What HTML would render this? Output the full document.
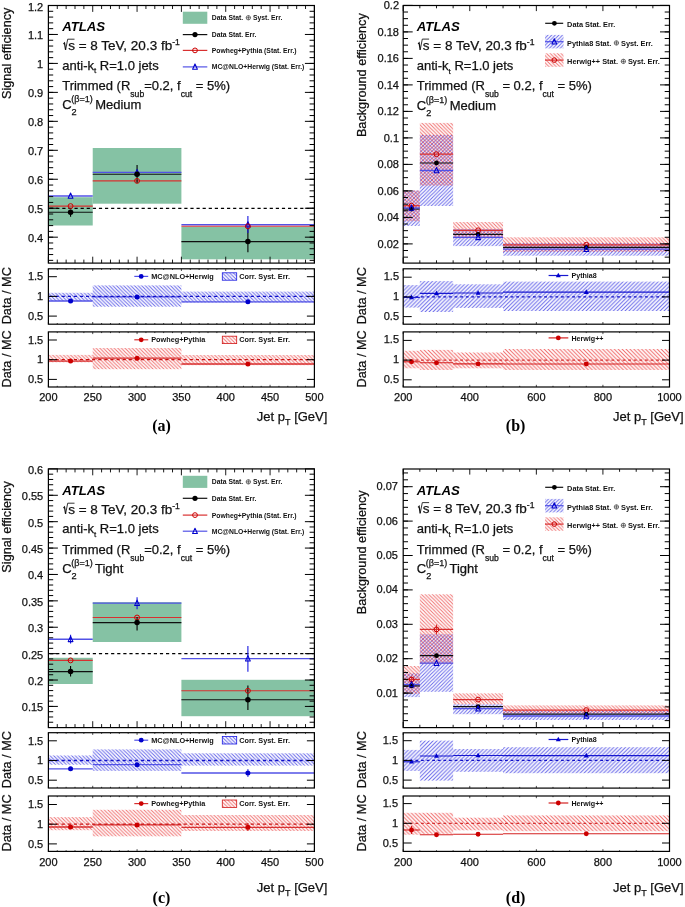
<!DOCTYPE html>
<html><head><meta charset="utf-8"><style>
html,body{margin:0;padding:0;background:#fff;}
svg{display:block;filter:blur(0.3px);}
</style></head><body>
<svg width="685" height="907" viewBox="0 0 685 907">
<rect width="685" height="907" fill="#fff"/>
<defs><pattern id="hrB" patternUnits="userSpaceOnUse" width="3.6" height="3.6"><path d="M-1,-1 L4.6,4.6 M-1,2.6 L1,4.6 M2.6,-1 L4.6,1" stroke="#2424e0" stroke-width="0.95" stroke-opacity="0.7"/></pattern><pattern id="hlB" patternUnits="userSpaceOnUse" width="3.6" height="3.6"><path d="M-1,4.6 L4.6,-1 M-1,1 L1,-1 M2.6,4.6 L4.6,2.6" stroke="#2424e0" stroke-width="0.95" stroke-opacity="0.7"/></pattern><pattern id="hrR" patternUnits="userSpaceOnUse" width="3.6" height="3.6"><path d="M-1,-1 L4.6,4.6 M-1,2.6 L1,4.6 M2.6,-1 L4.6,1" stroke="#e82424" stroke-width="0.95" stroke-opacity="0.65"/></pattern><pattern id="hlB4" patternUnits="userSpaceOnUse" width="3.9" height="3.9"><path d="M-1,4.9 L4.9,-1 M-1,1 L1,-1 M2.9,4.9 L4.9,2.9" stroke="#2424e0" stroke-width="1.0" stroke-opacity="0.7"/></pattern><pattern id="hrR4" patternUnits="userSpaceOnUse" width="3.9" height="3.9"><path d="M-1,-1 L4.9,4.9 M-1,2.9 L1,4.9 M2.9,-1 L4.9,1" stroke="#e82424" stroke-width="1.0" stroke-opacity="0.68"/></pattern></defs>
<rect x="48.4" y="197.2" width="44.33" height="28.3" fill="#85c2a4" stroke="none" stroke-width="1" />
<rect x="92.73" y="148" width="88.67" height="55.7" fill="#85c2a4" stroke="none" stroke-width="1" />
<rect x="181.4" y="226.9" width="133" height="32.4" fill="#85c2a4" stroke="none" stroke-width="1" />
<line x1="50.1" y1="208.4" x2="313.4" y2="208.4" stroke="#000" stroke-width="1.1" stroke-dasharray="3.2,2.9" stroke-linecap="butt"/>
<line x1="48.4" y1="196" x2="92.73" y2="196" stroke="#5252e6" stroke-width="1.4" stroke-linecap="butt"/>
<line x1="92.73" y1="172.4" x2="181.4" y2="172.4" stroke="#5252e6" stroke-width="1.4" stroke-linecap="butt"/>
<line x1="181.4" y1="224.7" x2="314.4" y2="224.7" stroke="#5252e6" stroke-width="1.4" stroke-linecap="butt"/>
<line x1="48.4" y1="206.1" x2="92.73" y2="206.1" stroke="#d83030" stroke-width="1.1" stroke-linecap="butt"/>
<line x1="92.73" y1="180.9" x2="181.4" y2="180.9" stroke="#d83030" stroke-width="1.1" stroke-linecap="butt"/>
<line x1="181.4" y1="226.3" x2="314.4" y2="226.3" stroke="#d83030" stroke-width="1.1" stroke-linecap="butt"/>
<line x1="48.4" y1="212.2" x2="92.73" y2="212.2" stroke="#101010" stroke-width="1.1" stroke-linecap="butt"/>
<line x1="92.73" y1="174.2" x2="181.4" y2="174.2" stroke="#101010" stroke-width="1.1" stroke-linecap="butt"/>
<line x1="181.4" y1="241.6" x2="314.4" y2="241.6" stroke="#101010" stroke-width="1.1" stroke-linecap="butt"/>
<line x1="70.57" y1="209.8" x2="70.57" y2="216.8" stroke="#000" stroke-width="1.1" stroke-linecap="butt"/>
<line x1="137.07" y1="165" x2="137.07" y2="183" stroke="#000" stroke-width="1.1" stroke-linecap="butt"/>
<line x1="247.9" y1="228.4" x2="247.9" y2="252.3" stroke="#000" stroke-width="1.1" stroke-linecap="butt"/>
<line x1="247.9" y1="216" x2="247.9" y2="233" stroke="#1818e0" stroke-width="1.1" stroke-linecap="butt"/>
<path d="M70.57,193 L72.97,198.3 L68.17,198.3 Z" fill="none" stroke="#0000cc" stroke-width="1.05" stroke-linejoin="round"/>
<path d="M137.07,169.4 L139.47,174.7 L134.67,174.7 Z" fill="none" stroke="#0000cc" stroke-width="1.05" stroke-linejoin="round"/>
<path d="M247.9,221.7 L250.3,227 L245.5,227 Z" fill="none" stroke="#0000cc" stroke-width="1.05" stroke-linejoin="round"/>
<circle cx="70.57" cy="206.1" r="2.45" fill="none" stroke="#cc0000" stroke-width="1"/>
<circle cx="137.07" cy="180.9" r="2.45" fill="none" stroke="#cc0000" stroke-width="1"/>
<circle cx="247.9" cy="226.3" r="2.45" fill="none" stroke="#cc0000" stroke-width="1"/>
<circle cx="70.57" cy="212.2" r="2.75" fill="#000"/>
<circle cx="137.07" cy="174.2" r="2.75" fill="#000"/>
<circle cx="247.9" cy="241.6" r="2.75" fill="#000"/>
<rect x="48.4" y="5.5" width="266" height="257.6" fill="none" stroke="#000" stroke-width="1.2" />
<line x1="48.4" y1="263.1" x2="48.4" y2="256.7" stroke="#000" stroke-width="0.9" stroke-linecap="butt"/>
<line x1="48.4" y1="5.5" x2="48.4" y2="11.9" stroke="#000" stroke-width="0.9" stroke-linecap="butt"/>
<line x1="57.27" y1="263.1" x2="57.27" y2="259.6" stroke="#000" stroke-width="0.9" stroke-linecap="butt"/>
<line x1="57.27" y1="5.5" x2="57.27" y2="9" stroke="#000" stroke-width="0.9" stroke-linecap="butt"/>
<line x1="66.13" y1="263.1" x2="66.13" y2="259.6" stroke="#000" stroke-width="0.9" stroke-linecap="butt"/>
<line x1="66.13" y1="5.5" x2="66.13" y2="9" stroke="#000" stroke-width="0.9" stroke-linecap="butt"/>
<line x1="75" y1="263.1" x2="75" y2="259.6" stroke="#000" stroke-width="0.9" stroke-linecap="butt"/>
<line x1="75" y1="5.5" x2="75" y2="9" stroke="#000" stroke-width="0.9" stroke-linecap="butt"/>
<line x1="83.87" y1="263.1" x2="83.87" y2="259.6" stroke="#000" stroke-width="0.9" stroke-linecap="butt"/>
<line x1="83.87" y1="5.5" x2="83.87" y2="9" stroke="#000" stroke-width="0.9" stroke-linecap="butt"/>
<line x1="92.73" y1="263.1" x2="92.73" y2="256.7" stroke="#000" stroke-width="0.9" stroke-linecap="butt"/>
<line x1="92.73" y1="5.5" x2="92.73" y2="11.9" stroke="#000" stroke-width="0.9" stroke-linecap="butt"/>
<line x1="101.6" y1="263.1" x2="101.6" y2="259.6" stroke="#000" stroke-width="0.9" stroke-linecap="butt"/>
<line x1="101.6" y1="5.5" x2="101.6" y2="9" stroke="#000" stroke-width="0.9" stroke-linecap="butt"/>
<line x1="110.47" y1="263.1" x2="110.47" y2="259.6" stroke="#000" stroke-width="0.9" stroke-linecap="butt"/>
<line x1="110.47" y1="5.5" x2="110.47" y2="9" stroke="#000" stroke-width="0.9" stroke-linecap="butt"/>
<line x1="119.33" y1="263.1" x2="119.33" y2="259.6" stroke="#000" stroke-width="0.9" stroke-linecap="butt"/>
<line x1="119.33" y1="5.5" x2="119.33" y2="9" stroke="#000" stroke-width="0.9" stroke-linecap="butt"/>
<line x1="128.2" y1="263.1" x2="128.2" y2="259.6" stroke="#000" stroke-width="0.9" stroke-linecap="butt"/>
<line x1="128.2" y1="5.5" x2="128.2" y2="9" stroke="#000" stroke-width="0.9" stroke-linecap="butt"/>
<line x1="137.07" y1="263.1" x2="137.07" y2="256.7" stroke="#000" stroke-width="0.9" stroke-linecap="butt"/>
<line x1="137.07" y1="5.5" x2="137.07" y2="11.9" stroke="#000" stroke-width="0.9" stroke-linecap="butt"/>
<line x1="145.93" y1="263.1" x2="145.93" y2="259.6" stroke="#000" stroke-width="0.9" stroke-linecap="butt"/>
<line x1="145.93" y1="5.5" x2="145.93" y2="9" stroke="#000" stroke-width="0.9" stroke-linecap="butt"/>
<line x1="154.8" y1="263.1" x2="154.8" y2="259.6" stroke="#000" stroke-width="0.9" stroke-linecap="butt"/>
<line x1="154.8" y1="5.5" x2="154.8" y2="9" stroke="#000" stroke-width="0.9" stroke-linecap="butt"/>
<line x1="163.67" y1="263.1" x2="163.67" y2="259.6" stroke="#000" stroke-width="0.9" stroke-linecap="butt"/>
<line x1="163.67" y1="5.5" x2="163.67" y2="9" stroke="#000" stroke-width="0.9" stroke-linecap="butt"/>
<line x1="172.53" y1="263.1" x2="172.53" y2="259.6" stroke="#000" stroke-width="0.9" stroke-linecap="butt"/>
<line x1="172.53" y1="5.5" x2="172.53" y2="9" stroke="#000" stroke-width="0.9" stroke-linecap="butt"/>
<line x1="181.4" y1="263.1" x2="181.4" y2="256.7" stroke="#000" stroke-width="0.9" stroke-linecap="butt"/>
<line x1="181.4" y1="5.5" x2="181.4" y2="11.9" stroke="#000" stroke-width="0.9" stroke-linecap="butt"/>
<line x1="190.27" y1="263.1" x2="190.27" y2="259.6" stroke="#000" stroke-width="0.9" stroke-linecap="butt"/>
<line x1="190.27" y1="5.5" x2="190.27" y2="9" stroke="#000" stroke-width="0.9" stroke-linecap="butt"/>
<line x1="199.13" y1="263.1" x2="199.13" y2="259.6" stroke="#000" stroke-width="0.9" stroke-linecap="butt"/>
<line x1="199.13" y1="5.5" x2="199.13" y2="9" stroke="#000" stroke-width="0.9" stroke-linecap="butt"/>
<line x1="208" y1="263.1" x2="208" y2="259.6" stroke="#000" stroke-width="0.9" stroke-linecap="butt"/>
<line x1="208" y1="5.5" x2="208" y2="9" stroke="#000" stroke-width="0.9" stroke-linecap="butt"/>
<line x1="216.87" y1="263.1" x2="216.87" y2="259.6" stroke="#000" stroke-width="0.9" stroke-linecap="butt"/>
<line x1="216.87" y1="5.5" x2="216.87" y2="9" stroke="#000" stroke-width="0.9" stroke-linecap="butt"/>
<line x1="225.73" y1="263.1" x2="225.73" y2="256.7" stroke="#000" stroke-width="0.9" stroke-linecap="butt"/>
<line x1="225.73" y1="5.5" x2="225.73" y2="11.9" stroke="#000" stroke-width="0.9" stroke-linecap="butt"/>
<line x1="234.6" y1="263.1" x2="234.6" y2="259.6" stroke="#000" stroke-width="0.9" stroke-linecap="butt"/>
<line x1="234.6" y1="5.5" x2="234.6" y2="9" stroke="#000" stroke-width="0.9" stroke-linecap="butt"/>
<line x1="243.47" y1="263.1" x2="243.47" y2="259.6" stroke="#000" stroke-width="0.9" stroke-linecap="butt"/>
<line x1="243.47" y1="5.5" x2="243.47" y2="9" stroke="#000" stroke-width="0.9" stroke-linecap="butt"/>
<line x1="252.33" y1="263.1" x2="252.33" y2="259.6" stroke="#000" stroke-width="0.9" stroke-linecap="butt"/>
<line x1="252.33" y1="5.5" x2="252.33" y2="9" stroke="#000" stroke-width="0.9" stroke-linecap="butt"/>
<line x1="261.2" y1="263.1" x2="261.2" y2="259.6" stroke="#000" stroke-width="0.9" stroke-linecap="butt"/>
<line x1="261.2" y1="5.5" x2="261.2" y2="9" stroke="#000" stroke-width="0.9" stroke-linecap="butt"/>
<line x1="270.07" y1="263.1" x2="270.07" y2="256.7" stroke="#000" stroke-width="0.9" stroke-linecap="butt"/>
<line x1="270.07" y1="5.5" x2="270.07" y2="11.9" stroke="#000" stroke-width="0.9" stroke-linecap="butt"/>
<line x1="278.93" y1="263.1" x2="278.93" y2="259.6" stroke="#000" stroke-width="0.9" stroke-linecap="butt"/>
<line x1="278.93" y1="5.5" x2="278.93" y2="9" stroke="#000" stroke-width="0.9" stroke-linecap="butt"/>
<line x1="287.8" y1="263.1" x2="287.8" y2="259.6" stroke="#000" stroke-width="0.9" stroke-linecap="butt"/>
<line x1="287.8" y1="5.5" x2="287.8" y2="9" stroke="#000" stroke-width="0.9" stroke-linecap="butt"/>
<line x1="296.67" y1="263.1" x2="296.67" y2="259.6" stroke="#000" stroke-width="0.9" stroke-linecap="butt"/>
<line x1="296.67" y1="5.5" x2="296.67" y2="9" stroke="#000" stroke-width="0.9" stroke-linecap="butt"/>
<line x1="305.53" y1="263.1" x2="305.53" y2="259.6" stroke="#000" stroke-width="0.9" stroke-linecap="butt"/>
<line x1="305.53" y1="5.5" x2="305.53" y2="9" stroke="#000" stroke-width="0.9" stroke-linecap="butt"/>
<line x1="314.4" y1="263.1" x2="314.4" y2="256.7" stroke="#000" stroke-width="0.9" stroke-linecap="butt"/>
<line x1="314.4" y1="5.5" x2="314.4" y2="11.9" stroke="#000" stroke-width="0.9" stroke-linecap="butt"/>
<line x1="48.4" y1="237.18" x2="57.9" y2="237.18" stroke="#000" stroke-width="1" stroke-linecap="butt"/>
<line x1="314.4" y1="237.18" x2="304.9" y2="237.18" stroke="#000" stroke-width="1" stroke-linecap="butt"/>
<line x1="48.4" y1="208.22" x2="57.9" y2="208.22" stroke="#000" stroke-width="1" stroke-linecap="butt"/>
<line x1="314.4" y1="208.22" x2="304.9" y2="208.22" stroke="#000" stroke-width="1" stroke-linecap="butt"/>
<line x1="48.4" y1="179.26" x2="57.9" y2="179.26" stroke="#000" stroke-width="1" stroke-linecap="butt"/>
<line x1="314.4" y1="179.26" x2="304.9" y2="179.26" stroke="#000" stroke-width="1" stroke-linecap="butt"/>
<line x1="48.4" y1="150.3" x2="57.9" y2="150.3" stroke="#000" stroke-width="1" stroke-linecap="butt"/>
<line x1="314.4" y1="150.3" x2="304.9" y2="150.3" stroke="#000" stroke-width="1" stroke-linecap="butt"/>
<line x1="48.4" y1="121.34" x2="57.9" y2="121.34" stroke="#000" stroke-width="1" stroke-linecap="butt"/>
<line x1="314.4" y1="121.34" x2="304.9" y2="121.34" stroke="#000" stroke-width="1" stroke-linecap="butt"/>
<line x1="48.4" y1="92.38" x2="57.9" y2="92.38" stroke="#000" stroke-width="1" stroke-linecap="butt"/>
<line x1="314.4" y1="92.38" x2="304.9" y2="92.38" stroke="#000" stroke-width="1" stroke-linecap="butt"/>
<line x1="48.4" y1="63.42" x2="57.9" y2="63.42" stroke="#000" stroke-width="1" stroke-linecap="butt"/>
<line x1="314.4" y1="63.42" x2="304.9" y2="63.42" stroke="#000" stroke-width="1" stroke-linecap="butt"/>
<line x1="48.4" y1="34.46" x2="57.9" y2="34.46" stroke="#000" stroke-width="1" stroke-linecap="butt"/>
<line x1="314.4" y1="34.46" x2="304.9" y2="34.46" stroke="#000" stroke-width="1" stroke-linecap="butt"/>
<line x1="48.4" y1="5.5" x2="57.9" y2="5.5" stroke="#000" stroke-width="1" stroke-linecap="butt"/>
<line x1="314.4" y1="5.5" x2="304.9" y2="5.5" stroke="#000" stroke-width="1" stroke-linecap="butt"/>
<line x1="48.4" y1="260.35" x2="53.2" y2="260.35" stroke="#000" stroke-width="1" stroke-linecap="butt"/>
<line x1="314.4" y1="260.35" x2="309.6" y2="260.35" stroke="#000" stroke-width="1" stroke-linecap="butt"/>
<line x1="48.4" y1="254.56" x2="53.2" y2="254.56" stroke="#000" stroke-width="1" stroke-linecap="butt"/>
<line x1="314.4" y1="254.56" x2="309.6" y2="254.56" stroke="#000" stroke-width="1" stroke-linecap="butt"/>
<line x1="48.4" y1="248.76" x2="53.2" y2="248.76" stroke="#000" stroke-width="1" stroke-linecap="butt"/>
<line x1="314.4" y1="248.76" x2="309.6" y2="248.76" stroke="#000" stroke-width="1" stroke-linecap="butt"/>
<line x1="48.4" y1="242.97" x2="53.2" y2="242.97" stroke="#000" stroke-width="1" stroke-linecap="butt"/>
<line x1="314.4" y1="242.97" x2="309.6" y2="242.97" stroke="#000" stroke-width="1" stroke-linecap="butt"/>
<line x1="48.4" y1="237.18" x2="53.2" y2="237.18" stroke="#000" stroke-width="1" stroke-linecap="butt"/>
<line x1="314.4" y1="237.18" x2="309.6" y2="237.18" stroke="#000" stroke-width="1" stroke-linecap="butt"/>
<line x1="48.4" y1="231.39" x2="53.2" y2="231.39" stroke="#000" stroke-width="1" stroke-linecap="butt"/>
<line x1="314.4" y1="231.39" x2="309.6" y2="231.39" stroke="#000" stroke-width="1" stroke-linecap="butt"/>
<line x1="48.4" y1="225.6" x2="53.2" y2="225.6" stroke="#000" stroke-width="1" stroke-linecap="butt"/>
<line x1="314.4" y1="225.6" x2="309.6" y2="225.6" stroke="#000" stroke-width="1" stroke-linecap="butt"/>
<line x1="48.4" y1="219.8" x2="53.2" y2="219.8" stroke="#000" stroke-width="1" stroke-linecap="butt"/>
<line x1="314.4" y1="219.8" x2="309.6" y2="219.8" stroke="#000" stroke-width="1" stroke-linecap="butt"/>
<line x1="48.4" y1="214.01" x2="53.2" y2="214.01" stroke="#000" stroke-width="1" stroke-linecap="butt"/>
<line x1="314.4" y1="214.01" x2="309.6" y2="214.01" stroke="#000" stroke-width="1" stroke-linecap="butt"/>
<line x1="48.4" y1="208.22" x2="53.2" y2="208.22" stroke="#000" stroke-width="1" stroke-linecap="butt"/>
<line x1="314.4" y1="208.22" x2="309.6" y2="208.22" stroke="#000" stroke-width="1" stroke-linecap="butt"/>
<line x1="48.4" y1="202.43" x2="53.2" y2="202.43" stroke="#000" stroke-width="1" stroke-linecap="butt"/>
<line x1="314.4" y1="202.43" x2="309.6" y2="202.43" stroke="#000" stroke-width="1" stroke-linecap="butt"/>
<line x1="48.4" y1="196.64" x2="53.2" y2="196.64" stroke="#000" stroke-width="1" stroke-linecap="butt"/>
<line x1="314.4" y1="196.64" x2="309.6" y2="196.64" stroke="#000" stroke-width="1" stroke-linecap="butt"/>
<line x1="48.4" y1="190.84" x2="53.2" y2="190.84" stroke="#000" stroke-width="1" stroke-linecap="butt"/>
<line x1="314.4" y1="190.84" x2="309.6" y2="190.84" stroke="#000" stroke-width="1" stroke-linecap="butt"/>
<line x1="48.4" y1="185.05" x2="53.2" y2="185.05" stroke="#000" stroke-width="1" stroke-linecap="butt"/>
<line x1="314.4" y1="185.05" x2="309.6" y2="185.05" stroke="#000" stroke-width="1" stroke-linecap="butt"/>
<line x1="48.4" y1="179.26" x2="53.2" y2="179.26" stroke="#000" stroke-width="1" stroke-linecap="butt"/>
<line x1="314.4" y1="179.26" x2="309.6" y2="179.26" stroke="#000" stroke-width="1" stroke-linecap="butt"/>
<line x1="48.4" y1="173.47" x2="53.2" y2="173.47" stroke="#000" stroke-width="1" stroke-linecap="butt"/>
<line x1="314.4" y1="173.47" x2="309.6" y2="173.47" stroke="#000" stroke-width="1" stroke-linecap="butt"/>
<line x1="48.4" y1="167.68" x2="53.2" y2="167.68" stroke="#000" stroke-width="1" stroke-linecap="butt"/>
<line x1="314.4" y1="167.68" x2="309.6" y2="167.68" stroke="#000" stroke-width="1" stroke-linecap="butt"/>
<line x1="48.4" y1="161.88" x2="53.2" y2="161.88" stroke="#000" stroke-width="1" stroke-linecap="butt"/>
<line x1="314.4" y1="161.88" x2="309.6" y2="161.88" stroke="#000" stroke-width="1" stroke-linecap="butt"/>
<line x1="48.4" y1="156.09" x2="53.2" y2="156.09" stroke="#000" stroke-width="1" stroke-linecap="butt"/>
<line x1="314.4" y1="156.09" x2="309.6" y2="156.09" stroke="#000" stroke-width="1" stroke-linecap="butt"/>
<line x1="48.4" y1="150.3" x2="53.2" y2="150.3" stroke="#000" stroke-width="1" stroke-linecap="butt"/>
<line x1="314.4" y1="150.3" x2="309.6" y2="150.3" stroke="#000" stroke-width="1" stroke-linecap="butt"/>
<line x1="48.4" y1="144.51" x2="53.2" y2="144.51" stroke="#000" stroke-width="1" stroke-linecap="butt"/>
<line x1="314.4" y1="144.51" x2="309.6" y2="144.51" stroke="#000" stroke-width="1" stroke-linecap="butt"/>
<line x1="48.4" y1="138.72" x2="53.2" y2="138.72" stroke="#000" stroke-width="1" stroke-linecap="butt"/>
<line x1="314.4" y1="138.72" x2="309.6" y2="138.72" stroke="#000" stroke-width="1" stroke-linecap="butt"/>
<line x1="48.4" y1="132.92" x2="53.2" y2="132.92" stroke="#000" stroke-width="1" stroke-linecap="butt"/>
<line x1="314.4" y1="132.92" x2="309.6" y2="132.92" stroke="#000" stroke-width="1" stroke-linecap="butt"/>
<line x1="48.4" y1="127.13" x2="53.2" y2="127.13" stroke="#000" stroke-width="1" stroke-linecap="butt"/>
<line x1="314.4" y1="127.13" x2="309.6" y2="127.13" stroke="#000" stroke-width="1" stroke-linecap="butt"/>
<line x1="48.4" y1="121.34" x2="53.2" y2="121.34" stroke="#000" stroke-width="1" stroke-linecap="butt"/>
<line x1="314.4" y1="121.34" x2="309.6" y2="121.34" stroke="#000" stroke-width="1" stroke-linecap="butt"/>
<line x1="48.4" y1="115.55" x2="53.2" y2="115.55" stroke="#000" stroke-width="1" stroke-linecap="butt"/>
<line x1="314.4" y1="115.55" x2="309.6" y2="115.55" stroke="#000" stroke-width="1" stroke-linecap="butt"/>
<line x1="48.4" y1="109.76" x2="53.2" y2="109.76" stroke="#000" stroke-width="1" stroke-linecap="butt"/>
<line x1="314.4" y1="109.76" x2="309.6" y2="109.76" stroke="#000" stroke-width="1" stroke-linecap="butt"/>
<line x1="48.4" y1="103.96" x2="53.2" y2="103.96" stroke="#000" stroke-width="1" stroke-linecap="butt"/>
<line x1="314.4" y1="103.96" x2="309.6" y2="103.96" stroke="#000" stroke-width="1" stroke-linecap="butt"/>
<line x1="48.4" y1="98.17" x2="53.2" y2="98.17" stroke="#000" stroke-width="1" stroke-linecap="butt"/>
<line x1="314.4" y1="98.17" x2="309.6" y2="98.17" stroke="#000" stroke-width="1" stroke-linecap="butt"/>
<line x1="48.4" y1="92.38" x2="53.2" y2="92.38" stroke="#000" stroke-width="1" stroke-linecap="butt"/>
<line x1="314.4" y1="92.38" x2="309.6" y2="92.38" stroke="#000" stroke-width="1" stroke-linecap="butt"/>
<line x1="48.4" y1="86.59" x2="53.2" y2="86.59" stroke="#000" stroke-width="1" stroke-linecap="butt"/>
<line x1="314.4" y1="86.59" x2="309.6" y2="86.59" stroke="#000" stroke-width="1" stroke-linecap="butt"/>
<line x1="48.4" y1="80.8" x2="53.2" y2="80.8" stroke="#000" stroke-width="1" stroke-linecap="butt"/>
<line x1="314.4" y1="80.8" x2="309.6" y2="80.8" stroke="#000" stroke-width="1" stroke-linecap="butt"/>
<line x1="48.4" y1="75" x2="53.2" y2="75" stroke="#000" stroke-width="1" stroke-linecap="butt"/>
<line x1="314.4" y1="75" x2="309.6" y2="75" stroke="#000" stroke-width="1" stroke-linecap="butt"/>
<line x1="48.4" y1="69.21" x2="53.2" y2="69.21" stroke="#000" stroke-width="1" stroke-linecap="butt"/>
<line x1="314.4" y1="69.21" x2="309.6" y2="69.21" stroke="#000" stroke-width="1" stroke-linecap="butt"/>
<line x1="48.4" y1="63.42" x2="53.2" y2="63.42" stroke="#000" stroke-width="1" stroke-linecap="butt"/>
<line x1="314.4" y1="63.42" x2="309.6" y2="63.42" stroke="#000" stroke-width="1" stroke-linecap="butt"/>
<line x1="48.4" y1="57.63" x2="53.2" y2="57.63" stroke="#000" stroke-width="1" stroke-linecap="butt"/>
<line x1="314.4" y1="57.63" x2="309.6" y2="57.63" stroke="#000" stroke-width="1" stroke-linecap="butt"/>
<line x1="48.4" y1="51.84" x2="53.2" y2="51.84" stroke="#000" stroke-width="1" stroke-linecap="butt"/>
<line x1="314.4" y1="51.84" x2="309.6" y2="51.84" stroke="#000" stroke-width="1" stroke-linecap="butt"/>
<line x1="48.4" y1="46.04" x2="53.2" y2="46.04" stroke="#000" stroke-width="1" stroke-linecap="butt"/>
<line x1="314.4" y1="46.04" x2="309.6" y2="46.04" stroke="#000" stroke-width="1" stroke-linecap="butt"/>
<line x1="48.4" y1="40.25" x2="53.2" y2="40.25" stroke="#000" stroke-width="1" stroke-linecap="butt"/>
<line x1="314.4" y1="40.25" x2="309.6" y2="40.25" stroke="#000" stroke-width="1" stroke-linecap="butt"/>
<line x1="48.4" y1="34.46" x2="53.2" y2="34.46" stroke="#000" stroke-width="1" stroke-linecap="butt"/>
<line x1="314.4" y1="34.46" x2="309.6" y2="34.46" stroke="#000" stroke-width="1" stroke-linecap="butt"/>
<line x1="48.4" y1="28.67" x2="53.2" y2="28.67" stroke="#000" stroke-width="1" stroke-linecap="butt"/>
<line x1="314.4" y1="28.67" x2="309.6" y2="28.67" stroke="#000" stroke-width="1" stroke-linecap="butt"/>
<line x1="48.4" y1="22.88" x2="53.2" y2="22.88" stroke="#000" stroke-width="1" stroke-linecap="butt"/>
<line x1="314.4" y1="22.88" x2="309.6" y2="22.88" stroke="#000" stroke-width="1" stroke-linecap="butt"/>
<line x1="48.4" y1="17.08" x2="53.2" y2="17.08" stroke="#000" stroke-width="1" stroke-linecap="butt"/>
<line x1="314.4" y1="17.08" x2="309.6" y2="17.08" stroke="#000" stroke-width="1" stroke-linecap="butt"/>
<line x1="48.4" y1="11.29" x2="53.2" y2="11.29" stroke="#000" stroke-width="1" stroke-linecap="butt"/>
<line x1="314.4" y1="11.29" x2="309.6" y2="11.29" stroke="#000" stroke-width="1" stroke-linecap="butt"/>
<text x="43.2" y="242.18" font-family="Liberation Sans" font-size="11" font-weight="normal" font-style="normal" text-anchor="end" fill="#111" stroke="#111" stroke-width="0.25" >0.4</text>
<text x="43.2" y="213.22" font-family="Liberation Sans" font-size="11" font-weight="normal" font-style="normal" text-anchor="end" fill="#111" stroke="#111" stroke-width="0.25" >0.5</text>
<text x="43.2" y="184.26" font-family="Liberation Sans" font-size="11" font-weight="normal" font-style="normal" text-anchor="end" fill="#111" stroke="#111" stroke-width="0.25" >0.6</text>
<text x="43.2" y="155.3" font-family="Liberation Sans" font-size="11" font-weight="normal" font-style="normal" text-anchor="end" fill="#111" stroke="#111" stroke-width="0.25" >0.7</text>
<text x="43.2" y="126.34" font-family="Liberation Sans" font-size="11" font-weight="normal" font-style="normal" text-anchor="end" fill="#111" stroke="#111" stroke-width="0.25" >0.8</text>
<text x="43.2" y="97.38" font-family="Liberation Sans" font-size="11" font-weight="normal" font-style="normal" text-anchor="end" fill="#111" stroke="#111" stroke-width="0.25" >0.9</text>
<text x="43.2" y="68.42" font-family="Liberation Sans" font-size="11" font-weight="normal" font-style="normal" text-anchor="end" fill="#111" stroke="#111" stroke-width="0.25" >1</text>
<text x="43.2" y="39.46" font-family="Liberation Sans" font-size="11" font-weight="normal" font-style="normal" text-anchor="end" fill="#111" stroke="#111" stroke-width="0.25" >1.1</text>
<text x="43.2" y="10.5" font-family="Liberation Sans" font-size="11" font-weight="normal" font-style="normal" text-anchor="end" fill="#111" stroke="#111" stroke-width="0.25" >1.2</text>
<text x="0" y="0" font-family="Liberation Sans" font-size="12.7" font-weight="normal" font-style="normal" text-anchor="end" fill="#111" stroke="#111" stroke-width="0.25" transform="translate(11.4,7.6) rotate(-90)">Signal efficiency</text>
<text x="62.2" y="30.6" font-family="Liberation Sans" font-size="13.2" font-weight="bold" font-style="italic" text-anchor="start" fill="#000" >ATLAS</text>
<path d="M63.5,44 L64.5,43 L65.6,49.9" fill="none" stroke="#111" stroke-width="1.25" stroke-linejoin="miter"/>
<path d="M65.6,49.9 L67.7,39.2 L74.5,39.2" fill="none" stroke="#111" stroke-width="0.85"/>
<text x="68.2" y="49.6" font-family="Liberation Sans" font-size="13.5" font-weight="normal" font-style="normal" text-anchor="start" fill="#111" stroke="#111" stroke-width="0.25" >s = 8 TeV, 20.3 fb<tspan font-size="8.6" dy="-5.0">-1</tspan></text>
<text x="62.2" y="69.6" font-family="Liberation Sans" font-size="13" font-weight="normal" font-style="normal" text-anchor="start" fill="#111" stroke="#111" stroke-width="0.25" >anti-k<tspan font-size="8" dy="3.6">t</tspan><tspan dy="-3.6"> R=1.0 jets</tspan></text>
<text x="62.2" y="89.9" font-family="Liberation Sans" font-size="13" font-weight="normal" font-style="normal" text-anchor="start" fill="#111" stroke="#111" stroke-width="0.25" >Trimmed (R<tspan font-size="8.6" dy="6.8">sub</tspan><tspan dy="-6.8">=0.2, f</tspan><tspan font-size="8.6" dy="6.8">cut</tspan><tspan dy="-6.8"> = 5%)</tspan></text>
<text x="62.2" y="108.9" font-family="Liberation Sans" font-size="13" font-weight="normal" font-style="normal" text-anchor="start" fill="#111" stroke="#111" stroke-width="0.25" >C<tspan font-size="9.2" dy="6">2</tspan><tspan font-size="9" dx="-5.5" dy="-13">(&#946;=1)</tspan><tspan dy="7" dx="-1.1"> Medium</tspan></text>
<rect x="182.8" y="11.7" width="24.5" height="12.1" fill="#85c2a4" stroke="none" stroke-width="1" />
<text x="211.8" y="20.2" font-family="Liberation Sans" font-size="6.8" font-weight="bold" font-style="normal" text-anchor="start" fill="#111" >Data Stat.</text>
<circle cx="248.36" cy="17.75" r="2.2" fill="none" stroke="#222" stroke-width="0.6"/>
<line x1="246.16" y1="17.75" x2="250.56" y2="17.75" stroke="#222" stroke-width="0.6" stroke-linecap="butt"/>
<line x1="248.36" y1="15.55" x2="248.36" y2="19.95" stroke="#222" stroke-width="0.6" stroke-linecap="butt"/>
<text x="252.96" y="20.2" font-family="Liberation Sans" font-size="6.8" font-weight="bold" font-style="normal" text-anchor="start" fill="#111" >Syst. Err.</text>
<line x1="182.8" y1="34.6" x2="207.3" y2="34.6" stroke="#101010" stroke-width="1.2" stroke-linecap="butt"/>
<circle cx="195" cy="34.6" r="2.6" fill="#000"/>
<text x="211.8" y="37.1" font-family="Liberation Sans" font-size="6.8" font-weight="bold" font-style="normal" text-anchor="start" fill="#111" >Data Stat. Err.</text>
<line x1="182.8" y1="50.4" x2="207.3" y2="50.4" stroke="#d83030" stroke-width="1.2" stroke-linecap="butt"/>
<circle cx="195" cy="50.4" r="2.4" fill="none" stroke="#cc0000" stroke-width="1"/>
<text x="211.8" y="52.9" font-family="Liberation Sans" font-size="6.8" font-weight="bold" font-style="normal" text-anchor="start" fill="#111" >Powheg+Pythia (Stat. Err.)</text>
<line x1="182.8" y1="66.9" x2="207.3" y2="66.9" stroke="#5252e6" stroke-width="1.2" stroke-linecap="butt"/>
<path d="M195,63.9 L197.4,69.2 L192.6,69.2 Z" fill="none" stroke="#0000cc" stroke-width="1.05" stroke-linejoin="round"/>
<text x="211.8" y="69.4" font-family="Liberation Sans" font-size="6.8" font-weight="bold" font-style="normal" text-anchor="start" fill="#111" >MC@NLO+Herwig (Stat. Err.)</text>
<rect x="48.4" y="292.8" width="44.33" height="8.2" fill="url(#hrB)" stroke="none" stroke-width="1" />
<rect x="92.73" y="285.4" width="88.67" height="21.3" fill="url(#hrB)" stroke="none" stroke-width="1" />
<rect x="181.4" y="291.6" width="133" height="11" fill="url(#hrB)" stroke="none" stroke-width="1" />
<line x1="48.4" y1="301" x2="92.73" y2="301" stroke="#5252e6" stroke-width="1.3" stroke-linecap="butt"/>
<line x1="92.73" y1="296.9" x2="181.4" y2="296.9" stroke="#5252e6" stroke-width="1.3" stroke-linecap="butt"/>
<line x1="181.4" y1="301.8" x2="314.4" y2="301.8" stroke="#5252e6" stroke-width="1.3" stroke-linecap="butt"/>
<line x1="49.4" y1="296.4" x2="313.4" y2="296.4" stroke="#1010c8" stroke-width="1.3" stroke-dasharray="3.2,2.9" stroke-linecap="butt"/>
<circle cx="70.57" cy="301" r="2.5" fill="#0000cc"/>
<circle cx="137.07" cy="296.9" r="2.5" fill="#0000cc"/>
<circle cx="247.9" cy="301.8" r="2.5" fill="#0000cc"/>
<rect x="48.4" y="268.8" width="266" height="55.4" fill="none" stroke="#000" stroke-width="1.2" />
<line x1="48.4" y1="324.2" x2="48.4" y2="322" stroke="#000" stroke-width="0.7" stroke-linecap="butt"/>
<line x1="48.4" y1="268.8" x2="48.4" y2="271" stroke="#000" stroke-width="0.7" stroke-linecap="butt"/>
<line x1="57.27" y1="324.2" x2="57.27" y2="323" stroke="#000" stroke-width="0.7" stroke-linecap="butt"/>
<line x1="57.27" y1="268.8" x2="57.27" y2="270" stroke="#000" stroke-width="0.7" stroke-linecap="butt"/>
<line x1="66.13" y1="324.2" x2="66.13" y2="323" stroke="#000" stroke-width="0.7" stroke-linecap="butt"/>
<line x1="66.13" y1="268.8" x2="66.13" y2="270" stroke="#000" stroke-width="0.7" stroke-linecap="butt"/>
<line x1="75" y1="324.2" x2="75" y2="323" stroke="#000" stroke-width="0.7" stroke-linecap="butt"/>
<line x1="75" y1="268.8" x2="75" y2="270" stroke="#000" stroke-width="0.7" stroke-linecap="butt"/>
<line x1="83.87" y1="324.2" x2="83.87" y2="323" stroke="#000" stroke-width="0.7" stroke-linecap="butt"/>
<line x1="83.87" y1="268.8" x2="83.87" y2="270" stroke="#000" stroke-width="0.7" stroke-linecap="butt"/>
<line x1="92.73" y1="324.2" x2="92.73" y2="322" stroke="#000" stroke-width="0.7" stroke-linecap="butt"/>
<line x1="92.73" y1="268.8" x2="92.73" y2="271" stroke="#000" stroke-width="0.7" stroke-linecap="butt"/>
<line x1="101.6" y1="324.2" x2="101.6" y2="323" stroke="#000" stroke-width="0.7" stroke-linecap="butt"/>
<line x1="101.6" y1="268.8" x2="101.6" y2="270" stroke="#000" stroke-width="0.7" stroke-linecap="butt"/>
<line x1="110.47" y1="324.2" x2="110.47" y2="323" stroke="#000" stroke-width="0.7" stroke-linecap="butt"/>
<line x1="110.47" y1="268.8" x2="110.47" y2="270" stroke="#000" stroke-width="0.7" stroke-linecap="butt"/>
<line x1="119.33" y1="324.2" x2="119.33" y2="323" stroke="#000" stroke-width="0.7" stroke-linecap="butt"/>
<line x1="119.33" y1="268.8" x2="119.33" y2="270" stroke="#000" stroke-width="0.7" stroke-linecap="butt"/>
<line x1="128.2" y1="324.2" x2="128.2" y2="323" stroke="#000" stroke-width="0.7" stroke-linecap="butt"/>
<line x1="128.2" y1="268.8" x2="128.2" y2="270" stroke="#000" stroke-width="0.7" stroke-linecap="butt"/>
<line x1="137.07" y1="324.2" x2="137.07" y2="322" stroke="#000" stroke-width="0.7" stroke-linecap="butt"/>
<line x1="137.07" y1="268.8" x2="137.07" y2="271" stroke="#000" stroke-width="0.7" stroke-linecap="butt"/>
<line x1="145.93" y1="324.2" x2="145.93" y2="323" stroke="#000" stroke-width="0.7" stroke-linecap="butt"/>
<line x1="145.93" y1="268.8" x2="145.93" y2="270" stroke="#000" stroke-width="0.7" stroke-linecap="butt"/>
<line x1="154.8" y1="324.2" x2="154.8" y2="323" stroke="#000" stroke-width="0.7" stroke-linecap="butt"/>
<line x1="154.8" y1="268.8" x2="154.8" y2="270" stroke="#000" stroke-width="0.7" stroke-linecap="butt"/>
<line x1="163.67" y1="324.2" x2="163.67" y2="323" stroke="#000" stroke-width="0.7" stroke-linecap="butt"/>
<line x1="163.67" y1="268.8" x2="163.67" y2="270" stroke="#000" stroke-width="0.7" stroke-linecap="butt"/>
<line x1="172.53" y1="324.2" x2="172.53" y2="323" stroke="#000" stroke-width="0.7" stroke-linecap="butt"/>
<line x1="172.53" y1="268.8" x2="172.53" y2="270" stroke="#000" stroke-width="0.7" stroke-linecap="butt"/>
<line x1="181.4" y1="324.2" x2="181.4" y2="322" stroke="#000" stroke-width="0.7" stroke-linecap="butt"/>
<line x1="181.4" y1="268.8" x2="181.4" y2="271" stroke="#000" stroke-width="0.7" stroke-linecap="butt"/>
<line x1="190.27" y1="324.2" x2="190.27" y2="323" stroke="#000" stroke-width="0.7" stroke-linecap="butt"/>
<line x1="190.27" y1="268.8" x2="190.27" y2="270" stroke="#000" stroke-width="0.7" stroke-linecap="butt"/>
<line x1="199.13" y1="324.2" x2="199.13" y2="323" stroke="#000" stroke-width="0.7" stroke-linecap="butt"/>
<line x1="199.13" y1="268.8" x2="199.13" y2="270" stroke="#000" stroke-width="0.7" stroke-linecap="butt"/>
<line x1="208" y1="324.2" x2="208" y2="323" stroke="#000" stroke-width="0.7" stroke-linecap="butt"/>
<line x1="208" y1="268.8" x2="208" y2="270" stroke="#000" stroke-width="0.7" stroke-linecap="butt"/>
<line x1="216.87" y1="324.2" x2="216.87" y2="323" stroke="#000" stroke-width="0.7" stroke-linecap="butt"/>
<line x1="216.87" y1="268.8" x2="216.87" y2="270" stroke="#000" stroke-width="0.7" stroke-linecap="butt"/>
<line x1="225.73" y1="324.2" x2="225.73" y2="322" stroke="#000" stroke-width="0.7" stroke-linecap="butt"/>
<line x1="225.73" y1="268.8" x2="225.73" y2="271" stroke="#000" stroke-width="0.7" stroke-linecap="butt"/>
<line x1="234.6" y1="324.2" x2="234.6" y2="323" stroke="#000" stroke-width="0.7" stroke-linecap="butt"/>
<line x1="234.6" y1="268.8" x2="234.6" y2="270" stroke="#000" stroke-width="0.7" stroke-linecap="butt"/>
<line x1="243.47" y1="324.2" x2="243.47" y2="323" stroke="#000" stroke-width="0.7" stroke-linecap="butt"/>
<line x1="243.47" y1="268.8" x2="243.47" y2="270" stroke="#000" stroke-width="0.7" stroke-linecap="butt"/>
<line x1="252.33" y1="324.2" x2="252.33" y2="323" stroke="#000" stroke-width="0.7" stroke-linecap="butt"/>
<line x1="252.33" y1="268.8" x2="252.33" y2="270" stroke="#000" stroke-width="0.7" stroke-linecap="butt"/>
<line x1="261.2" y1="324.2" x2="261.2" y2="323" stroke="#000" stroke-width="0.7" stroke-linecap="butt"/>
<line x1="261.2" y1="268.8" x2="261.2" y2="270" stroke="#000" stroke-width="0.7" stroke-linecap="butt"/>
<line x1="270.07" y1="324.2" x2="270.07" y2="322" stroke="#000" stroke-width="0.7" stroke-linecap="butt"/>
<line x1="270.07" y1="268.8" x2="270.07" y2="271" stroke="#000" stroke-width="0.7" stroke-linecap="butt"/>
<line x1="278.93" y1="324.2" x2="278.93" y2="323" stroke="#000" stroke-width="0.7" stroke-linecap="butt"/>
<line x1="278.93" y1="268.8" x2="278.93" y2="270" stroke="#000" stroke-width="0.7" stroke-linecap="butt"/>
<line x1="287.8" y1="324.2" x2="287.8" y2="323" stroke="#000" stroke-width="0.7" stroke-linecap="butt"/>
<line x1="287.8" y1="268.8" x2="287.8" y2="270" stroke="#000" stroke-width="0.7" stroke-linecap="butt"/>
<line x1="296.67" y1="324.2" x2="296.67" y2="323" stroke="#000" stroke-width="0.7" stroke-linecap="butt"/>
<line x1="296.67" y1="268.8" x2="296.67" y2="270" stroke="#000" stroke-width="0.7" stroke-linecap="butt"/>
<line x1="305.53" y1="324.2" x2="305.53" y2="323" stroke="#000" stroke-width="0.7" stroke-linecap="butt"/>
<line x1="305.53" y1="268.8" x2="305.53" y2="270" stroke="#000" stroke-width="0.7" stroke-linecap="butt"/>
<line x1="314.4" y1="324.2" x2="314.4" y2="322" stroke="#000" stroke-width="0.7" stroke-linecap="butt"/>
<line x1="314.4" y1="268.8" x2="314.4" y2="271" stroke="#000" stroke-width="0.7" stroke-linecap="butt"/>
<line x1="48.4" y1="316.1" x2="56.9" y2="316.1" stroke="#000" stroke-width="1" stroke-linecap="butt"/>
<line x1="314.4" y1="316.1" x2="306.9" y2="316.1" stroke="#000" stroke-width="1" stroke-linecap="butt"/>
<line x1="48.4" y1="296.4" x2="56.9" y2="296.4" stroke="#000" stroke-width="1" stroke-linecap="butt"/>
<line x1="314.4" y1="296.4" x2="306.9" y2="296.4" stroke="#000" stroke-width="1" stroke-linecap="butt"/>
<line x1="48.4" y1="276.7" x2="56.9" y2="276.7" stroke="#000" stroke-width="1" stroke-linecap="butt"/>
<line x1="314.4" y1="276.7" x2="306.9" y2="276.7" stroke="#000" stroke-width="1" stroke-linecap="butt"/>
<text x="43.2" y="319.8" font-family="Liberation Sans" font-size="11" font-weight="normal" font-style="normal" text-anchor="end" fill="#111" stroke="#111" stroke-width="0.25" >0.5</text>
<text x="43.2" y="300.1" font-family="Liberation Sans" font-size="11" font-weight="normal" font-style="normal" text-anchor="end" fill="#111" stroke="#111" stroke-width="0.25" >1</text>
<text x="43.2" y="280.4" font-family="Liberation Sans" font-size="11" font-weight="normal" font-style="normal" text-anchor="end" fill="#111" stroke="#111" stroke-width="0.25" >1.5</text>
<line x1="134.3" y1="276.4" x2="148.2" y2="276.4" stroke="#5252e6" stroke-width="1.2" stroke-linecap="butt"/>
<circle cx="141.2" cy="276.4" r="2.4" fill="#0000cc"/>
<text x="151.2" y="279" font-family="Liberation Sans" font-size="7.3" font-weight="bold" font-style="normal" text-anchor="start" fill="#111" >MC@NLO+Herwig</text>
<rect x="222.3" y="272.8" width="14.4" height="7.4" fill="url(#hrB)" stroke="none" stroke-width="1" />
<rect x="222.3" y="272.8" width="14.4" height="7.4" fill="none" stroke="#1818e0" stroke-width="0.8" />
<text x="239.3" y="279" font-family="Liberation Sans" font-size="7.3" font-weight="bold" font-style="normal" text-anchor="start" fill="#111" >Corr. Syst. Err.</text>
<text x="0" y="0" font-family="Liberation Sans" font-size="12.7" font-weight="normal" font-style="normal" text-anchor="end" fill="#111" stroke="#111" stroke-width="0.25" transform="translate(11.4,267.2) rotate(-90)">Data / MC</text>
<rect x="48.4" y="354.9" width="44.33" height="7.4" fill="url(#hrR)" stroke="none" stroke-width="1" />
<rect x="92.73" y="348" width="88.67" height="21.2" fill="url(#hrR)" stroke="none" stroke-width="1" />
<rect x="181.4" y="355" width="133" height="10.2" fill="url(#hrR)" stroke="none" stroke-width="1" />
<line x1="48.4" y1="361.1" x2="92.73" y2="361.1" stroke="#d83030" stroke-width="1.3" stroke-linecap="butt"/>
<line x1="92.73" y1="358.2" x2="181.4" y2="358.2" stroke="#d83030" stroke-width="1.3" stroke-linecap="butt"/>
<line x1="181.4" y1="364" x2="314.4" y2="364" stroke="#d83030" stroke-width="1.3" stroke-linecap="butt"/>
<line x1="49.4" y1="359.7" x2="313.4" y2="359.7" stroke="#c81010" stroke-width="1.3" stroke-dasharray="3.2,2.9" stroke-linecap="butt"/>
<circle cx="70.57" cy="361.1" r="2.5" fill="#cc0000"/>
<circle cx="137.07" cy="358.2" r="2.5" fill="#cc0000"/>
<circle cx="247.9" cy="364" r="2.5" fill="#cc0000"/>
<rect x="48.4" y="331.9" width="266" height="55.1" fill="none" stroke="#000" stroke-width="1.2" />
<line x1="48.4" y1="387" x2="48.4" y2="384.8" stroke="#000" stroke-width="0.7" stroke-linecap="butt"/>
<line x1="48.4" y1="331.9" x2="48.4" y2="334.1" stroke="#000" stroke-width="0.7" stroke-linecap="butt"/>
<line x1="57.27" y1="387" x2="57.27" y2="385.8" stroke="#000" stroke-width="0.7" stroke-linecap="butt"/>
<line x1="57.27" y1="331.9" x2="57.27" y2="333.1" stroke="#000" stroke-width="0.7" stroke-linecap="butt"/>
<line x1="66.13" y1="387" x2="66.13" y2="385.8" stroke="#000" stroke-width="0.7" stroke-linecap="butt"/>
<line x1="66.13" y1="331.9" x2="66.13" y2="333.1" stroke="#000" stroke-width="0.7" stroke-linecap="butt"/>
<line x1="75" y1="387" x2="75" y2="385.8" stroke="#000" stroke-width="0.7" stroke-linecap="butt"/>
<line x1="75" y1="331.9" x2="75" y2="333.1" stroke="#000" stroke-width="0.7" stroke-linecap="butt"/>
<line x1="83.87" y1="387" x2="83.87" y2="385.8" stroke="#000" stroke-width="0.7" stroke-linecap="butt"/>
<line x1="83.87" y1="331.9" x2="83.87" y2="333.1" stroke="#000" stroke-width="0.7" stroke-linecap="butt"/>
<line x1="92.73" y1="387" x2="92.73" y2="384.8" stroke="#000" stroke-width="0.7" stroke-linecap="butt"/>
<line x1="92.73" y1="331.9" x2="92.73" y2="334.1" stroke="#000" stroke-width="0.7" stroke-linecap="butt"/>
<line x1="101.6" y1="387" x2="101.6" y2="385.8" stroke="#000" stroke-width="0.7" stroke-linecap="butt"/>
<line x1="101.6" y1="331.9" x2="101.6" y2="333.1" stroke="#000" stroke-width="0.7" stroke-linecap="butt"/>
<line x1="110.47" y1="387" x2="110.47" y2="385.8" stroke="#000" stroke-width="0.7" stroke-linecap="butt"/>
<line x1="110.47" y1="331.9" x2="110.47" y2="333.1" stroke="#000" stroke-width="0.7" stroke-linecap="butt"/>
<line x1="119.33" y1="387" x2="119.33" y2="385.8" stroke="#000" stroke-width="0.7" stroke-linecap="butt"/>
<line x1="119.33" y1="331.9" x2="119.33" y2="333.1" stroke="#000" stroke-width="0.7" stroke-linecap="butt"/>
<line x1="128.2" y1="387" x2="128.2" y2="385.8" stroke="#000" stroke-width="0.7" stroke-linecap="butt"/>
<line x1="128.2" y1="331.9" x2="128.2" y2="333.1" stroke="#000" stroke-width="0.7" stroke-linecap="butt"/>
<line x1="137.07" y1="387" x2="137.07" y2="384.8" stroke="#000" stroke-width="0.7" stroke-linecap="butt"/>
<line x1="137.07" y1="331.9" x2="137.07" y2="334.1" stroke="#000" stroke-width="0.7" stroke-linecap="butt"/>
<line x1="145.93" y1="387" x2="145.93" y2="385.8" stroke="#000" stroke-width="0.7" stroke-linecap="butt"/>
<line x1="145.93" y1="331.9" x2="145.93" y2="333.1" stroke="#000" stroke-width="0.7" stroke-linecap="butt"/>
<line x1="154.8" y1="387" x2="154.8" y2="385.8" stroke="#000" stroke-width="0.7" stroke-linecap="butt"/>
<line x1="154.8" y1="331.9" x2="154.8" y2="333.1" stroke="#000" stroke-width="0.7" stroke-linecap="butt"/>
<line x1="163.67" y1="387" x2="163.67" y2="385.8" stroke="#000" stroke-width="0.7" stroke-linecap="butt"/>
<line x1="163.67" y1="331.9" x2="163.67" y2="333.1" stroke="#000" stroke-width="0.7" stroke-linecap="butt"/>
<line x1="172.53" y1="387" x2="172.53" y2="385.8" stroke="#000" stroke-width="0.7" stroke-linecap="butt"/>
<line x1="172.53" y1="331.9" x2="172.53" y2="333.1" stroke="#000" stroke-width="0.7" stroke-linecap="butt"/>
<line x1="181.4" y1="387" x2="181.4" y2="384.8" stroke="#000" stroke-width="0.7" stroke-linecap="butt"/>
<line x1="181.4" y1="331.9" x2="181.4" y2="334.1" stroke="#000" stroke-width="0.7" stroke-linecap="butt"/>
<line x1="190.27" y1="387" x2="190.27" y2="385.8" stroke="#000" stroke-width="0.7" stroke-linecap="butt"/>
<line x1="190.27" y1="331.9" x2="190.27" y2="333.1" stroke="#000" stroke-width="0.7" stroke-linecap="butt"/>
<line x1="199.13" y1="387" x2="199.13" y2="385.8" stroke="#000" stroke-width="0.7" stroke-linecap="butt"/>
<line x1="199.13" y1="331.9" x2="199.13" y2="333.1" stroke="#000" stroke-width="0.7" stroke-linecap="butt"/>
<line x1="208" y1="387" x2="208" y2="385.8" stroke="#000" stroke-width="0.7" stroke-linecap="butt"/>
<line x1="208" y1="331.9" x2="208" y2="333.1" stroke="#000" stroke-width="0.7" stroke-linecap="butt"/>
<line x1="216.87" y1="387" x2="216.87" y2="385.8" stroke="#000" stroke-width="0.7" stroke-linecap="butt"/>
<line x1="216.87" y1="331.9" x2="216.87" y2="333.1" stroke="#000" stroke-width="0.7" stroke-linecap="butt"/>
<line x1="225.73" y1="387" x2="225.73" y2="384.8" stroke="#000" stroke-width="0.7" stroke-linecap="butt"/>
<line x1="225.73" y1="331.9" x2="225.73" y2="334.1" stroke="#000" stroke-width="0.7" stroke-linecap="butt"/>
<line x1="234.6" y1="387" x2="234.6" y2="385.8" stroke="#000" stroke-width="0.7" stroke-linecap="butt"/>
<line x1="234.6" y1="331.9" x2="234.6" y2="333.1" stroke="#000" stroke-width="0.7" stroke-linecap="butt"/>
<line x1="243.47" y1="387" x2="243.47" y2="385.8" stroke="#000" stroke-width="0.7" stroke-linecap="butt"/>
<line x1="243.47" y1="331.9" x2="243.47" y2="333.1" stroke="#000" stroke-width="0.7" stroke-linecap="butt"/>
<line x1="252.33" y1="387" x2="252.33" y2="385.8" stroke="#000" stroke-width="0.7" stroke-linecap="butt"/>
<line x1="252.33" y1="331.9" x2="252.33" y2="333.1" stroke="#000" stroke-width="0.7" stroke-linecap="butt"/>
<line x1="261.2" y1="387" x2="261.2" y2="385.8" stroke="#000" stroke-width="0.7" stroke-linecap="butt"/>
<line x1="261.2" y1="331.9" x2="261.2" y2="333.1" stroke="#000" stroke-width="0.7" stroke-linecap="butt"/>
<line x1="270.07" y1="387" x2="270.07" y2="384.8" stroke="#000" stroke-width="0.7" stroke-linecap="butt"/>
<line x1="270.07" y1="331.9" x2="270.07" y2="334.1" stroke="#000" stroke-width="0.7" stroke-linecap="butt"/>
<line x1="278.93" y1="387" x2="278.93" y2="385.8" stroke="#000" stroke-width="0.7" stroke-linecap="butt"/>
<line x1="278.93" y1="331.9" x2="278.93" y2="333.1" stroke="#000" stroke-width="0.7" stroke-linecap="butt"/>
<line x1="287.8" y1="387" x2="287.8" y2="385.8" stroke="#000" stroke-width="0.7" stroke-linecap="butt"/>
<line x1="287.8" y1="331.9" x2="287.8" y2="333.1" stroke="#000" stroke-width="0.7" stroke-linecap="butt"/>
<line x1="296.67" y1="387" x2="296.67" y2="385.8" stroke="#000" stroke-width="0.7" stroke-linecap="butt"/>
<line x1="296.67" y1="331.9" x2="296.67" y2="333.1" stroke="#000" stroke-width="0.7" stroke-linecap="butt"/>
<line x1="305.53" y1="387" x2="305.53" y2="385.8" stroke="#000" stroke-width="0.7" stroke-linecap="butt"/>
<line x1="305.53" y1="331.9" x2="305.53" y2="333.1" stroke="#000" stroke-width="0.7" stroke-linecap="butt"/>
<line x1="314.4" y1="387" x2="314.4" y2="384.8" stroke="#000" stroke-width="0.7" stroke-linecap="butt"/>
<line x1="314.4" y1="331.9" x2="314.4" y2="334.1" stroke="#000" stroke-width="0.7" stroke-linecap="butt"/>
<line x1="48.4" y1="379.4" x2="56.9" y2="379.4" stroke="#000" stroke-width="1" stroke-linecap="butt"/>
<line x1="314.4" y1="379.4" x2="306.9" y2="379.4" stroke="#000" stroke-width="1" stroke-linecap="butt"/>
<line x1="48.4" y1="359.7" x2="56.9" y2="359.7" stroke="#000" stroke-width="1" stroke-linecap="butt"/>
<line x1="314.4" y1="359.7" x2="306.9" y2="359.7" stroke="#000" stroke-width="1" stroke-linecap="butt"/>
<line x1="48.4" y1="340" x2="56.9" y2="340" stroke="#000" stroke-width="1" stroke-linecap="butt"/>
<line x1="314.4" y1="340" x2="306.9" y2="340" stroke="#000" stroke-width="1" stroke-linecap="butt"/>
<text x="43.2" y="383.1" font-family="Liberation Sans" font-size="11" font-weight="normal" font-style="normal" text-anchor="end" fill="#111" stroke="#111" stroke-width="0.25" >0.5</text>
<text x="43.2" y="363.4" font-family="Liberation Sans" font-size="11" font-weight="normal" font-style="normal" text-anchor="end" fill="#111" stroke="#111" stroke-width="0.25" >1</text>
<text x="43.2" y="343.7" font-family="Liberation Sans" font-size="11" font-weight="normal" font-style="normal" text-anchor="end" fill="#111" stroke="#111" stroke-width="0.25" >1.5</text>
<line x1="134.3" y1="339.8" x2="148.2" y2="339.8" stroke="#d83030" stroke-width="1.2" stroke-linecap="butt"/>
<circle cx="141.2" cy="339.8" r="2.4" fill="#cc0000"/>
<text x="151.2" y="342.4" font-family="Liberation Sans" font-size="7.3" font-weight="bold" font-style="normal" text-anchor="start" fill="#111" >Powheg+Pythia</text>
<rect x="222.3" y="336.2" width="14.4" height="7.4" fill="url(#hrR)" stroke="none" stroke-width="1" />
<rect x="222.3" y="336.2" width="14.4" height="7.4" fill="none" stroke="#d01818" stroke-width="0.8" />
<text x="239.3" y="342.4" font-family="Liberation Sans" font-size="7.3" font-weight="bold" font-style="normal" text-anchor="start" fill="#111" >Corr. Syst. Err.</text>
<text x="0" y="0" font-family="Liberation Sans" font-size="12.7" font-weight="normal" font-style="normal" text-anchor="end" fill="#111" stroke="#111" stroke-width="0.25" transform="translate(11.4,330.29999999999995) rotate(-90)">Data / MC</text>
<text x="48.4" y="400.9" font-family="Liberation Sans" font-size="11" font-weight="normal" font-style="normal" text-anchor="middle" fill="#111" stroke="#111" stroke-width="0.25" >200</text>
<text x="92.73" y="400.9" font-family="Liberation Sans" font-size="11" font-weight="normal" font-style="normal" text-anchor="middle" fill="#111" stroke="#111" stroke-width="0.25" >250</text>
<text x="137.07" y="400.9" font-family="Liberation Sans" font-size="11" font-weight="normal" font-style="normal" text-anchor="middle" fill="#111" stroke="#111" stroke-width="0.25" >300</text>
<text x="181.4" y="400.9" font-family="Liberation Sans" font-size="11" font-weight="normal" font-style="normal" text-anchor="middle" fill="#111" stroke="#111" stroke-width="0.25" >350</text>
<text x="225.73" y="400.9" font-family="Liberation Sans" font-size="11" font-weight="normal" font-style="normal" text-anchor="middle" fill="#111" stroke="#111" stroke-width="0.25" >400</text>
<text x="270.07" y="400.9" font-family="Liberation Sans" font-size="11" font-weight="normal" font-style="normal" text-anchor="middle" fill="#111" stroke="#111" stroke-width="0.25" >450</text>
<text x="314.4" y="400.9" font-family="Liberation Sans" font-size="11" font-weight="normal" font-style="normal" text-anchor="middle" fill="#111" stroke="#111" stroke-width="0.25" >500</text>
<text x="327.4" y="420.7" font-family="Liberation Sans" font-size="13" font-weight="normal" font-style="normal" text-anchor="end" fill="#111" stroke="#111" stroke-width="0.25" >Jet p<tspan font-size="9" dy="4">T</tspan><tspan dy="-4"> [GeV]</tspan></text>
<text x="161.5" y="430.8" font-family="Liberation Serif" font-size="16" font-weight="bold" font-style="normal" text-anchor="middle" fill="#000" >(a)</text>
<rect x="403.2" y="190.5" width="16.64" height="35.4" fill="url(#hlB)" stroke="none" stroke-width="1" />
<rect x="419.84" y="134.9" width="33.29" height="71.1" fill="url(#hlB)" stroke="none" stroke-width="1" />
<rect x="453.13" y="229" width="49.93" height="17.1" fill="url(#hlB)" stroke="none" stroke-width="1" />
<rect x="503.06" y="243" width="166.44" height="12.7" fill="url(#hlB)" stroke="none" stroke-width="1" />
<rect x="403.2" y="190.5" width="16.64" height="30.7" fill="url(#hrR)" stroke="none" stroke-width="1" />
<rect x="419.84" y="122.9" width="33.29" height="62.7" fill="url(#hrR)" stroke="none" stroke-width="1" />
<rect x="453.13" y="222" width="49.93" height="16.2" fill="url(#hrR)" stroke="none" stroke-width="1" />
<rect x="503.06" y="237.3" width="166.44" height="14.5" fill="url(#hrR)" stroke="none" stroke-width="1" />
<line x1="403.2" y1="205.7" x2="419.84" y2="205.7" stroke="#d83030" stroke-width="1.2" stroke-linecap="butt"/>
<line x1="419.84" y1="154.2" x2="453.13" y2="154.2" stroke="#d83030" stroke-width="1.2" stroke-linecap="butt"/>
<line x1="453.13" y1="230.3" x2="503.06" y2="230.3" stroke="#d83030" stroke-width="1.2" stroke-linecap="butt"/>
<line x1="503.06" y1="244.8" x2="669.5" y2="244.8" stroke="#d83030" stroke-width="1.2" stroke-linecap="butt"/>
<line x1="403.2" y1="209" x2="419.84" y2="209" stroke="#101010" stroke-width="1.2" stroke-linecap="butt"/>
<line x1="419.84" y1="163" x2="453.13" y2="163" stroke="#101010" stroke-width="1.2" stroke-linecap="butt"/>
<line x1="453.13" y1="234.3" x2="503.06" y2="234.3" stroke="#101010" stroke-width="1.2" stroke-linecap="butt"/>
<line x1="503.06" y1="247.4" x2="669.5" y2="247.4" stroke="#101010" stroke-width="1.2" stroke-linecap="butt"/>
<line x1="403.2" y1="208" x2="419.84" y2="208" stroke="#5252e6" stroke-width="1.3" stroke-linecap="butt"/>
<line x1="419.84" y1="170.5" x2="453.13" y2="170.5" stroke="#5252e6" stroke-width="1.3" stroke-linecap="butt"/>
<line x1="453.13" y1="237.3" x2="503.06" y2="237.3" stroke="#5252e6" stroke-width="1.3" stroke-linecap="butt"/>
<line x1="503.06" y1="249.2" x2="669.5" y2="249.2" stroke="#5252e6" stroke-width="1.3" stroke-linecap="butt"/>
<circle cx="411.52" cy="205.7" r="2.45" fill="none" stroke="#cc0000" stroke-width="1"/>
<circle cx="436.49" cy="154.2" r="2.45" fill="none" stroke="#cc0000" stroke-width="1"/>
<circle cx="478.1" cy="230.3" r="2.45" fill="none" stroke="#cc0000" stroke-width="1"/>
<circle cx="586.28" cy="244.8" r="2.45" fill="none" stroke="#cc0000" stroke-width="1"/>
<circle cx="411.52" cy="209" r="2.4" fill="#000"/>
<circle cx="436.49" cy="163" r="2.4" fill="#000"/>
<circle cx="478.1" cy="234.3" r="2.4" fill="#000"/>
<circle cx="586.28" cy="247.4" r="2.4" fill="#000"/>
<path d="M411.52,205 L413.92,210.3 L409.12,210.3 Z" fill="none" stroke="#0000cc" stroke-width="1.05" stroke-linejoin="round"/>
<path d="M436.49,167.5 L438.89,172.8 L434.09,172.8 Z" fill="none" stroke="#0000cc" stroke-width="1.05" stroke-linejoin="round"/>
<path d="M478.1,234.3 L480.5,239.6 L475.7,239.6 Z" fill="none" stroke="#0000cc" stroke-width="1.05" stroke-linejoin="round"/>
<path d="M586.28,246.2 L588.68,251.5 L583.88,251.5 Z" fill="none" stroke="#0000cc" stroke-width="1.05" stroke-linejoin="round"/>
<rect x="403.2" y="5.5" width="266.3" height="257.6" fill="none" stroke="#000" stroke-width="1.2" />
<line x1="403.2" y1="263.1" x2="403.2" y2="257.5" stroke="#000" stroke-width="0.9" stroke-linecap="butt"/>
<line x1="403.2" y1="5.5" x2="403.2" y2="11.1" stroke="#000" stroke-width="0.9" stroke-linecap="butt"/>
<line x1="419.84" y1="263.1" x2="419.84" y2="260.3" stroke="#000" stroke-width="0.9" stroke-linecap="butt"/>
<line x1="419.84" y1="5.5" x2="419.84" y2="8.3" stroke="#000" stroke-width="0.9" stroke-linecap="butt"/>
<line x1="436.49" y1="263.1" x2="436.49" y2="260.3" stroke="#000" stroke-width="0.9" stroke-linecap="butt"/>
<line x1="436.49" y1="5.5" x2="436.49" y2="8.3" stroke="#000" stroke-width="0.9" stroke-linecap="butt"/>
<line x1="453.13" y1="263.1" x2="453.13" y2="260.3" stroke="#000" stroke-width="0.9" stroke-linecap="butt"/>
<line x1="453.13" y1="5.5" x2="453.13" y2="8.3" stroke="#000" stroke-width="0.9" stroke-linecap="butt"/>
<line x1="469.77" y1="263.1" x2="469.77" y2="257.5" stroke="#000" stroke-width="0.9" stroke-linecap="butt"/>
<line x1="469.77" y1="5.5" x2="469.77" y2="11.1" stroke="#000" stroke-width="0.9" stroke-linecap="butt"/>
<line x1="486.42" y1="263.1" x2="486.42" y2="260.3" stroke="#000" stroke-width="0.9" stroke-linecap="butt"/>
<line x1="486.42" y1="5.5" x2="486.42" y2="8.3" stroke="#000" stroke-width="0.9" stroke-linecap="butt"/>
<line x1="503.06" y1="263.1" x2="503.06" y2="260.3" stroke="#000" stroke-width="0.9" stroke-linecap="butt"/>
<line x1="503.06" y1="5.5" x2="503.06" y2="8.3" stroke="#000" stroke-width="0.9" stroke-linecap="butt"/>
<line x1="519.71" y1="263.1" x2="519.71" y2="260.3" stroke="#000" stroke-width="0.9" stroke-linecap="butt"/>
<line x1="519.71" y1="5.5" x2="519.71" y2="8.3" stroke="#000" stroke-width="0.9" stroke-linecap="butt"/>
<line x1="536.35" y1="263.1" x2="536.35" y2="257.5" stroke="#000" stroke-width="0.9" stroke-linecap="butt"/>
<line x1="536.35" y1="5.5" x2="536.35" y2="11.1" stroke="#000" stroke-width="0.9" stroke-linecap="butt"/>
<line x1="552.99" y1="263.1" x2="552.99" y2="260.3" stroke="#000" stroke-width="0.9" stroke-linecap="butt"/>
<line x1="552.99" y1="5.5" x2="552.99" y2="8.3" stroke="#000" stroke-width="0.9" stroke-linecap="butt"/>
<line x1="569.64" y1="263.1" x2="569.64" y2="260.3" stroke="#000" stroke-width="0.9" stroke-linecap="butt"/>
<line x1="569.64" y1="5.5" x2="569.64" y2="8.3" stroke="#000" stroke-width="0.9" stroke-linecap="butt"/>
<line x1="586.28" y1="263.1" x2="586.28" y2="260.3" stroke="#000" stroke-width="0.9" stroke-linecap="butt"/>
<line x1="586.28" y1="5.5" x2="586.28" y2="8.3" stroke="#000" stroke-width="0.9" stroke-linecap="butt"/>
<line x1="602.92" y1="263.1" x2="602.92" y2="257.5" stroke="#000" stroke-width="0.9" stroke-linecap="butt"/>
<line x1="602.92" y1="5.5" x2="602.92" y2="11.1" stroke="#000" stroke-width="0.9" stroke-linecap="butt"/>
<line x1="619.57" y1="263.1" x2="619.57" y2="260.3" stroke="#000" stroke-width="0.9" stroke-linecap="butt"/>
<line x1="619.57" y1="5.5" x2="619.57" y2="8.3" stroke="#000" stroke-width="0.9" stroke-linecap="butt"/>
<line x1="636.21" y1="263.1" x2="636.21" y2="260.3" stroke="#000" stroke-width="0.9" stroke-linecap="butt"/>
<line x1="636.21" y1="5.5" x2="636.21" y2="8.3" stroke="#000" stroke-width="0.9" stroke-linecap="butt"/>
<line x1="652.86" y1="263.1" x2="652.86" y2="260.3" stroke="#000" stroke-width="0.9" stroke-linecap="butt"/>
<line x1="652.86" y1="5.5" x2="652.86" y2="8.3" stroke="#000" stroke-width="0.9" stroke-linecap="butt"/>
<line x1="669.5" y1="263.1" x2="669.5" y2="257.5" stroke="#000" stroke-width="0.9" stroke-linecap="butt"/>
<line x1="669.5" y1="5.5" x2="669.5" y2="11.1" stroke="#000" stroke-width="0.9" stroke-linecap="butt"/>
<line x1="403.2" y1="243.9" x2="412.7" y2="243.9" stroke="#000" stroke-width="1" stroke-linecap="butt"/>
<line x1="669.5" y1="243.9" x2="660" y2="243.9" stroke="#000" stroke-width="1" stroke-linecap="butt"/>
<line x1="403.2" y1="217.4" x2="412.7" y2="217.4" stroke="#000" stroke-width="1" stroke-linecap="butt"/>
<line x1="669.5" y1="217.4" x2="660" y2="217.4" stroke="#000" stroke-width="1" stroke-linecap="butt"/>
<line x1="403.2" y1="190.9" x2="412.7" y2="190.9" stroke="#000" stroke-width="1" stroke-linecap="butt"/>
<line x1="669.5" y1="190.9" x2="660" y2="190.9" stroke="#000" stroke-width="1" stroke-linecap="butt"/>
<line x1="403.2" y1="164.4" x2="412.7" y2="164.4" stroke="#000" stroke-width="1" stroke-linecap="butt"/>
<line x1="669.5" y1="164.4" x2="660" y2="164.4" stroke="#000" stroke-width="1" stroke-linecap="butt"/>
<line x1="403.2" y1="137.9" x2="412.7" y2="137.9" stroke="#000" stroke-width="1" stroke-linecap="butt"/>
<line x1="669.5" y1="137.9" x2="660" y2="137.9" stroke="#000" stroke-width="1" stroke-linecap="butt"/>
<line x1="403.2" y1="111.4" x2="412.7" y2="111.4" stroke="#000" stroke-width="1" stroke-linecap="butt"/>
<line x1="669.5" y1="111.4" x2="660" y2="111.4" stroke="#000" stroke-width="1" stroke-linecap="butt"/>
<line x1="403.2" y1="84.9" x2="412.7" y2="84.9" stroke="#000" stroke-width="1" stroke-linecap="butt"/>
<line x1="669.5" y1="84.9" x2="660" y2="84.9" stroke="#000" stroke-width="1" stroke-linecap="butt"/>
<line x1="403.2" y1="58.4" x2="412.7" y2="58.4" stroke="#000" stroke-width="1" stroke-linecap="butt"/>
<line x1="669.5" y1="58.4" x2="660" y2="58.4" stroke="#000" stroke-width="1" stroke-linecap="butt"/>
<line x1="403.2" y1="31.9" x2="412.7" y2="31.9" stroke="#000" stroke-width="1" stroke-linecap="butt"/>
<line x1="669.5" y1="31.9" x2="660" y2="31.9" stroke="#000" stroke-width="1" stroke-linecap="butt"/>
<line x1="403.2" y1="5.4" x2="412.7" y2="5.4" stroke="#000" stroke-width="1" stroke-linecap="butt"/>
<line x1="669.5" y1="5.4" x2="660" y2="5.4" stroke="#000" stroke-width="1" stroke-linecap="butt"/>
<line x1="403.2" y1="257.15" x2="408" y2="257.15" stroke="#000" stroke-width="1" stroke-linecap="butt"/>
<line x1="669.5" y1="257.15" x2="664.7" y2="257.15" stroke="#000" stroke-width="1" stroke-linecap="butt"/>
<line x1="403.2" y1="250.53" x2="408" y2="250.53" stroke="#000" stroke-width="1" stroke-linecap="butt"/>
<line x1="669.5" y1="250.53" x2="664.7" y2="250.53" stroke="#000" stroke-width="1" stroke-linecap="butt"/>
<line x1="403.2" y1="243.9" x2="408" y2="243.9" stroke="#000" stroke-width="1" stroke-linecap="butt"/>
<line x1="669.5" y1="243.9" x2="664.7" y2="243.9" stroke="#000" stroke-width="1" stroke-linecap="butt"/>
<line x1="403.2" y1="237.28" x2="408" y2="237.28" stroke="#000" stroke-width="1" stroke-linecap="butt"/>
<line x1="669.5" y1="237.28" x2="664.7" y2="237.28" stroke="#000" stroke-width="1" stroke-linecap="butt"/>
<line x1="403.2" y1="230.65" x2="408" y2="230.65" stroke="#000" stroke-width="1" stroke-linecap="butt"/>
<line x1="669.5" y1="230.65" x2="664.7" y2="230.65" stroke="#000" stroke-width="1" stroke-linecap="butt"/>
<line x1="403.2" y1="224.03" x2="408" y2="224.03" stroke="#000" stroke-width="1" stroke-linecap="butt"/>
<line x1="669.5" y1="224.03" x2="664.7" y2="224.03" stroke="#000" stroke-width="1" stroke-linecap="butt"/>
<line x1="403.2" y1="217.4" x2="408" y2="217.4" stroke="#000" stroke-width="1" stroke-linecap="butt"/>
<line x1="669.5" y1="217.4" x2="664.7" y2="217.4" stroke="#000" stroke-width="1" stroke-linecap="butt"/>
<line x1="403.2" y1="210.78" x2="408" y2="210.78" stroke="#000" stroke-width="1" stroke-linecap="butt"/>
<line x1="669.5" y1="210.78" x2="664.7" y2="210.78" stroke="#000" stroke-width="1" stroke-linecap="butt"/>
<line x1="403.2" y1="204.15" x2="408" y2="204.15" stroke="#000" stroke-width="1" stroke-linecap="butt"/>
<line x1="669.5" y1="204.15" x2="664.7" y2="204.15" stroke="#000" stroke-width="1" stroke-linecap="butt"/>
<line x1="403.2" y1="197.53" x2="408" y2="197.53" stroke="#000" stroke-width="1" stroke-linecap="butt"/>
<line x1="669.5" y1="197.53" x2="664.7" y2="197.53" stroke="#000" stroke-width="1" stroke-linecap="butt"/>
<line x1="403.2" y1="190.9" x2="408" y2="190.9" stroke="#000" stroke-width="1" stroke-linecap="butt"/>
<line x1="669.5" y1="190.9" x2="664.7" y2="190.9" stroke="#000" stroke-width="1" stroke-linecap="butt"/>
<line x1="403.2" y1="184.28" x2="408" y2="184.28" stroke="#000" stroke-width="1" stroke-linecap="butt"/>
<line x1="669.5" y1="184.28" x2="664.7" y2="184.28" stroke="#000" stroke-width="1" stroke-linecap="butt"/>
<line x1="403.2" y1="177.65" x2="408" y2="177.65" stroke="#000" stroke-width="1" stroke-linecap="butt"/>
<line x1="669.5" y1="177.65" x2="664.7" y2="177.65" stroke="#000" stroke-width="1" stroke-linecap="butt"/>
<line x1="403.2" y1="171.03" x2="408" y2="171.03" stroke="#000" stroke-width="1" stroke-linecap="butt"/>
<line x1="669.5" y1="171.03" x2="664.7" y2="171.03" stroke="#000" stroke-width="1" stroke-linecap="butt"/>
<line x1="403.2" y1="164.4" x2="408" y2="164.4" stroke="#000" stroke-width="1" stroke-linecap="butt"/>
<line x1="669.5" y1="164.4" x2="664.7" y2="164.4" stroke="#000" stroke-width="1" stroke-linecap="butt"/>
<line x1="403.2" y1="157.78" x2="408" y2="157.78" stroke="#000" stroke-width="1" stroke-linecap="butt"/>
<line x1="669.5" y1="157.78" x2="664.7" y2="157.78" stroke="#000" stroke-width="1" stroke-linecap="butt"/>
<line x1="403.2" y1="151.15" x2="408" y2="151.15" stroke="#000" stroke-width="1" stroke-linecap="butt"/>
<line x1="669.5" y1="151.15" x2="664.7" y2="151.15" stroke="#000" stroke-width="1" stroke-linecap="butt"/>
<line x1="403.2" y1="144.53" x2="408" y2="144.53" stroke="#000" stroke-width="1" stroke-linecap="butt"/>
<line x1="669.5" y1="144.53" x2="664.7" y2="144.53" stroke="#000" stroke-width="1" stroke-linecap="butt"/>
<line x1="403.2" y1="137.9" x2="408" y2="137.9" stroke="#000" stroke-width="1" stroke-linecap="butt"/>
<line x1="669.5" y1="137.9" x2="664.7" y2="137.9" stroke="#000" stroke-width="1" stroke-linecap="butt"/>
<line x1="403.2" y1="131.28" x2="408" y2="131.28" stroke="#000" stroke-width="1" stroke-linecap="butt"/>
<line x1="669.5" y1="131.28" x2="664.7" y2="131.28" stroke="#000" stroke-width="1" stroke-linecap="butt"/>
<line x1="403.2" y1="124.65" x2="408" y2="124.65" stroke="#000" stroke-width="1" stroke-linecap="butt"/>
<line x1="669.5" y1="124.65" x2="664.7" y2="124.65" stroke="#000" stroke-width="1" stroke-linecap="butt"/>
<line x1="403.2" y1="118.03" x2="408" y2="118.03" stroke="#000" stroke-width="1" stroke-linecap="butt"/>
<line x1="669.5" y1="118.03" x2="664.7" y2="118.03" stroke="#000" stroke-width="1" stroke-linecap="butt"/>
<line x1="403.2" y1="111.4" x2="408" y2="111.4" stroke="#000" stroke-width="1" stroke-linecap="butt"/>
<line x1="669.5" y1="111.4" x2="664.7" y2="111.4" stroke="#000" stroke-width="1" stroke-linecap="butt"/>
<line x1="403.2" y1="104.78" x2="408" y2="104.78" stroke="#000" stroke-width="1" stroke-linecap="butt"/>
<line x1="669.5" y1="104.78" x2="664.7" y2="104.78" stroke="#000" stroke-width="1" stroke-linecap="butt"/>
<line x1="403.2" y1="98.15" x2="408" y2="98.15" stroke="#000" stroke-width="1" stroke-linecap="butt"/>
<line x1="669.5" y1="98.15" x2="664.7" y2="98.15" stroke="#000" stroke-width="1" stroke-linecap="butt"/>
<line x1="403.2" y1="91.53" x2="408" y2="91.53" stroke="#000" stroke-width="1" stroke-linecap="butt"/>
<line x1="669.5" y1="91.53" x2="664.7" y2="91.53" stroke="#000" stroke-width="1" stroke-linecap="butt"/>
<line x1="403.2" y1="84.9" x2="408" y2="84.9" stroke="#000" stroke-width="1" stroke-linecap="butt"/>
<line x1="669.5" y1="84.9" x2="664.7" y2="84.9" stroke="#000" stroke-width="1" stroke-linecap="butt"/>
<line x1="403.2" y1="78.27" x2="408" y2="78.27" stroke="#000" stroke-width="1" stroke-linecap="butt"/>
<line x1="669.5" y1="78.27" x2="664.7" y2="78.27" stroke="#000" stroke-width="1" stroke-linecap="butt"/>
<line x1="403.2" y1="71.65" x2="408" y2="71.65" stroke="#000" stroke-width="1" stroke-linecap="butt"/>
<line x1="669.5" y1="71.65" x2="664.7" y2="71.65" stroke="#000" stroke-width="1" stroke-linecap="butt"/>
<line x1="403.2" y1="65.03" x2="408" y2="65.03" stroke="#000" stroke-width="1" stroke-linecap="butt"/>
<line x1="669.5" y1="65.03" x2="664.7" y2="65.03" stroke="#000" stroke-width="1" stroke-linecap="butt"/>
<line x1="403.2" y1="58.4" x2="408" y2="58.4" stroke="#000" stroke-width="1" stroke-linecap="butt"/>
<line x1="669.5" y1="58.4" x2="664.7" y2="58.4" stroke="#000" stroke-width="1" stroke-linecap="butt"/>
<line x1="403.2" y1="51.78" x2="408" y2="51.78" stroke="#000" stroke-width="1" stroke-linecap="butt"/>
<line x1="669.5" y1="51.78" x2="664.7" y2="51.78" stroke="#000" stroke-width="1" stroke-linecap="butt"/>
<line x1="403.2" y1="45.15" x2="408" y2="45.15" stroke="#000" stroke-width="1" stroke-linecap="butt"/>
<line x1="669.5" y1="45.15" x2="664.7" y2="45.15" stroke="#000" stroke-width="1" stroke-linecap="butt"/>
<line x1="403.2" y1="38.52" x2="408" y2="38.52" stroke="#000" stroke-width="1" stroke-linecap="butt"/>
<line x1="669.5" y1="38.52" x2="664.7" y2="38.52" stroke="#000" stroke-width="1" stroke-linecap="butt"/>
<line x1="403.2" y1="31.9" x2="408" y2="31.9" stroke="#000" stroke-width="1" stroke-linecap="butt"/>
<line x1="669.5" y1="31.9" x2="664.7" y2="31.9" stroke="#000" stroke-width="1" stroke-linecap="butt"/>
<line x1="403.2" y1="25.27" x2="408" y2="25.27" stroke="#000" stroke-width="1" stroke-linecap="butt"/>
<line x1="669.5" y1="25.27" x2="664.7" y2="25.27" stroke="#000" stroke-width="1" stroke-linecap="butt"/>
<line x1="403.2" y1="18.65" x2="408" y2="18.65" stroke="#000" stroke-width="1" stroke-linecap="butt"/>
<line x1="669.5" y1="18.65" x2="664.7" y2="18.65" stroke="#000" stroke-width="1" stroke-linecap="butt"/>
<line x1="403.2" y1="12.03" x2="408" y2="12.03" stroke="#000" stroke-width="1" stroke-linecap="butt"/>
<line x1="669.5" y1="12.03" x2="664.7" y2="12.03" stroke="#000" stroke-width="1" stroke-linecap="butt"/>
<text x="399" y="247.9" font-family="Liberation Sans" font-size="11" font-weight="normal" font-style="normal" text-anchor="end" fill="#111" stroke="#111" stroke-width="0.25" >0.02</text>
<text x="399" y="221.4" font-family="Liberation Sans" font-size="11" font-weight="normal" font-style="normal" text-anchor="end" fill="#111" stroke="#111" stroke-width="0.25" >0.04</text>
<text x="399" y="194.9" font-family="Liberation Sans" font-size="11" font-weight="normal" font-style="normal" text-anchor="end" fill="#111" stroke="#111" stroke-width="0.25" >0.06</text>
<text x="399" y="168.4" font-family="Liberation Sans" font-size="11" font-weight="normal" font-style="normal" text-anchor="end" fill="#111" stroke="#111" stroke-width="0.25" >0.08</text>
<text x="399" y="141.9" font-family="Liberation Sans" font-size="11" font-weight="normal" font-style="normal" text-anchor="end" fill="#111" stroke="#111" stroke-width="0.25" >0.1</text>
<text x="399" y="115.4" font-family="Liberation Sans" font-size="11" font-weight="normal" font-style="normal" text-anchor="end" fill="#111" stroke="#111" stroke-width="0.25" >0.12</text>
<text x="399" y="88.9" font-family="Liberation Sans" font-size="11" font-weight="normal" font-style="normal" text-anchor="end" fill="#111" stroke="#111" stroke-width="0.25" >0.14</text>
<text x="399" y="62.4" font-family="Liberation Sans" font-size="11" font-weight="normal" font-style="normal" text-anchor="end" fill="#111" stroke="#111" stroke-width="0.25" >0.16</text>
<text x="399" y="35.9" font-family="Liberation Sans" font-size="11" font-weight="normal" font-style="normal" text-anchor="end" fill="#111" stroke="#111" stroke-width="0.25" >0.18</text>
<text x="399" y="9.4" font-family="Liberation Sans" font-size="11" font-weight="normal" font-style="normal" text-anchor="end" fill="#111" stroke="#111" stroke-width="0.25" >0.2</text>
<text x="0" y="0" font-family="Liberation Sans" font-size="12.7" font-weight="normal" font-style="normal" text-anchor="end" fill="#111" stroke="#111" stroke-width="0.25" transform="translate(366.3,13.2) rotate(-90)">Background efficiency</text>
<text x="416.8" y="31" font-family="Liberation Sans" font-size="13.2" font-weight="bold" font-style="italic" text-anchor="start" fill="#000" >ATLAS</text>
<path d="M418.1,43.9 L419.1,42.9 L420.2,49.8" fill="none" stroke="#111" stroke-width="1.25" stroke-linejoin="miter"/>
<path d="M420.2,49.8 L422.3,39.1 L429.1,39.1" fill="none" stroke="#111" stroke-width="0.85"/>
<text x="422.8" y="49.5" font-family="Liberation Sans" font-size="13.5" font-weight="normal" font-style="normal" text-anchor="start" fill="#111" stroke="#111" stroke-width="0.25" >s = 8 TeV, 20.3 fb<tspan font-size="8.6" dy="-5.0">-1</tspan></text>
<text x="416.8" y="69.9" font-family="Liberation Sans" font-size="13" font-weight="normal" font-style="normal" text-anchor="start" fill="#111" stroke="#111" stroke-width="0.25" >anti-k<tspan font-size="8" dy="3.6">t</tspan><tspan dy="-3.6"> R=1.0 jets</tspan></text>
<text x="416.8" y="90.3" font-family="Liberation Sans" font-size="13" font-weight="normal" font-style="normal" text-anchor="start" fill="#111" stroke="#111" stroke-width="0.25" >Trimmed (R<tspan font-size="8.6" dy="6.8">sub</tspan><tspan dy="-6.8"> = 0.2, f</tspan><tspan font-size="8.6" dy="6.8">cut</tspan><tspan dy="-6.8"> = 5%)</tspan></text>
<text x="416.8" y="109.9" font-family="Liberation Sans" font-size="13" font-weight="normal" font-style="normal" text-anchor="start" fill="#111" stroke="#111" stroke-width="0.25" >C<tspan font-size="9.2" dy="6">2</tspan><tspan font-size="9" dx="-5.5" dy="-13">(&#946;=1)</tspan><tspan dy="7" dx="-1.1"> Medium</tspan></text>
<line x1="545.2" y1="23.3" x2="563.2" y2="23.3" stroke="#101010" stroke-width="1.2" stroke-linecap="butt"/>
<circle cx="554.4" cy="23.3" r="2.4" fill="#000"/>
<text x="567.1" y="26.9" font-family="Liberation Sans" font-size="7.35" font-weight="bold" font-style="normal" text-anchor="start" fill="#111" >Data Stat. Err.</text>
<rect x="545" y="34.9" width="18.5" height="13.5" fill="url(#hlB)" stroke="none" stroke-width="1" />
<line x1="545" y1="41.7" x2="563.5" y2="41.7" stroke="#5252e6" stroke-width="1.2" stroke-linecap="butt"/>
<path d="M554.3,38.7 L556.7,44 L551.9,44 Z" fill="none" stroke="#0000cc" stroke-width="1.05" stroke-linejoin="round"/>
<text x="567.1" y="45.6" font-family="Liberation Sans" font-size="7.35" font-weight="bold" font-style="normal" text-anchor="start" fill="#111" >Pythia8 Stat.</text>
<circle cx="616.41" cy="42.95" r="2.2" fill="none" stroke="#222" stroke-width="0.6"/>
<line x1="614.21" y1="42.95" x2="618.61" y2="42.95" stroke="#222" stroke-width="0.6" stroke-linecap="butt"/>
<line x1="616.41" y1="40.75" x2="616.41" y2="45.15" stroke="#222" stroke-width="0.6" stroke-linecap="butt"/>
<text x="621.01" y="45.6" font-family="Liberation Sans" font-size="7.35" font-weight="bold" font-style="normal" text-anchor="start" fill="#111" >Syst. Err.</text>
<rect x="545" y="53.3" width="18.5" height="13.5" fill="url(#hrR)" stroke="none" stroke-width="1" />
<line x1="545" y1="60.1" x2="563.5" y2="60.1" stroke="#d83030" stroke-width="1.2" stroke-linecap="butt"/>
<circle cx="554.3" cy="60.1" r="2.3" fill="none" stroke="#cc0000" stroke-width="1"/>
<text x="567.1" y="64" font-family="Liberation Sans" font-size="7.35" font-weight="bold" font-style="normal" text-anchor="start" fill="#111" >Herwig++ Stat.</text>
<circle cx="623.36" cy="61.35" r="2.2" fill="none" stroke="#222" stroke-width="0.6"/>
<line x1="621.16" y1="61.35" x2="625.56" y2="61.35" stroke="#222" stroke-width="0.6" stroke-linecap="butt"/>
<line x1="623.36" y1="59.15" x2="623.36" y2="63.55" stroke="#222" stroke-width="0.6" stroke-linecap="butt"/>
<text x="627.96" y="64" font-family="Liberation Sans" font-size="7.35" font-weight="bold" font-style="normal" text-anchor="start" fill="#111" >Syst. Err.</text>
<rect x="403.2" y="285.1" width="16.64" height="22.5" fill="url(#hlB4)" stroke="none" stroke-width="1" />
<rect x="419.84" y="281.1" width="33.29" height="30.9" fill="url(#hlB4)" stroke="none" stroke-width="1" />
<rect x="453.13" y="284.3" width="49.93" height="23.6" fill="url(#hlB4)" stroke="none" stroke-width="1" />
<rect x="503.06" y="281.6" width="166.44" height="29.4" fill="url(#hlB4)" stroke="none" stroke-width="1" />
<line x1="404.2" y1="296.9" x2="668.5" y2="296.9" stroke="#1010c8" stroke-width="1.2" stroke-dasharray="2.8,2.8" stroke-linecap="butt"/>
<line x1="403.2" y1="297.4" x2="419.84" y2="297.4" stroke="#1818d0" stroke-width="1.1" stroke-linecap="butt"/>
<line x1="419.84" y1="293.4" x2="453.13" y2="293.4" stroke="#1818d0" stroke-width="1.1" stroke-linecap="butt"/>
<line x1="453.13" y1="293" x2="503.06" y2="293" stroke="#1818d0" stroke-width="1.1" stroke-linecap="butt"/>
<line x1="503.06" y1="292.1" x2="669.5" y2="292.1" stroke="#1818d0" stroke-width="1.1" stroke-linecap="butt"/>
<path d="M411.52,294.6 L414.02,299.2 L409.02,299.2 Z" fill="#0000cc"/>
<path d="M436.49,290.6 L438.99,295.2 L433.99,295.2 Z" fill="#0000cc"/>
<path d="M478.1,290.2 L480.6,294.8 L475.6,294.8 Z" fill="#0000cc"/>
<path d="M586.28,289.3 L588.78,293.9 L583.78,293.9 Z" fill="#0000cc"/>
<rect x="403.2" y="268.8" width="266.3" height="55.4" fill="none" stroke="#000" stroke-width="1.2" />
<line x1="403.2" y1="324.2" x2="403.2" y2="322" stroke="#000" stroke-width="0.7" stroke-linecap="butt"/>
<line x1="403.2" y1="268.8" x2="403.2" y2="271" stroke="#000" stroke-width="0.7" stroke-linecap="butt"/>
<line x1="419.84" y1="324.2" x2="419.84" y2="323" stroke="#000" stroke-width="0.7" stroke-linecap="butt"/>
<line x1="419.84" y1="268.8" x2="419.84" y2="270" stroke="#000" stroke-width="0.7" stroke-linecap="butt"/>
<line x1="436.49" y1="324.2" x2="436.49" y2="323" stroke="#000" stroke-width="0.7" stroke-linecap="butt"/>
<line x1="436.49" y1="268.8" x2="436.49" y2="270" stroke="#000" stroke-width="0.7" stroke-linecap="butt"/>
<line x1="453.13" y1="324.2" x2="453.13" y2="323" stroke="#000" stroke-width="0.7" stroke-linecap="butt"/>
<line x1="453.13" y1="268.8" x2="453.13" y2="270" stroke="#000" stroke-width="0.7" stroke-linecap="butt"/>
<line x1="469.77" y1="324.2" x2="469.77" y2="322" stroke="#000" stroke-width="0.7" stroke-linecap="butt"/>
<line x1="469.77" y1="268.8" x2="469.77" y2="271" stroke="#000" stroke-width="0.7" stroke-linecap="butt"/>
<line x1="486.42" y1="324.2" x2="486.42" y2="323" stroke="#000" stroke-width="0.7" stroke-linecap="butt"/>
<line x1="486.42" y1="268.8" x2="486.42" y2="270" stroke="#000" stroke-width="0.7" stroke-linecap="butt"/>
<line x1="503.06" y1="324.2" x2="503.06" y2="323" stroke="#000" stroke-width="0.7" stroke-linecap="butt"/>
<line x1="503.06" y1="268.8" x2="503.06" y2="270" stroke="#000" stroke-width="0.7" stroke-linecap="butt"/>
<line x1="519.71" y1="324.2" x2="519.71" y2="323" stroke="#000" stroke-width="0.7" stroke-linecap="butt"/>
<line x1="519.71" y1="268.8" x2="519.71" y2="270" stroke="#000" stroke-width="0.7" stroke-linecap="butt"/>
<line x1="536.35" y1="324.2" x2="536.35" y2="322" stroke="#000" stroke-width="0.7" stroke-linecap="butt"/>
<line x1="536.35" y1="268.8" x2="536.35" y2="271" stroke="#000" stroke-width="0.7" stroke-linecap="butt"/>
<line x1="552.99" y1="324.2" x2="552.99" y2="323" stroke="#000" stroke-width="0.7" stroke-linecap="butt"/>
<line x1="552.99" y1="268.8" x2="552.99" y2="270" stroke="#000" stroke-width="0.7" stroke-linecap="butt"/>
<line x1="569.64" y1="324.2" x2="569.64" y2="323" stroke="#000" stroke-width="0.7" stroke-linecap="butt"/>
<line x1="569.64" y1="268.8" x2="569.64" y2="270" stroke="#000" stroke-width="0.7" stroke-linecap="butt"/>
<line x1="586.28" y1="324.2" x2="586.28" y2="323" stroke="#000" stroke-width="0.7" stroke-linecap="butt"/>
<line x1="586.28" y1="268.8" x2="586.28" y2="270" stroke="#000" stroke-width="0.7" stroke-linecap="butt"/>
<line x1="602.92" y1="324.2" x2="602.92" y2="322" stroke="#000" stroke-width="0.7" stroke-linecap="butt"/>
<line x1="602.92" y1="268.8" x2="602.92" y2="271" stroke="#000" stroke-width="0.7" stroke-linecap="butt"/>
<line x1="619.57" y1="324.2" x2="619.57" y2="323" stroke="#000" stroke-width="0.7" stroke-linecap="butt"/>
<line x1="619.57" y1="268.8" x2="619.57" y2="270" stroke="#000" stroke-width="0.7" stroke-linecap="butt"/>
<line x1="636.21" y1="324.2" x2="636.21" y2="323" stroke="#000" stroke-width="0.7" stroke-linecap="butt"/>
<line x1="636.21" y1="268.8" x2="636.21" y2="270" stroke="#000" stroke-width="0.7" stroke-linecap="butt"/>
<line x1="652.86" y1="324.2" x2="652.86" y2="323" stroke="#000" stroke-width="0.7" stroke-linecap="butt"/>
<line x1="652.86" y1="268.8" x2="652.86" y2="270" stroke="#000" stroke-width="0.7" stroke-linecap="butt"/>
<line x1="669.5" y1="324.2" x2="669.5" y2="322" stroke="#000" stroke-width="0.7" stroke-linecap="butt"/>
<line x1="669.5" y1="268.8" x2="669.5" y2="271" stroke="#000" stroke-width="0.7" stroke-linecap="butt"/>
<line x1="403.2" y1="316.6" x2="411.7" y2="316.6" stroke="#000" stroke-width="1" stroke-linecap="butt"/>
<line x1="669.5" y1="316.6" x2="662" y2="316.6" stroke="#000" stroke-width="1" stroke-linecap="butt"/>
<line x1="403.2" y1="296.9" x2="411.7" y2="296.9" stroke="#000" stroke-width="1" stroke-linecap="butt"/>
<line x1="669.5" y1="296.9" x2="662" y2="296.9" stroke="#000" stroke-width="1" stroke-linecap="butt"/>
<line x1="403.2" y1="277.2" x2="411.7" y2="277.2" stroke="#000" stroke-width="1" stroke-linecap="butt"/>
<line x1="669.5" y1="277.2" x2="662" y2="277.2" stroke="#000" stroke-width="1" stroke-linecap="butt"/>
<text x="399" y="319.5" font-family="Liberation Sans" font-size="11" font-weight="normal" font-style="normal" text-anchor="end" fill="#111" stroke="#111" stroke-width="0.25" >0.5</text>
<text x="399" y="299.8" font-family="Liberation Sans" font-size="11" font-weight="normal" font-style="normal" text-anchor="end" fill="#111" stroke="#111" stroke-width="0.25" >1</text>
<text x="399" y="280.1" font-family="Liberation Sans" font-size="11" font-weight="normal" font-style="normal" text-anchor="end" fill="#111" stroke="#111" stroke-width="0.25" >1.5</text>
<line x1="548.6" y1="275.5" x2="568.3" y2="275.5" stroke="#1818d0" stroke-width="1.2" stroke-linecap="butt"/>
<path d="M558.3,272.7 L560.8,277.3 L555.8,277.3 Z" fill="#0000cc"/>
<text x="571.5" y="278.1" font-family="Liberation Sans" font-size="7.1" font-weight="bold" font-style="normal" text-anchor="start" fill="#111" >Pythia8</text>
<text x="0" y="0" font-family="Liberation Sans" font-size="12.7" font-weight="normal" font-style="normal" text-anchor="end" fill="#111" stroke="#111" stroke-width="0.25" transform="translate(366.3,267.2) rotate(-90)">Data / MC</text>
<rect x="403.2" y="350.8" width="16.64" height="17.5" fill="url(#hrR4)" stroke="none" stroke-width="1" />
<rect x="419.84" y="349.9" width="33.29" height="20.1" fill="url(#hrR4)" stroke="none" stroke-width="1" />
<rect x="453.13" y="352.5" width="49.93" height="15.8" fill="url(#hrR4)" stroke="none" stroke-width="1" />
<rect x="503.06" y="349" width="166.44" height="21" fill="url(#hrR4)" stroke="none" stroke-width="1" />
<line x1="404.2" y1="360.1" x2="668.5" y2="360.1" stroke="#d43030" stroke-width="1.2" stroke-dasharray="2.8,2.8" stroke-linecap="butt"/>
<line x1="403.2" y1="361.8" x2="419.84" y2="361.8" stroke="#d42020" stroke-width="1.1" stroke-linecap="butt"/>
<line x1="419.84" y1="362.7" x2="453.13" y2="362.7" stroke="#d42020" stroke-width="1.1" stroke-linecap="butt"/>
<line x1="453.13" y1="363.9" x2="503.06" y2="363.9" stroke="#d42020" stroke-width="1.1" stroke-linecap="butt"/>
<line x1="503.06" y1="364" x2="669.5" y2="364" stroke="#d42020" stroke-width="1.1" stroke-linecap="butt"/>
<circle cx="411.52" cy="361.8" r="2.45" fill="#cc0000"/>
<circle cx="436.49" cy="362.7" r="2.45" fill="#cc0000"/>
<circle cx="478.1" cy="363.9" r="2.45" fill="#cc0000"/>
<circle cx="586.28" cy="364" r="2.45" fill="#cc0000"/>
<rect x="403.2" y="331.9" width="266.3" height="55.1" fill="none" stroke="#000" stroke-width="1.2" />
<line x1="403.2" y1="387" x2="403.2" y2="384.8" stroke="#000" stroke-width="0.7" stroke-linecap="butt"/>
<line x1="403.2" y1="331.9" x2="403.2" y2="334.1" stroke="#000" stroke-width="0.7" stroke-linecap="butt"/>
<line x1="419.84" y1="387" x2="419.84" y2="385.8" stroke="#000" stroke-width="0.7" stroke-linecap="butt"/>
<line x1="419.84" y1="331.9" x2="419.84" y2="333.1" stroke="#000" stroke-width="0.7" stroke-linecap="butt"/>
<line x1="436.49" y1="387" x2="436.49" y2="385.8" stroke="#000" stroke-width="0.7" stroke-linecap="butt"/>
<line x1="436.49" y1="331.9" x2="436.49" y2="333.1" stroke="#000" stroke-width="0.7" stroke-linecap="butt"/>
<line x1="453.13" y1="387" x2="453.13" y2="385.8" stroke="#000" stroke-width="0.7" stroke-linecap="butt"/>
<line x1="453.13" y1="331.9" x2="453.13" y2="333.1" stroke="#000" stroke-width="0.7" stroke-linecap="butt"/>
<line x1="469.77" y1="387" x2="469.77" y2="384.8" stroke="#000" stroke-width="0.7" stroke-linecap="butt"/>
<line x1="469.77" y1="331.9" x2="469.77" y2="334.1" stroke="#000" stroke-width="0.7" stroke-linecap="butt"/>
<line x1="486.42" y1="387" x2="486.42" y2="385.8" stroke="#000" stroke-width="0.7" stroke-linecap="butt"/>
<line x1="486.42" y1="331.9" x2="486.42" y2="333.1" stroke="#000" stroke-width="0.7" stroke-linecap="butt"/>
<line x1="503.06" y1="387" x2="503.06" y2="385.8" stroke="#000" stroke-width="0.7" stroke-linecap="butt"/>
<line x1="503.06" y1="331.9" x2="503.06" y2="333.1" stroke="#000" stroke-width="0.7" stroke-linecap="butt"/>
<line x1="519.71" y1="387" x2="519.71" y2="385.8" stroke="#000" stroke-width="0.7" stroke-linecap="butt"/>
<line x1="519.71" y1="331.9" x2="519.71" y2="333.1" stroke="#000" stroke-width="0.7" stroke-linecap="butt"/>
<line x1="536.35" y1="387" x2="536.35" y2="384.8" stroke="#000" stroke-width="0.7" stroke-linecap="butt"/>
<line x1="536.35" y1="331.9" x2="536.35" y2="334.1" stroke="#000" stroke-width="0.7" stroke-linecap="butt"/>
<line x1="552.99" y1="387" x2="552.99" y2="385.8" stroke="#000" stroke-width="0.7" stroke-linecap="butt"/>
<line x1="552.99" y1="331.9" x2="552.99" y2="333.1" stroke="#000" stroke-width="0.7" stroke-linecap="butt"/>
<line x1="569.64" y1="387" x2="569.64" y2="385.8" stroke="#000" stroke-width="0.7" stroke-linecap="butt"/>
<line x1="569.64" y1="331.9" x2="569.64" y2="333.1" stroke="#000" stroke-width="0.7" stroke-linecap="butt"/>
<line x1="586.28" y1="387" x2="586.28" y2="385.8" stroke="#000" stroke-width="0.7" stroke-linecap="butt"/>
<line x1="586.28" y1="331.9" x2="586.28" y2="333.1" stroke="#000" stroke-width="0.7" stroke-linecap="butt"/>
<line x1="602.92" y1="387" x2="602.92" y2="384.8" stroke="#000" stroke-width="0.7" stroke-linecap="butt"/>
<line x1="602.92" y1="331.9" x2="602.92" y2="334.1" stroke="#000" stroke-width="0.7" stroke-linecap="butt"/>
<line x1="619.57" y1="387" x2="619.57" y2="385.8" stroke="#000" stroke-width="0.7" stroke-linecap="butt"/>
<line x1="619.57" y1="331.9" x2="619.57" y2="333.1" stroke="#000" stroke-width="0.7" stroke-linecap="butt"/>
<line x1="636.21" y1="387" x2="636.21" y2="385.8" stroke="#000" stroke-width="0.7" stroke-linecap="butt"/>
<line x1="636.21" y1="331.9" x2="636.21" y2="333.1" stroke="#000" stroke-width="0.7" stroke-linecap="butt"/>
<line x1="652.86" y1="387" x2="652.86" y2="385.8" stroke="#000" stroke-width="0.7" stroke-linecap="butt"/>
<line x1="652.86" y1="331.9" x2="652.86" y2="333.1" stroke="#000" stroke-width="0.7" stroke-linecap="butt"/>
<line x1="669.5" y1="387" x2="669.5" y2="384.8" stroke="#000" stroke-width="0.7" stroke-linecap="butt"/>
<line x1="669.5" y1="331.9" x2="669.5" y2="334.1" stroke="#000" stroke-width="0.7" stroke-linecap="butt"/>
<line x1="403.2" y1="379.8" x2="411.7" y2="379.8" stroke="#000" stroke-width="1" stroke-linecap="butt"/>
<line x1="669.5" y1="379.8" x2="662" y2="379.8" stroke="#000" stroke-width="1" stroke-linecap="butt"/>
<line x1="403.2" y1="360.1" x2="411.7" y2="360.1" stroke="#000" stroke-width="1" stroke-linecap="butt"/>
<line x1="669.5" y1="360.1" x2="662" y2="360.1" stroke="#000" stroke-width="1" stroke-linecap="butt"/>
<line x1="403.2" y1="340.4" x2="411.7" y2="340.4" stroke="#000" stroke-width="1" stroke-linecap="butt"/>
<line x1="669.5" y1="340.4" x2="662" y2="340.4" stroke="#000" stroke-width="1" stroke-linecap="butt"/>
<text x="399" y="382.7" font-family="Liberation Sans" font-size="11" font-weight="normal" font-style="normal" text-anchor="end" fill="#111" stroke="#111" stroke-width="0.25" >0.5</text>
<text x="399" y="363" font-family="Liberation Sans" font-size="11" font-weight="normal" font-style="normal" text-anchor="end" fill="#111" stroke="#111" stroke-width="0.25" >1</text>
<text x="399" y="343.3" font-family="Liberation Sans" font-size="11" font-weight="normal" font-style="normal" text-anchor="end" fill="#111" stroke="#111" stroke-width="0.25" >1.5</text>
<line x1="548.6" y1="337.9" x2="568.3" y2="337.9" stroke="#d42020" stroke-width="1.2" stroke-linecap="butt"/>
<circle cx="558.3" cy="337.9" r="2.4" fill="#cc0000"/>
<text x="571.5" y="340.5" font-family="Liberation Sans" font-size="7.1" font-weight="bold" font-style="normal" text-anchor="start" fill="#111" >Herwig++</text>
<text x="0" y="0" font-family="Liberation Sans" font-size="12.7" font-weight="normal" font-style="normal" text-anchor="end" fill="#111" stroke="#111" stroke-width="0.25" transform="translate(366.3,330.29999999999995) rotate(-90)">Data / MC</text>
<text x="403.2" y="400.9" font-family="Liberation Sans" font-size="11" font-weight="normal" font-style="normal" text-anchor="middle" fill="#111" stroke="#111" stroke-width="0.25" >200</text>
<text x="469.77" y="400.9" font-family="Liberation Sans" font-size="11" font-weight="normal" font-style="normal" text-anchor="middle" fill="#111" stroke="#111" stroke-width="0.25" >400</text>
<text x="536.35" y="400.9" font-family="Liberation Sans" font-size="11" font-weight="normal" font-style="normal" text-anchor="middle" fill="#111" stroke="#111" stroke-width="0.25" >600</text>
<text x="602.92" y="400.9" font-family="Liberation Sans" font-size="11" font-weight="normal" font-style="normal" text-anchor="middle" fill="#111" stroke="#111" stroke-width="0.25" >800</text>
<text x="669.5" y="400.9" font-family="Liberation Sans" font-size="11" font-weight="normal" font-style="normal" text-anchor="middle" fill="#111" stroke="#111" stroke-width="0.25" >1000</text>
<text x="683.6" y="421.4" font-family="Liberation Sans" font-size="13" font-weight="normal" font-style="normal" text-anchor="end" fill="#111" stroke="#111" stroke-width="0.25" >Jet p<tspan font-size="9" dy="4">T</tspan><tspan dy="-4"> [GeV]</tspan></text>
<text x="515.6" y="430.8" font-family="Liberation Serif" font-size="16" font-weight="bold" font-style="normal" text-anchor="middle" fill="#000" >(b)</text>
<rect x="48.4" y="657.8" width="44.33" height="26.2" fill="#85c2a4" stroke="none" stroke-width="1" />
<rect x="92.73" y="602.2" width="88.67" height="39.8" fill="#85c2a4" stroke="none" stroke-width="1" />
<rect x="181.4" y="679.8" width="133" height="36.4" fill="#85c2a4" stroke="none" stroke-width="1" />
<line x1="50.1" y1="653.6" x2="313.4" y2="653.6" stroke="#000" stroke-width="1.1" stroke-dasharray="3.2,2.9" stroke-linecap="butt"/>
<line x1="48.4" y1="639.3" x2="92.73" y2="639.3" stroke="#5252e6" stroke-width="1.4" stroke-linecap="butt"/>
<line x1="92.73" y1="603.1" x2="181.4" y2="603.1" stroke="#5252e6" stroke-width="1.4" stroke-linecap="butt"/>
<line x1="181.4" y1="658.6" x2="314.4" y2="658.6" stroke="#5252e6" stroke-width="1.4" stroke-linecap="butt"/>
<line x1="48.4" y1="660.4" x2="92.73" y2="660.4" stroke="#d83030" stroke-width="1.1" stroke-linecap="butt"/>
<line x1="92.73" y1="617.5" x2="181.4" y2="617.5" stroke="#d83030" stroke-width="1.1" stroke-linecap="butt"/>
<line x1="181.4" y1="690.8" x2="314.4" y2="690.8" stroke="#d83030" stroke-width="1.1" stroke-linecap="butt"/>
<line x1="48.4" y1="671.6" x2="92.73" y2="671.6" stroke="#101010" stroke-width="1.1" stroke-linecap="butt"/>
<line x1="92.73" y1="622.6" x2="181.4" y2="622.6" stroke="#101010" stroke-width="1.1" stroke-linecap="butt"/>
<line x1="181.4" y1="699.7" x2="314.4" y2="699.7" stroke="#101010" stroke-width="1.1" stroke-linecap="butt"/>
<line x1="70.57" y1="634.7" x2="70.57" y2="643.5" stroke="#1818e0" stroke-width="1.1" stroke-linecap="butt"/>
<line x1="137.07" y1="597.2" x2="137.07" y2="609.2" stroke="#1818e0" stroke-width="1.1" stroke-linecap="butt"/>
<line x1="247.9" y1="645.9" x2="247.9" y2="671.8" stroke="#1818e0" stroke-width="1.1" stroke-linecap="butt"/>
<line x1="70.57" y1="666.1" x2="70.57" y2="676.6" stroke="#000" stroke-width="1.1" stroke-linecap="butt"/>
<line x1="137.07" y1="617" x2="137.07" y2="630.4" stroke="#000" stroke-width="1.1" stroke-linecap="butt"/>
<line x1="247.9" y1="685.5" x2="247.9" y2="709.9" stroke="#000" stroke-width="1.1" stroke-linecap="butt"/>
<path d="M70.57,636.3 L72.97,641.6 L68.17,641.6 Z" fill="none" stroke="#0000cc" stroke-width="1.05" stroke-linejoin="round"/>
<path d="M137.07,600.1 L139.47,605.4 L134.67,605.4 Z" fill="none" stroke="#0000cc" stroke-width="1.05" stroke-linejoin="round"/>
<path d="M247.9,655.6 L250.3,660.9 L245.5,660.9 Z" fill="none" stroke="#0000cc" stroke-width="1.05" stroke-linejoin="round"/>
<circle cx="70.57" cy="660.4" r="2.45" fill="none" stroke="#cc0000" stroke-width="1"/>
<circle cx="137.07" cy="617.5" r="2.45" fill="none" stroke="#cc0000" stroke-width="1"/>
<circle cx="247.9" cy="690.8" r="2.45" fill="none" stroke="#cc0000" stroke-width="1"/>
<circle cx="70.57" cy="671.6" r="2.75" fill="#000"/>
<circle cx="137.07" cy="622.6" r="2.75" fill="#000"/>
<circle cx="247.9" cy="699.7" r="2.75" fill="#000"/>
<rect x="48.4" y="468.9" width="266" height="258.7" fill="none" stroke="#000" stroke-width="1.2" />
<line x1="48.4" y1="727.6" x2="48.4" y2="721.2" stroke="#000" stroke-width="0.9" stroke-linecap="butt"/>
<line x1="48.4" y1="468.9" x2="48.4" y2="475.3" stroke="#000" stroke-width="0.9" stroke-linecap="butt"/>
<line x1="57.27" y1="727.6" x2="57.27" y2="724.1" stroke="#000" stroke-width="0.9" stroke-linecap="butt"/>
<line x1="57.27" y1="468.9" x2="57.27" y2="472.4" stroke="#000" stroke-width="0.9" stroke-linecap="butt"/>
<line x1="66.13" y1="727.6" x2="66.13" y2="724.1" stroke="#000" stroke-width="0.9" stroke-linecap="butt"/>
<line x1="66.13" y1="468.9" x2="66.13" y2="472.4" stroke="#000" stroke-width="0.9" stroke-linecap="butt"/>
<line x1="75" y1="727.6" x2="75" y2="724.1" stroke="#000" stroke-width="0.9" stroke-linecap="butt"/>
<line x1="75" y1="468.9" x2="75" y2="472.4" stroke="#000" stroke-width="0.9" stroke-linecap="butt"/>
<line x1="83.87" y1="727.6" x2="83.87" y2="724.1" stroke="#000" stroke-width="0.9" stroke-linecap="butt"/>
<line x1="83.87" y1="468.9" x2="83.87" y2="472.4" stroke="#000" stroke-width="0.9" stroke-linecap="butt"/>
<line x1="92.73" y1="727.6" x2="92.73" y2="721.2" stroke="#000" stroke-width="0.9" stroke-linecap="butt"/>
<line x1="92.73" y1="468.9" x2="92.73" y2="475.3" stroke="#000" stroke-width="0.9" stroke-linecap="butt"/>
<line x1="101.6" y1="727.6" x2="101.6" y2="724.1" stroke="#000" stroke-width="0.9" stroke-linecap="butt"/>
<line x1="101.6" y1="468.9" x2="101.6" y2="472.4" stroke="#000" stroke-width="0.9" stroke-linecap="butt"/>
<line x1="110.47" y1="727.6" x2="110.47" y2="724.1" stroke="#000" stroke-width="0.9" stroke-linecap="butt"/>
<line x1="110.47" y1="468.9" x2="110.47" y2="472.4" stroke="#000" stroke-width="0.9" stroke-linecap="butt"/>
<line x1="119.33" y1="727.6" x2="119.33" y2="724.1" stroke="#000" stroke-width="0.9" stroke-linecap="butt"/>
<line x1="119.33" y1="468.9" x2="119.33" y2="472.4" stroke="#000" stroke-width="0.9" stroke-linecap="butt"/>
<line x1="128.2" y1="727.6" x2="128.2" y2="724.1" stroke="#000" stroke-width="0.9" stroke-linecap="butt"/>
<line x1="128.2" y1="468.9" x2="128.2" y2="472.4" stroke="#000" stroke-width="0.9" stroke-linecap="butt"/>
<line x1="137.07" y1="727.6" x2="137.07" y2="721.2" stroke="#000" stroke-width="0.9" stroke-linecap="butt"/>
<line x1="137.07" y1="468.9" x2="137.07" y2="475.3" stroke="#000" stroke-width="0.9" stroke-linecap="butt"/>
<line x1="145.93" y1="727.6" x2="145.93" y2="724.1" stroke="#000" stroke-width="0.9" stroke-linecap="butt"/>
<line x1="145.93" y1="468.9" x2="145.93" y2="472.4" stroke="#000" stroke-width="0.9" stroke-linecap="butt"/>
<line x1="154.8" y1="727.6" x2="154.8" y2="724.1" stroke="#000" stroke-width="0.9" stroke-linecap="butt"/>
<line x1="154.8" y1="468.9" x2="154.8" y2="472.4" stroke="#000" stroke-width="0.9" stroke-linecap="butt"/>
<line x1="163.67" y1="727.6" x2="163.67" y2="724.1" stroke="#000" stroke-width="0.9" stroke-linecap="butt"/>
<line x1="163.67" y1="468.9" x2="163.67" y2="472.4" stroke="#000" stroke-width="0.9" stroke-linecap="butt"/>
<line x1="172.53" y1="727.6" x2="172.53" y2="724.1" stroke="#000" stroke-width="0.9" stroke-linecap="butt"/>
<line x1="172.53" y1="468.9" x2="172.53" y2="472.4" stroke="#000" stroke-width="0.9" stroke-linecap="butt"/>
<line x1="181.4" y1="727.6" x2="181.4" y2="721.2" stroke="#000" stroke-width="0.9" stroke-linecap="butt"/>
<line x1="181.4" y1="468.9" x2="181.4" y2="475.3" stroke="#000" stroke-width="0.9" stroke-linecap="butt"/>
<line x1="190.27" y1="727.6" x2="190.27" y2="724.1" stroke="#000" stroke-width="0.9" stroke-linecap="butt"/>
<line x1="190.27" y1="468.9" x2="190.27" y2="472.4" stroke="#000" stroke-width="0.9" stroke-linecap="butt"/>
<line x1="199.13" y1="727.6" x2="199.13" y2="724.1" stroke="#000" stroke-width="0.9" stroke-linecap="butt"/>
<line x1="199.13" y1="468.9" x2="199.13" y2="472.4" stroke="#000" stroke-width="0.9" stroke-linecap="butt"/>
<line x1="208" y1="727.6" x2="208" y2="724.1" stroke="#000" stroke-width="0.9" stroke-linecap="butt"/>
<line x1="208" y1="468.9" x2="208" y2="472.4" stroke="#000" stroke-width="0.9" stroke-linecap="butt"/>
<line x1="216.87" y1="727.6" x2="216.87" y2="724.1" stroke="#000" stroke-width="0.9" stroke-linecap="butt"/>
<line x1="216.87" y1="468.9" x2="216.87" y2="472.4" stroke="#000" stroke-width="0.9" stroke-linecap="butt"/>
<line x1="225.73" y1="727.6" x2="225.73" y2="721.2" stroke="#000" stroke-width="0.9" stroke-linecap="butt"/>
<line x1="225.73" y1="468.9" x2="225.73" y2="475.3" stroke="#000" stroke-width="0.9" stroke-linecap="butt"/>
<line x1="234.6" y1="727.6" x2="234.6" y2="724.1" stroke="#000" stroke-width="0.9" stroke-linecap="butt"/>
<line x1="234.6" y1="468.9" x2="234.6" y2="472.4" stroke="#000" stroke-width="0.9" stroke-linecap="butt"/>
<line x1="243.47" y1="727.6" x2="243.47" y2="724.1" stroke="#000" stroke-width="0.9" stroke-linecap="butt"/>
<line x1="243.47" y1="468.9" x2="243.47" y2="472.4" stroke="#000" stroke-width="0.9" stroke-linecap="butt"/>
<line x1="252.33" y1="727.6" x2="252.33" y2="724.1" stroke="#000" stroke-width="0.9" stroke-linecap="butt"/>
<line x1="252.33" y1="468.9" x2="252.33" y2="472.4" stroke="#000" stroke-width="0.9" stroke-linecap="butt"/>
<line x1="261.2" y1="727.6" x2="261.2" y2="724.1" stroke="#000" stroke-width="0.9" stroke-linecap="butt"/>
<line x1="261.2" y1="468.9" x2="261.2" y2="472.4" stroke="#000" stroke-width="0.9" stroke-linecap="butt"/>
<line x1="270.07" y1="727.6" x2="270.07" y2="721.2" stroke="#000" stroke-width="0.9" stroke-linecap="butt"/>
<line x1="270.07" y1="468.9" x2="270.07" y2="475.3" stroke="#000" stroke-width="0.9" stroke-linecap="butt"/>
<line x1="278.93" y1="727.6" x2="278.93" y2="724.1" stroke="#000" stroke-width="0.9" stroke-linecap="butt"/>
<line x1="278.93" y1="468.9" x2="278.93" y2="472.4" stroke="#000" stroke-width="0.9" stroke-linecap="butt"/>
<line x1="287.8" y1="727.6" x2="287.8" y2="724.1" stroke="#000" stroke-width="0.9" stroke-linecap="butt"/>
<line x1="287.8" y1="468.9" x2="287.8" y2="472.4" stroke="#000" stroke-width="0.9" stroke-linecap="butt"/>
<line x1="296.67" y1="727.6" x2="296.67" y2="724.1" stroke="#000" stroke-width="0.9" stroke-linecap="butt"/>
<line x1="296.67" y1="468.9" x2="296.67" y2="472.4" stroke="#000" stroke-width="0.9" stroke-linecap="butt"/>
<line x1="305.53" y1="727.6" x2="305.53" y2="724.1" stroke="#000" stroke-width="0.9" stroke-linecap="butt"/>
<line x1="305.53" y1="468.9" x2="305.53" y2="472.4" stroke="#000" stroke-width="0.9" stroke-linecap="butt"/>
<line x1="314.4" y1="727.6" x2="314.4" y2="721.2" stroke="#000" stroke-width="0.9" stroke-linecap="butt"/>
<line x1="314.4" y1="468.9" x2="314.4" y2="475.3" stroke="#000" stroke-width="0.9" stroke-linecap="butt"/>
<line x1="48.4" y1="706.41" x2="57.9" y2="706.41" stroke="#000" stroke-width="1" stroke-linecap="butt"/>
<line x1="314.4" y1="706.41" x2="304.9" y2="706.41" stroke="#000" stroke-width="1" stroke-linecap="butt"/>
<line x1="48.4" y1="680.02" x2="57.9" y2="680.02" stroke="#000" stroke-width="1" stroke-linecap="butt"/>
<line x1="314.4" y1="680.02" x2="304.9" y2="680.02" stroke="#000" stroke-width="1" stroke-linecap="butt"/>
<line x1="48.4" y1="653.63" x2="57.9" y2="653.63" stroke="#000" stroke-width="1" stroke-linecap="butt"/>
<line x1="314.4" y1="653.63" x2="304.9" y2="653.63" stroke="#000" stroke-width="1" stroke-linecap="butt"/>
<line x1="48.4" y1="627.24" x2="57.9" y2="627.24" stroke="#000" stroke-width="1" stroke-linecap="butt"/>
<line x1="314.4" y1="627.24" x2="304.9" y2="627.24" stroke="#000" stroke-width="1" stroke-linecap="butt"/>
<line x1="48.4" y1="600.85" x2="57.9" y2="600.85" stroke="#000" stroke-width="1" stroke-linecap="butt"/>
<line x1="314.4" y1="600.85" x2="304.9" y2="600.85" stroke="#000" stroke-width="1" stroke-linecap="butt"/>
<line x1="48.4" y1="574.46" x2="57.9" y2="574.46" stroke="#000" stroke-width="1" stroke-linecap="butt"/>
<line x1="314.4" y1="574.46" x2="304.9" y2="574.46" stroke="#000" stroke-width="1" stroke-linecap="butt"/>
<line x1="48.4" y1="548.07" x2="57.9" y2="548.07" stroke="#000" stroke-width="1" stroke-linecap="butt"/>
<line x1="314.4" y1="548.07" x2="304.9" y2="548.07" stroke="#000" stroke-width="1" stroke-linecap="butt"/>
<line x1="48.4" y1="521.68" x2="57.9" y2="521.68" stroke="#000" stroke-width="1" stroke-linecap="butt"/>
<line x1="314.4" y1="521.68" x2="304.9" y2="521.68" stroke="#000" stroke-width="1" stroke-linecap="butt"/>
<line x1="48.4" y1="495.29" x2="57.9" y2="495.29" stroke="#000" stroke-width="1" stroke-linecap="butt"/>
<line x1="314.4" y1="495.29" x2="304.9" y2="495.29" stroke="#000" stroke-width="1" stroke-linecap="butt"/>
<line x1="48.4" y1="468.9" x2="57.9" y2="468.9" stroke="#000" stroke-width="1" stroke-linecap="butt"/>
<line x1="314.4" y1="468.9" x2="304.9" y2="468.9" stroke="#000" stroke-width="1" stroke-linecap="butt"/>
<line x1="48.4" y1="722.24" x2="53.2" y2="722.24" stroke="#000" stroke-width="1" stroke-linecap="butt"/>
<line x1="314.4" y1="722.24" x2="309.6" y2="722.24" stroke="#000" stroke-width="1" stroke-linecap="butt"/>
<line x1="48.4" y1="716.97" x2="53.2" y2="716.97" stroke="#000" stroke-width="1" stroke-linecap="butt"/>
<line x1="314.4" y1="716.97" x2="309.6" y2="716.97" stroke="#000" stroke-width="1" stroke-linecap="butt"/>
<line x1="48.4" y1="711.69" x2="53.2" y2="711.69" stroke="#000" stroke-width="1" stroke-linecap="butt"/>
<line x1="314.4" y1="711.69" x2="309.6" y2="711.69" stroke="#000" stroke-width="1" stroke-linecap="butt"/>
<line x1="48.4" y1="706.41" x2="53.2" y2="706.41" stroke="#000" stroke-width="1" stroke-linecap="butt"/>
<line x1="314.4" y1="706.41" x2="309.6" y2="706.41" stroke="#000" stroke-width="1" stroke-linecap="butt"/>
<line x1="48.4" y1="701.13" x2="53.2" y2="701.13" stroke="#000" stroke-width="1" stroke-linecap="butt"/>
<line x1="314.4" y1="701.13" x2="309.6" y2="701.13" stroke="#000" stroke-width="1" stroke-linecap="butt"/>
<line x1="48.4" y1="695.85" x2="53.2" y2="695.85" stroke="#000" stroke-width="1" stroke-linecap="butt"/>
<line x1="314.4" y1="695.85" x2="309.6" y2="695.85" stroke="#000" stroke-width="1" stroke-linecap="butt"/>
<line x1="48.4" y1="690.58" x2="53.2" y2="690.58" stroke="#000" stroke-width="1" stroke-linecap="butt"/>
<line x1="314.4" y1="690.58" x2="309.6" y2="690.58" stroke="#000" stroke-width="1" stroke-linecap="butt"/>
<line x1="48.4" y1="685.3" x2="53.2" y2="685.3" stroke="#000" stroke-width="1" stroke-linecap="butt"/>
<line x1="314.4" y1="685.3" x2="309.6" y2="685.3" stroke="#000" stroke-width="1" stroke-linecap="butt"/>
<line x1="48.4" y1="680.02" x2="53.2" y2="680.02" stroke="#000" stroke-width="1" stroke-linecap="butt"/>
<line x1="314.4" y1="680.02" x2="309.6" y2="680.02" stroke="#000" stroke-width="1" stroke-linecap="butt"/>
<line x1="48.4" y1="674.74" x2="53.2" y2="674.74" stroke="#000" stroke-width="1" stroke-linecap="butt"/>
<line x1="314.4" y1="674.74" x2="309.6" y2="674.74" stroke="#000" stroke-width="1" stroke-linecap="butt"/>
<line x1="48.4" y1="669.46" x2="53.2" y2="669.46" stroke="#000" stroke-width="1" stroke-linecap="butt"/>
<line x1="314.4" y1="669.46" x2="309.6" y2="669.46" stroke="#000" stroke-width="1" stroke-linecap="butt"/>
<line x1="48.4" y1="664.19" x2="53.2" y2="664.19" stroke="#000" stroke-width="1" stroke-linecap="butt"/>
<line x1="314.4" y1="664.19" x2="309.6" y2="664.19" stroke="#000" stroke-width="1" stroke-linecap="butt"/>
<line x1="48.4" y1="658.91" x2="53.2" y2="658.91" stroke="#000" stroke-width="1" stroke-linecap="butt"/>
<line x1="314.4" y1="658.91" x2="309.6" y2="658.91" stroke="#000" stroke-width="1" stroke-linecap="butt"/>
<line x1="48.4" y1="653.63" x2="53.2" y2="653.63" stroke="#000" stroke-width="1" stroke-linecap="butt"/>
<line x1="314.4" y1="653.63" x2="309.6" y2="653.63" stroke="#000" stroke-width="1" stroke-linecap="butt"/>
<line x1="48.4" y1="648.35" x2="53.2" y2="648.35" stroke="#000" stroke-width="1" stroke-linecap="butt"/>
<line x1="314.4" y1="648.35" x2="309.6" y2="648.35" stroke="#000" stroke-width="1" stroke-linecap="butt"/>
<line x1="48.4" y1="643.07" x2="53.2" y2="643.07" stroke="#000" stroke-width="1" stroke-linecap="butt"/>
<line x1="314.4" y1="643.07" x2="309.6" y2="643.07" stroke="#000" stroke-width="1" stroke-linecap="butt"/>
<line x1="48.4" y1="637.8" x2="53.2" y2="637.8" stroke="#000" stroke-width="1" stroke-linecap="butt"/>
<line x1="314.4" y1="637.8" x2="309.6" y2="637.8" stroke="#000" stroke-width="1" stroke-linecap="butt"/>
<line x1="48.4" y1="632.52" x2="53.2" y2="632.52" stroke="#000" stroke-width="1" stroke-linecap="butt"/>
<line x1="314.4" y1="632.52" x2="309.6" y2="632.52" stroke="#000" stroke-width="1" stroke-linecap="butt"/>
<line x1="48.4" y1="627.24" x2="53.2" y2="627.24" stroke="#000" stroke-width="1" stroke-linecap="butt"/>
<line x1="314.4" y1="627.24" x2="309.6" y2="627.24" stroke="#000" stroke-width="1" stroke-linecap="butt"/>
<line x1="48.4" y1="621.96" x2="53.2" y2="621.96" stroke="#000" stroke-width="1" stroke-linecap="butt"/>
<line x1="314.4" y1="621.96" x2="309.6" y2="621.96" stroke="#000" stroke-width="1" stroke-linecap="butt"/>
<line x1="48.4" y1="616.68" x2="53.2" y2="616.68" stroke="#000" stroke-width="1" stroke-linecap="butt"/>
<line x1="314.4" y1="616.68" x2="309.6" y2="616.68" stroke="#000" stroke-width="1" stroke-linecap="butt"/>
<line x1="48.4" y1="611.41" x2="53.2" y2="611.41" stroke="#000" stroke-width="1" stroke-linecap="butt"/>
<line x1="314.4" y1="611.41" x2="309.6" y2="611.41" stroke="#000" stroke-width="1" stroke-linecap="butt"/>
<line x1="48.4" y1="606.13" x2="53.2" y2="606.13" stroke="#000" stroke-width="1" stroke-linecap="butt"/>
<line x1="314.4" y1="606.13" x2="309.6" y2="606.13" stroke="#000" stroke-width="1" stroke-linecap="butt"/>
<line x1="48.4" y1="600.85" x2="53.2" y2="600.85" stroke="#000" stroke-width="1" stroke-linecap="butt"/>
<line x1="314.4" y1="600.85" x2="309.6" y2="600.85" stroke="#000" stroke-width="1" stroke-linecap="butt"/>
<line x1="48.4" y1="595.57" x2="53.2" y2="595.57" stroke="#000" stroke-width="1" stroke-linecap="butt"/>
<line x1="314.4" y1="595.57" x2="309.6" y2="595.57" stroke="#000" stroke-width="1" stroke-linecap="butt"/>
<line x1="48.4" y1="590.29" x2="53.2" y2="590.29" stroke="#000" stroke-width="1" stroke-linecap="butt"/>
<line x1="314.4" y1="590.29" x2="309.6" y2="590.29" stroke="#000" stroke-width="1" stroke-linecap="butt"/>
<line x1="48.4" y1="585.02" x2="53.2" y2="585.02" stroke="#000" stroke-width="1" stroke-linecap="butt"/>
<line x1="314.4" y1="585.02" x2="309.6" y2="585.02" stroke="#000" stroke-width="1" stroke-linecap="butt"/>
<line x1="48.4" y1="579.74" x2="53.2" y2="579.74" stroke="#000" stroke-width="1" stroke-linecap="butt"/>
<line x1="314.4" y1="579.74" x2="309.6" y2="579.74" stroke="#000" stroke-width="1" stroke-linecap="butt"/>
<line x1="48.4" y1="574.46" x2="53.2" y2="574.46" stroke="#000" stroke-width="1" stroke-linecap="butt"/>
<line x1="314.4" y1="574.46" x2="309.6" y2="574.46" stroke="#000" stroke-width="1" stroke-linecap="butt"/>
<line x1="48.4" y1="569.18" x2="53.2" y2="569.18" stroke="#000" stroke-width="1" stroke-linecap="butt"/>
<line x1="314.4" y1="569.18" x2="309.6" y2="569.18" stroke="#000" stroke-width="1" stroke-linecap="butt"/>
<line x1="48.4" y1="563.9" x2="53.2" y2="563.9" stroke="#000" stroke-width="1" stroke-linecap="butt"/>
<line x1="314.4" y1="563.9" x2="309.6" y2="563.9" stroke="#000" stroke-width="1" stroke-linecap="butt"/>
<line x1="48.4" y1="558.63" x2="53.2" y2="558.63" stroke="#000" stroke-width="1" stroke-linecap="butt"/>
<line x1="314.4" y1="558.63" x2="309.6" y2="558.63" stroke="#000" stroke-width="1" stroke-linecap="butt"/>
<line x1="48.4" y1="553.35" x2="53.2" y2="553.35" stroke="#000" stroke-width="1" stroke-linecap="butt"/>
<line x1="314.4" y1="553.35" x2="309.6" y2="553.35" stroke="#000" stroke-width="1" stroke-linecap="butt"/>
<line x1="48.4" y1="548.07" x2="53.2" y2="548.07" stroke="#000" stroke-width="1" stroke-linecap="butt"/>
<line x1="314.4" y1="548.07" x2="309.6" y2="548.07" stroke="#000" stroke-width="1" stroke-linecap="butt"/>
<line x1="48.4" y1="542.79" x2="53.2" y2="542.79" stroke="#000" stroke-width="1" stroke-linecap="butt"/>
<line x1="314.4" y1="542.79" x2="309.6" y2="542.79" stroke="#000" stroke-width="1" stroke-linecap="butt"/>
<line x1="48.4" y1="537.51" x2="53.2" y2="537.51" stroke="#000" stroke-width="1" stroke-linecap="butt"/>
<line x1="314.4" y1="537.51" x2="309.6" y2="537.51" stroke="#000" stroke-width="1" stroke-linecap="butt"/>
<line x1="48.4" y1="532.24" x2="53.2" y2="532.24" stroke="#000" stroke-width="1" stroke-linecap="butt"/>
<line x1="314.4" y1="532.24" x2="309.6" y2="532.24" stroke="#000" stroke-width="1" stroke-linecap="butt"/>
<line x1="48.4" y1="526.96" x2="53.2" y2="526.96" stroke="#000" stroke-width="1" stroke-linecap="butt"/>
<line x1="314.4" y1="526.96" x2="309.6" y2="526.96" stroke="#000" stroke-width="1" stroke-linecap="butt"/>
<line x1="48.4" y1="521.68" x2="53.2" y2="521.68" stroke="#000" stroke-width="1" stroke-linecap="butt"/>
<line x1="314.4" y1="521.68" x2="309.6" y2="521.68" stroke="#000" stroke-width="1" stroke-linecap="butt"/>
<line x1="48.4" y1="516.4" x2="53.2" y2="516.4" stroke="#000" stroke-width="1" stroke-linecap="butt"/>
<line x1="314.4" y1="516.4" x2="309.6" y2="516.4" stroke="#000" stroke-width="1" stroke-linecap="butt"/>
<line x1="48.4" y1="511.12" x2="53.2" y2="511.12" stroke="#000" stroke-width="1" stroke-linecap="butt"/>
<line x1="314.4" y1="511.12" x2="309.6" y2="511.12" stroke="#000" stroke-width="1" stroke-linecap="butt"/>
<line x1="48.4" y1="505.85" x2="53.2" y2="505.85" stroke="#000" stroke-width="1" stroke-linecap="butt"/>
<line x1="314.4" y1="505.85" x2="309.6" y2="505.85" stroke="#000" stroke-width="1" stroke-linecap="butt"/>
<line x1="48.4" y1="500.57" x2="53.2" y2="500.57" stroke="#000" stroke-width="1" stroke-linecap="butt"/>
<line x1="314.4" y1="500.57" x2="309.6" y2="500.57" stroke="#000" stroke-width="1" stroke-linecap="butt"/>
<line x1="48.4" y1="495.29" x2="53.2" y2="495.29" stroke="#000" stroke-width="1" stroke-linecap="butt"/>
<line x1="314.4" y1="495.29" x2="309.6" y2="495.29" stroke="#000" stroke-width="1" stroke-linecap="butt"/>
<line x1="48.4" y1="490.01" x2="53.2" y2="490.01" stroke="#000" stroke-width="1" stroke-linecap="butt"/>
<line x1="314.4" y1="490.01" x2="309.6" y2="490.01" stroke="#000" stroke-width="1" stroke-linecap="butt"/>
<line x1="48.4" y1="484.73" x2="53.2" y2="484.73" stroke="#000" stroke-width="1" stroke-linecap="butt"/>
<line x1="314.4" y1="484.73" x2="309.6" y2="484.73" stroke="#000" stroke-width="1" stroke-linecap="butt"/>
<line x1="48.4" y1="479.46" x2="53.2" y2="479.46" stroke="#000" stroke-width="1" stroke-linecap="butt"/>
<line x1="314.4" y1="479.46" x2="309.6" y2="479.46" stroke="#000" stroke-width="1" stroke-linecap="butt"/>
<line x1="48.4" y1="474.18" x2="53.2" y2="474.18" stroke="#000" stroke-width="1" stroke-linecap="butt"/>
<line x1="314.4" y1="474.18" x2="309.6" y2="474.18" stroke="#000" stroke-width="1" stroke-linecap="butt"/>
<text x="43.2" y="711.41" font-family="Liberation Sans" font-size="11" font-weight="normal" font-style="normal" text-anchor="end" fill="#111" stroke="#111" stroke-width="0.25" >0.15</text>
<text x="43.2" y="685.02" font-family="Liberation Sans" font-size="11" font-weight="normal" font-style="normal" text-anchor="end" fill="#111" stroke="#111" stroke-width="0.25" >0.2</text>
<text x="43.2" y="658.63" font-family="Liberation Sans" font-size="11" font-weight="normal" font-style="normal" text-anchor="end" fill="#111" stroke="#111" stroke-width="0.25" >0.25</text>
<text x="43.2" y="632.24" font-family="Liberation Sans" font-size="11" font-weight="normal" font-style="normal" text-anchor="end" fill="#111" stroke="#111" stroke-width="0.25" >0.3</text>
<text x="43.2" y="605.85" font-family="Liberation Sans" font-size="11" font-weight="normal" font-style="normal" text-anchor="end" fill="#111" stroke="#111" stroke-width="0.25" >0.35</text>
<text x="43.2" y="579.46" font-family="Liberation Sans" font-size="11" font-weight="normal" font-style="normal" text-anchor="end" fill="#111" stroke="#111" stroke-width="0.25" >0.4</text>
<text x="43.2" y="553.07" font-family="Liberation Sans" font-size="11" font-weight="normal" font-style="normal" text-anchor="end" fill="#111" stroke="#111" stroke-width="0.25" >0.45</text>
<text x="43.2" y="526.68" font-family="Liberation Sans" font-size="11" font-weight="normal" font-style="normal" text-anchor="end" fill="#111" stroke="#111" stroke-width="0.25" >0.5</text>
<text x="43.2" y="500.29" font-family="Liberation Sans" font-size="11" font-weight="normal" font-style="normal" text-anchor="end" fill="#111" stroke="#111" stroke-width="0.25" >0.55</text>
<text x="43.2" y="473.9" font-family="Liberation Sans" font-size="11" font-weight="normal" font-style="normal" text-anchor="end" fill="#111" stroke="#111" stroke-width="0.25" >0.6</text>
<text x="0" y="0" font-family="Liberation Sans" font-size="12.7" font-weight="normal" font-style="normal" text-anchor="end" fill="#111" stroke="#111" stroke-width="0.25" transform="translate(11.4,481.2) rotate(-90)">Signal efficiency</text>
<text x="62.2" y="494.7" font-family="Liberation Sans" font-size="13.2" font-weight="bold" font-style="italic" text-anchor="start" fill="#000" >ATLAS</text>
<path d="M63.5,508 L64.5,507 L65.6,513.9" fill="none" stroke="#111" stroke-width="1.25" stroke-linejoin="miter"/>
<path d="M65.6,513.9 L67.7,503.2 L74.5,503.2" fill="none" stroke="#111" stroke-width="0.85"/>
<text x="68.2" y="513.6" font-family="Liberation Sans" font-size="13.5" font-weight="normal" font-style="normal" text-anchor="start" fill="#111" stroke="#111" stroke-width="0.25" >s = 8 TeV, 20.3 fb<tspan font-size="8.6" dy="-5.0">-1</tspan></text>
<text x="62.2" y="533.4" font-family="Liberation Sans" font-size="13" font-weight="normal" font-style="normal" text-anchor="start" fill="#111" stroke="#111" stroke-width="0.25" >anti-k<tspan font-size="8" dy="3.6">t</tspan><tspan dy="-3.6"> R=1.0 jets</tspan></text>
<text x="62.2" y="554.1" font-family="Liberation Sans" font-size="13" font-weight="normal" font-style="normal" text-anchor="start" fill="#111" stroke="#111" stroke-width="0.25" >Trimmed (R<tspan font-size="8.6" dy="6.8">sub</tspan><tspan dy="-6.8">=0.2, f</tspan><tspan font-size="8.6" dy="6.8">cut</tspan><tspan dy="-6.8"> = 5%)</tspan></text>
<text x="62.2" y="573.1" font-family="Liberation Sans" font-size="13" font-weight="normal" font-style="normal" text-anchor="start" fill="#111" stroke="#111" stroke-width="0.25" >C<tspan font-size="9.2" dy="6">2</tspan><tspan font-size="9" dx="-5.5" dy="-13">(&#946;=1)</tspan><tspan dy="7" dx="-1.1"> Tight</tspan></text>
<rect x="182.8" y="475.8" width="24.5" height="12.1" fill="#85c2a4" stroke="none" stroke-width="1" />
<text x="211.8" y="484.3" font-family="Liberation Sans" font-size="6.8" font-weight="bold" font-style="normal" text-anchor="start" fill="#111" >Data Stat.</text>
<circle cx="248.36" cy="481.85" r="2.2" fill="none" stroke="#222" stroke-width="0.6"/>
<line x1="246.16" y1="481.85" x2="250.56" y2="481.85" stroke="#222" stroke-width="0.6" stroke-linecap="butt"/>
<line x1="248.36" y1="479.65" x2="248.36" y2="484.05" stroke="#222" stroke-width="0.6" stroke-linecap="butt"/>
<text x="252.96" y="484.3" font-family="Liberation Sans" font-size="6.8" font-weight="bold" font-style="normal" text-anchor="start" fill="#111" >Syst. Err.</text>
<line x1="182.8" y1="498.3" x2="207.3" y2="498.3" stroke="#101010" stroke-width="1.2" stroke-linecap="butt"/>
<circle cx="195" cy="498.3" r="2.6" fill="#000"/>
<text x="211.8" y="500.8" font-family="Liberation Sans" font-size="6.8" font-weight="bold" font-style="normal" text-anchor="start" fill="#111" >Data Stat. Err.</text>
<line x1="182.8" y1="515.1" x2="207.3" y2="515.1" stroke="#d83030" stroke-width="1.2" stroke-linecap="butt"/>
<circle cx="195" cy="515.1" r="2.4" fill="none" stroke="#cc0000" stroke-width="1"/>
<text x="211.8" y="517.6" font-family="Liberation Sans" font-size="6.8" font-weight="bold" font-style="normal" text-anchor="start" fill="#111" >Powheg+Pythia (Stat. Err.)</text>
<line x1="182.8" y1="531.2" x2="207.3" y2="531.2" stroke="#5252e6" stroke-width="1.2" stroke-linecap="butt"/>
<path d="M195,528.2 L197.4,533.5 L192.6,533.5 Z" fill="none" stroke="#0000cc" stroke-width="1.05" stroke-linejoin="round"/>
<text x="211.8" y="533.7" font-family="Liberation Sans" font-size="6.8" font-weight="bold" font-style="normal" text-anchor="start" fill="#111" >MC@NLO+Herwig (Stat. Err.)</text>
<rect x="48.4" y="755.5" width="44.33" height="9.2" fill="url(#hrB)" stroke="none" stroke-width="1" />
<rect x="92.73" y="749.4" width="88.67" height="21.5" fill="url(#hrB)" stroke="none" stroke-width="1" />
<rect x="181.4" y="753.3" width="133" height="12.3" fill="url(#hrB)" stroke="none" stroke-width="1" />
<line x1="48.4" y1="768.8" x2="92.73" y2="768.8" stroke="#5252e6" stroke-width="1.3" stroke-linecap="butt"/>
<line x1="92.73" y1="764.7" x2="181.4" y2="764.7" stroke="#5252e6" stroke-width="1.3" stroke-linecap="butt"/>
<line x1="181.4" y1="773" x2="314.4" y2="773" stroke="#5252e6" stroke-width="1.3" stroke-linecap="butt"/>
<line x1="49.4" y1="760.5" x2="313.4" y2="760.5" stroke="#1010c8" stroke-width="1.3" stroke-dasharray="3.2,2.9" stroke-linecap="butt"/>
<line x1="247.9" y1="769" x2="247.9" y2="777" stroke="#5252e6" stroke-width="1.2" stroke-linecap="butt"/>
<circle cx="70.57" cy="768.8" r="2.5" fill="#0000cc"/>
<circle cx="137.07" cy="764.7" r="2.5" fill="#0000cc"/>
<circle cx="247.9" cy="773" r="2.5" fill="#0000cc"/>
<rect x="48.4" y="732.7" width="266" height="55.3" fill="none" stroke="#000" stroke-width="1.2" />
<line x1="48.4" y1="788" x2="48.4" y2="785.8" stroke="#000" stroke-width="0.7" stroke-linecap="butt"/>
<line x1="48.4" y1="732.7" x2="48.4" y2="734.9" stroke="#000" stroke-width="0.7" stroke-linecap="butt"/>
<line x1="57.27" y1="788" x2="57.27" y2="786.8" stroke="#000" stroke-width="0.7" stroke-linecap="butt"/>
<line x1="57.27" y1="732.7" x2="57.27" y2="733.9" stroke="#000" stroke-width="0.7" stroke-linecap="butt"/>
<line x1="66.13" y1="788" x2="66.13" y2="786.8" stroke="#000" stroke-width="0.7" stroke-linecap="butt"/>
<line x1="66.13" y1="732.7" x2="66.13" y2="733.9" stroke="#000" stroke-width="0.7" stroke-linecap="butt"/>
<line x1="75" y1="788" x2="75" y2="786.8" stroke="#000" stroke-width="0.7" stroke-linecap="butt"/>
<line x1="75" y1="732.7" x2="75" y2="733.9" stroke="#000" stroke-width="0.7" stroke-linecap="butt"/>
<line x1="83.87" y1="788" x2="83.87" y2="786.8" stroke="#000" stroke-width="0.7" stroke-linecap="butt"/>
<line x1="83.87" y1="732.7" x2="83.87" y2="733.9" stroke="#000" stroke-width="0.7" stroke-linecap="butt"/>
<line x1="92.73" y1="788" x2="92.73" y2="785.8" stroke="#000" stroke-width="0.7" stroke-linecap="butt"/>
<line x1="92.73" y1="732.7" x2="92.73" y2="734.9" stroke="#000" stroke-width="0.7" stroke-linecap="butt"/>
<line x1="101.6" y1="788" x2="101.6" y2="786.8" stroke="#000" stroke-width="0.7" stroke-linecap="butt"/>
<line x1="101.6" y1="732.7" x2="101.6" y2="733.9" stroke="#000" stroke-width="0.7" stroke-linecap="butt"/>
<line x1="110.47" y1="788" x2="110.47" y2="786.8" stroke="#000" stroke-width="0.7" stroke-linecap="butt"/>
<line x1="110.47" y1="732.7" x2="110.47" y2="733.9" stroke="#000" stroke-width="0.7" stroke-linecap="butt"/>
<line x1="119.33" y1="788" x2="119.33" y2="786.8" stroke="#000" stroke-width="0.7" stroke-linecap="butt"/>
<line x1="119.33" y1="732.7" x2="119.33" y2="733.9" stroke="#000" stroke-width="0.7" stroke-linecap="butt"/>
<line x1="128.2" y1="788" x2="128.2" y2="786.8" stroke="#000" stroke-width="0.7" stroke-linecap="butt"/>
<line x1="128.2" y1="732.7" x2="128.2" y2="733.9" stroke="#000" stroke-width="0.7" stroke-linecap="butt"/>
<line x1="137.07" y1="788" x2="137.07" y2="785.8" stroke="#000" stroke-width="0.7" stroke-linecap="butt"/>
<line x1="137.07" y1="732.7" x2="137.07" y2="734.9" stroke="#000" stroke-width="0.7" stroke-linecap="butt"/>
<line x1="145.93" y1="788" x2="145.93" y2="786.8" stroke="#000" stroke-width="0.7" stroke-linecap="butt"/>
<line x1="145.93" y1="732.7" x2="145.93" y2="733.9" stroke="#000" stroke-width="0.7" stroke-linecap="butt"/>
<line x1="154.8" y1="788" x2="154.8" y2="786.8" stroke="#000" stroke-width="0.7" stroke-linecap="butt"/>
<line x1="154.8" y1="732.7" x2="154.8" y2="733.9" stroke="#000" stroke-width="0.7" stroke-linecap="butt"/>
<line x1="163.67" y1="788" x2="163.67" y2="786.8" stroke="#000" stroke-width="0.7" stroke-linecap="butt"/>
<line x1="163.67" y1="732.7" x2="163.67" y2="733.9" stroke="#000" stroke-width="0.7" stroke-linecap="butt"/>
<line x1="172.53" y1="788" x2="172.53" y2="786.8" stroke="#000" stroke-width="0.7" stroke-linecap="butt"/>
<line x1="172.53" y1="732.7" x2="172.53" y2="733.9" stroke="#000" stroke-width="0.7" stroke-linecap="butt"/>
<line x1="181.4" y1="788" x2="181.4" y2="785.8" stroke="#000" stroke-width="0.7" stroke-linecap="butt"/>
<line x1="181.4" y1="732.7" x2="181.4" y2="734.9" stroke="#000" stroke-width="0.7" stroke-linecap="butt"/>
<line x1="190.27" y1="788" x2="190.27" y2="786.8" stroke="#000" stroke-width="0.7" stroke-linecap="butt"/>
<line x1="190.27" y1="732.7" x2="190.27" y2="733.9" stroke="#000" stroke-width="0.7" stroke-linecap="butt"/>
<line x1="199.13" y1="788" x2="199.13" y2="786.8" stroke="#000" stroke-width="0.7" stroke-linecap="butt"/>
<line x1="199.13" y1="732.7" x2="199.13" y2="733.9" stroke="#000" stroke-width="0.7" stroke-linecap="butt"/>
<line x1="208" y1="788" x2="208" y2="786.8" stroke="#000" stroke-width="0.7" stroke-linecap="butt"/>
<line x1="208" y1="732.7" x2="208" y2="733.9" stroke="#000" stroke-width="0.7" stroke-linecap="butt"/>
<line x1="216.87" y1="788" x2="216.87" y2="786.8" stroke="#000" stroke-width="0.7" stroke-linecap="butt"/>
<line x1="216.87" y1="732.7" x2="216.87" y2="733.9" stroke="#000" stroke-width="0.7" stroke-linecap="butt"/>
<line x1="225.73" y1="788" x2="225.73" y2="785.8" stroke="#000" stroke-width="0.7" stroke-linecap="butt"/>
<line x1="225.73" y1="732.7" x2="225.73" y2="734.9" stroke="#000" stroke-width="0.7" stroke-linecap="butt"/>
<line x1="234.6" y1="788" x2="234.6" y2="786.8" stroke="#000" stroke-width="0.7" stroke-linecap="butt"/>
<line x1="234.6" y1="732.7" x2="234.6" y2="733.9" stroke="#000" stroke-width="0.7" stroke-linecap="butt"/>
<line x1="243.47" y1="788" x2="243.47" y2="786.8" stroke="#000" stroke-width="0.7" stroke-linecap="butt"/>
<line x1="243.47" y1="732.7" x2="243.47" y2="733.9" stroke="#000" stroke-width="0.7" stroke-linecap="butt"/>
<line x1="252.33" y1="788" x2="252.33" y2="786.8" stroke="#000" stroke-width="0.7" stroke-linecap="butt"/>
<line x1="252.33" y1="732.7" x2="252.33" y2="733.9" stroke="#000" stroke-width="0.7" stroke-linecap="butt"/>
<line x1="261.2" y1="788" x2="261.2" y2="786.8" stroke="#000" stroke-width="0.7" stroke-linecap="butt"/>
<line x1="261.2" y1="732.7" x2="261.2" y2="733.9" stroke="#000" stroke-width="0.7" stroke-linecap="butt"/>
<line x1="270.07" y1="788" x2="270.07" y2="785.8" stroke="#000" stroke-width="0.7" stroke-linecap="butt"/>
<line x1="270.07" y1="732.7" x2="270.07" y2="734.9" stroke="#000" stroke-width="0.7" stroke-linecap="butt"/>
<line x1="278.93" y1="788" x2="278.93" y2="786.8" stroke="#000" stroke-width="0.7" stroke-linecap="butt"/>
<line x1="278.93" y1="732.7" x2="278.93" y2="733.9" stroke="#000" stroke-width="0.7" stroke-linecap="butt"/>
<line x1="287.8" y1="788" x2="287.8" y2="786.8" stroke="#000" stroke-width="0.7" stroke-linecap="butt"/>
<line x1="287.8" y1="732.7" x2="287.8" y2="733.9" stroke="#000" stroke-width="0.7" stroke-linecap="butt"/>
<line x1="296.67" y1="788" x2="296.67" y2="786.8" stroke="#000" stroke-width="0.7" stroke-linecap="butt"/>
<line x1="296.67" y1="732.7" x2="296.67" y2="733.9" stroke="#000" stroke-width="0.7" stroke-linecap="butt"/>
<line x1="305.53" y1="788" x2="305.53" y2="786.8" stroke="#000" stroke-width="0.7" stroke-linecap="butt"/>
<line x1="305.53" y1="732.7" x2="305.53" y2="733.9" stroke="#000" stroke-width="0.7" stroke-linecap="butt"/>
<line x1="314.4" y1="788" x2="314.4" y2="785.8" stroke="#000" stroke-width="0.7" stroke-linecap="butt"/>
<line x1="314.4" y1="732.7" x2="314.4" y2="734.9" stroke="#000" stroke-width="0.7" stroke-linecap="butt"/>
<line x1="48.4" y1="780.2" x2="56.9" y2="780.2" stroke="#000" stroke-width="1" stroke-linecap="butt"/>
<line x1="314.4" y1="780.2" x2="306.9" y2="780.2" stroke="#000" stroke-width="1" stroke-linecap="butt"/>
<line x1="48.4" y1="760.5" x2="56.9" y2="760.5" stroke="#000" stroke-width="1" stroke-linecap="butt"/>
<line x1="314.4" y1="760.5" x2="306.9" y2="760.5" stroke="#000" stroke-width="1" stroke-linecap="butt"/>
<line x1="48.4" y1="740.8" x2="56.9" y2="740.8" stroke="#000" stroke-width="1" stroke-linecap="butt"/>
<line x1="314.4" y1="740.8" x2="306.9" y2="740.8" stroke="#000" stroke-width="1" stroke-linecap="butt"/>
<text x="43.2" y="783.9" font-family="Liberation Sans" font-size="11" font-weight="normal" font-style="normal" text-anchor="end" fill="#111" stroke="#111" stroke-width="0.25" >0.5</text>
<text x="43.2" y="764.2" font-family="Liberation Sans" font-size="11" font-weight="normal" font-style="normal" text-anchor="end" fill="#111" stroke="#111" stroke-width="0.25" >1</text>
<text x="43.2" y="744.5" font-family="Liberation Sans" font-size="11" font-weight="normal" font-style="normal" text-anchor="end" fill="#111" stroke="#111" stroke-width="0.25" >1.5</text>
<line x1="134.3" y1="740.2" x2="148.2" y2="740.2" stroke="#5252e6" stroke-width="1.2" stroke-linecap="butt"/>
<circle cx="141.2" cy="740.2" r="2.4" fill="#0000cc"/>
<text x="151.2" y="742.8" font-family="Liberation Sans" font-size="7.3" font-weight="bold" font-style="normal" text-anchor="start" fill="#111" >MC@NLO+Herwig</text>
<rect x="222.3" y="736.6" width="14.4" height="7.4" fill="url(#hrB)" stroke="none" stroke-width="1" />
<rect x="222.3" y="736.6" width="14.4" height="7.4" fill="none" stroke="#1818e0" stroke-width="0.8" />
<text x="239.3" y="742.8" font-family="Liberation Sans" font-size="7.3" font-weight="bold" font-style="normal" text-anchor="start" fill="#111" >Corr. Syst. Err.</text>
<text x="0" y="0" font-family="Liberation Sans" font-size="12.7" font-weight="normal" font-style="normal" text-anchor="end" fill="#111" stroke="#111" stroke-width="0.25" transform="translate(11.4,731.1) rotate(-90)">Data / MC</text>
<rect x="48.4" y="817.1" width="44.33" height="13.1" fill="url(#hrR)" stroke="none" stroke-width="1" />
<rect x="92.73" y="809.8" width="88.67" height="26.5" fill="url(#hrR)" stroke="none" stroke-width="1" />
<rect x="181.4" y="815" width="133" height="16" fill="url(#hrR)" stroke="none" stroke-width="1" />
<line x1="48.4" y1="827" x2="92.73" y2="827" stroke="#d83030" stroke-width="1.3" stroke-linecap="butt"/>
<line x1="92.73" y1="824.9" x2="181.4" y2="824.9" stroke="#d83030" stroke-width="1.3" stroke-linecap="butt"/>
<line x1="181.4" y1="827.3" x2="314.4" y2="827.3" stroke="#d83030" stroke-width="1.3" stroke-linecap="butt"/>
<line x1="49.4" y1="824.2" x2="313.4" y2="824.2" stroke="#c81010" stroke-width="1.3" stroke-dasharray="3.2,2.9" stroke-linecap="butt"/>
<line x1="247.9" y1="823" x2="247.9" y2="831" stroke="#d83030" stroke-width="1.2" stroke-linecap="butt"/>
<circle cx="70.57" cy="827" r="2.5" fill="#cc0000"/>
<circle cx="137.07" cy="824.9" r="2.5" fill="#cc0000"/>
<circle cx="247.9" cy="827.3" r="2.5" fill="#cc0000"/>
<rect x="48.4" y="796" width="266" height="55.4" fill="none" stroke="#000" stroke-width="1.2" />
<line x1="48.4" y1="851.4" x2="48.4" y2="849.2" stroke="#000" stroke-width="0.7" stroke-linecap="butt"/>
<line x1="48.4" y1="796" x2="48.4" y2="798.2" stroke="#000" stroke-width="0.7" stroke-linecap="butt"/>
<line x1="57.27" y1="851.4" x2="57.27" y2="850.2" stroke="#000" stroke-width="0.7" stroke-linecap="butt"/>
<line x1="57.27" y1="796" x2="57.27" y2="797.2" stroke="#000" stroke-width="0.7" stroke-linecap="butt"/>
<line x1="66.13" y1="851.4" x2="66.13" y2="850.2" stroke="#000" stroke-width="0.7" stroke-linecap="butt"/>
<line x1="66.13" y1="796" x2="66.13" y2="797.2" stroke="#000" stroke-width="0.7" stroke-linecap="butt"/>
<line x1="75" y1="851.4" x2="75" y2="850.2" stroke="#000" stroke-width="0.7" stroke-linecap="butt"/>
<line x1="75" y1="796" x2="75" y2="797.2" stroke="#000" stroke-width="0.7" stroke-linecap="butt"/>
<line x1="83.87" y1="851.4" x2="83.87" y2="850.2" stroke="#000" stroke-width="0.7" stroke-linecap="butt"/>
<line x1="83.87" y1="796" x2="83.87" y2="797.2" stroke="#000" stroke-width="0.7" stroke-linecap="butt"/>
<line x1="92.73" y1="851.4" x2="92.73" y2="849.2" stroke="#000" stroke-width="0.7" stroke-linecap="butt"/>
<line x1="92.73" y1="796" x2="92.73" y2="798.2" stroke="#000" stroke-width="0.7" stroke-linecap="butt"/>
<line x1="101.6" y1="851.4" x2="101.6" y2="850.2" stroke="#000" stroke-width="0.7" stroke-linecap="butt"/>
<line x1="101.6" y1="796" x2="101.6" y2="797.2" stroke="#000" stroke-width="0.7" stroke-linecap="butt"/>
<line x1="110.47" y1="851.4" x2="110.47" y2="850.2" stroke="#000" stroke-width="0.7" stroke-linecap="butt"/>
<line x1="110.47" y1="796" x2="110.47" y2="797.2" stroke="#000" stroke-width="0.7" stroke-linecap="butt"/>
<line x1="119.33" y1="851.4" x2="119.33" y2="850.2" stroke="#000" stroke-width="0.7" stroke-linecap="butt"/>
<line x1="119.33" y1="796" x2="119.33" y2="797.2" stroke="#000" stroke-width="0.7" stroke-linecap="butt"/>
<line x1="128.2" y1="851.4" x2="128.2" y2="850.2" stroke="#000" stroke-width="0.7" stroke-linecap="butt"/>
<line x1="128.2" y1="796" x2="128.2" y2="797.2" stroke="#000" stroke-width="0.7" stroke-linecap="butt"/>
<line x1="137.07" y1="851.4" x2="137.07" y2="849.2" stroke="#000" stroke-width="0.7" stroke-linecap="butt"/>
<line x1="137.07" y1="796" x2="137.07" y2="798.2" stroke="#000" stroke-width="0.7" stroke-linecap="butt"/>
<line x1="145.93" y1="851.4" x2="145.93" y2="850.2" stroke="#000" stroke-width="0.7" stroke-linecap="butt"/>
<line x1="145.93" y1="796" x2="145.93" y2="797.2" stroke="#000" stroke-width="0.7" stroke-linecap="butt"/>
<line x1="154.8" y1="851.4" x2="154.8" y2="850.2" stroke="#000" stroke-width="0.7" stroke-linecap="butt"/>
<line x1="154.8" y1="796" x2="154.8" y2="797.2" stroke="#000" stroke-width="0.7" stroke-linecap="butt"/>
<line x1="163.67" y1="851.4" x2="163.67" y2="850.2" stroke="#000" stroke-width="0.7" stroke-linecap="butt"/>
<line x1="163.67" y1="796" x2="163.67" y2="797.2" stroke="#000" stroke-width="0.7" stroke-linecap="butt"/>
<line x1="172.53" y1="851.4" x2="172.53" y2="850.2" stroke="#000" stroke-width="0.7" stroke-linecap="butt"/>
<line x1="172.53" y1="796" x2="172.53" y2="797.2" stroke="#000" stroke-width="0.7" stroke-linecap="butt"/>
<line x1="181.4" y1="851.4" x2="181.4" y2="849.2" stroke="#000" stroke-width="0.7" stroke-linecap="butt"/>
<line x1="181.4" y1="796" x2="181.4" y2="798.2" stroke="#000" stroke-width="0.7" stroke-linecap="butt"/>
<line x1="190.27" y1="851.4" x2="190.27" y2="850.2" stroke="#000" stroke-width="0.7" stroke-linecap="butt"/>
<line x1="190.27" y1="796" x2="190.27" y2="797.2" stroke="#000" stroke-width="0.7" stroke-linecap="butt"/>
<line x1="199.13" y1="851.4" x2="199.13" y2="850.2" stroke="#000" stroke-width="0.7" stroke-linecap="butt"/>
<line x1="199.13" y1="796" x2="199.13" y2="797.2" stroke="#000" stroke-width="0.7" stroke-linecap="butt"/>
<line x1="208" y1="851.4" x2="208" y2="850.2" stroke="#000" stroke-width="0.7" stroke-linecap="butt"/>
<line x1="208" y1="796" x2="208" y2="797.2" stroke="#000" stroke-width="0.7" stroke-linecap="butt"/>
<line x1="216.87" y1="851.4" x2="216.87" y2="850.2" stroke="#000" stroke-width="0.7" stroke-linecap="butt"/>
<line x1="216.87" y1="796" x2="216.87" y2="797.2" stroke="#000" stroke-width="0.7" stroke-linecap="butt"/>
<line x1="225.73" y1="851.4" x2="225.73" y2="849.2" stroke="#000" stroke-width="0.7" stroke-linecap="butt"/>
<line x1="225.73" y1="796" x2="225.73" y2="798.2" stroke="#000" stroke-width="0.7" stroke-linecap="butt"/>
<line x1="234.6" y1="851.4" x2="234.6" y2="850.2" stroke="#000" stroke-width="0.7" stroke-linecap="butt"/>
<line x1="234.6" y1="796" x2="234.6" y2="797.2" stroke="#000" stroke-width="0.7" stroke-linecap="butt"/>
<line x1="243.47" y1="851.4" x2="243.47" y2="850.2" stroke="#000" stroke-width="0.7" stroke-linecap="butt"/>
<line x1="243.47" y1="796" x2="243.47" y2="797.2" stroke="#000" stroke-width="0.7" stroke-linecap="butt"/>
<line x1="252.33" y1="851.4" x2="252.33" y2="850.2" stroke="#000" stroke-width="0.7" stroke-linecap="butt"/>
<line x1="252.33" y1="796" x2="252.33" y2="797.2" stroke="#000" stroke-width="0.7" stroke-linecap="butt"/>
<line x1="261.2" y1="851.4" x2="261.2" y2="850.2" stroke="#000" stroke-width="0.7" stroke-linecap="butt"/>
<line x1="261.2" y1="796" x2="261.2" y2="797.2" stroke="#000" stroke-width="0.7" stroke-linecap="butt"/>
<line x1="270.07" y1="851.4" x2="270.07" y2="849.2" stroke="#000" stroke-width="0.7" stroke-linecap="butt"/>
<line x1="270.07" y1="796" x2="270.07" y2="798.2" stroke="#000" stroke-width="0.7" stroke-linecap="butt"/>
<line x1="278.93" y1="851.4" x2="278.93" y2="850.2" stroke="#000" stroke-width="0.7" stroke-linecap="butt"/>
<line x1="278.93" y1="796" x2="278.93" y2="797.2" stroke="#000" stroke-width="0.7" stroke-linecap="butt"/>
<line x1="287.8" y1="851.4" x2="287.8" y2="850.2" stroke="#000" stroke-width="0.7" stroke-linecap="butt"/>
<line x1="287.8" y1="796" x2="287.8" y2="797.2" stroke="#000" stroke-width="0.7" stroke-linecap="butt"/>
<line x1="296.67" y1="851.4" x2="296.67" y2="850.2" stroke="#000" stroke-width="0.7" stroke-linecap="butt"/>
<line x1="296.67" y1="796" x2="296.67" y2="797.2" stroke="#000" stroke-width="0.7" stroke-linecap="butt"/>
<line x1="305.53" y1="851.4" x2="305.53" y2="850.2" stroke="#000" stroke-width="0.7" stroke-linecap="butt"/>
<line x1="305.53" y1="796" x2="305.53" y2="797.2" stroke="#000" stroke-width="0.7" stroke-linecap="butt"/>
<line x1="314.4" y1="851.4" x2="314.4" y2="849.2" stroke="#000" stroke-width="0.7" stroke-linecap="butt"/>
<line x1="314.4" y1="796" x2="314.4" y2="798.2" stroke="#000" stroke-width="0.7" stroke-linecap="butt"/>
<line x1="48.4" y1="843.9" x2="56.9" y2="843.9" stroke="#000" stroke-width="1" stroke-linecap="butt"/>
<line x1="314.4" y1="843.9" x2="306.9" y2="843.9" stroke="#000" stroke-width="1" stroke-linecap="butt"/>
<line x1="48.4" y1="824.2" x2="56.9" y2="824.2" stroke="#000" stroke-width="1" stroke-linecap="butt"/>
<line x1="314.4" y1="824.2" x2="306.9" y2="824.2" stroke="#000" stroke-width="1" stroke-linecap="butt"/>
<line x1="48.4" y1="804.5" x2="56.9" y2="804.5" stroke="#000" stroke-width="1" stroke-linecap="butt"/>
<line x1="314.4" y1="804.5" x2="306.9" y2="804.5" stroke="#000" stroke-width="1" stroke-linecap="butt"/>
<text x="43.2" y="847.6" font-family="Liberation Sans" font-size="11" font-weight="normal" font-style="normal" text-anchor="end" fill="#111" stroke="#111" stroke-width="0.25" >0.5</text>
<text x="43.2" y="827.9" font-family="Liberation Sans" font-size="11" font-weight="normal" font-style="normal" text-anchor="end" fill="#111" stroke="#111" stroke-width="0.25" >1</text>
<text x="43.2" y="808.2" font-family="Liberation Sans" font-size="11" font-weight="normal" font-style="normal" text-anchor="end" fill="#111" stroke="#111" stroke-width="0.25" >1.5</text>
<line x1="134.3" y1="803.6" x2="148.2" y2="803.6" stroke="#d83030" stroke-width="1.2" stroke-linecap="butt"/>
<circle cx="141.2" cy="803.6" r="2.4" fill="#cc0000"/>
<text x="151.2" y="806.2" font-family="Liberation Sans" font-size="7.3" font-weight="bold" font-style="normal" text-anchor="start" fill="#111" >Powheg+Pythia</text>
<rect x="222.3" y="800" width="14.4" height="7.4" fill="url(#hrR)" stroke="none" stroke-width="1" />
<rect x="222.3" y="800" width="14.4" height="7.4" fill="none" stroke="#d01818" stroke-width="0.8" />
<text x="239.3" y="806.2" font-family="Liberation Sans" font-size="7.3" font-weight="bold" font-style="normal" text-anchor="start" fill="#111" >Corr. Syst. Err.</text>
<text x="0" y="0" font-family="Liberation Sans" font-size="12.7" font-weight="normal" font-style="normal" text-anchor="end" fill="#111" stroke="#111" stroke-width="0.25" transform="translate(11.4,794.4) rotate(-90)">Data / MC</text>
<text x="48.4" y="865.6" font-family="Liberation Sans" font-size="11" font-weight="normal" font-style="normal" text-anchor="middle" fill="#111" stroke="#111" stroke-width="0.25" >200</text>
<text x="92.73" y="865.6" font-family="Liberation Sans" font-size="11" font-weight="normal" font-style="normal" text-anchor="middle" fill="#111" stroke="#111" stroke-width="0.25" >250</text>
<text x="137.07" y="865.6" font-family="Liberation Sans" font-size="11" font-weight="normal" font-style="normal" text-anchor="middle" fill="#111" stroke="#111" stroke-width="0.25" >300</text>
<text x="181.4" y="865.6" font-family="Liberation Sans" font-size="11" font-weight="normal" font-style="normal" text-anchor="middle" fill="#111" stroke="#111" stroke-width="0.25" >350</text>
<text x="225.73" y="865.6" font-family="Liberation Sans" font-size="11" font-weight="normal" font-style="normal" text-anchor="middle" fill="#111" stroke="#111" stroke-width="0.25" >400</text>
<text x="270.07" y="865.6" font-family="Liberation Sans" font-size="11" font-weight="normal" font-style="normal" text-anchor="middle" fill="#111" stroke="#111" stroke-width="0.25" >450</text>
<text x="314.4" y="865.6" font-family="Liberation Sans" font-size="11" font-weight="normal" font-style="normal" text-anchor="middle" fill="#111" stroke="#111" stroke-width="0.25" >500</text>
<text x="327.4" y="892.2" font-family="Liberation Sans" font-size="13" font-weight="normal" font-style="normal" text-anchor="end" fill="#111" stroke="#111" stroke-width="0.25" >Jet p<tspan font-size="9" dy="4">T</tspan><tspan dy="-4"> [GeV]</tspan></text>
<text x="161.5" y="903" font-family="Liberation Serif" font-size="16" font-weight="bold" font-style="normal" text-anchor="middle" fill="#000" >(c)</text>
<rect x="403.2" y="673.3" width="16.64" height="23.8" fill="url(#hlB)" stroke="none" stroke-width="1" />
<rect x="419.84" y="634.3" width="33.29" height="57.5" fill="url(#hlB)" stroke="none" stroke-width="1" />
<rect x="453.13" y="704.3" width="49.93" height="9.9" fill="url(#hlB)" stroke="none" stroke-width="1" />
<rect x="503.06" y="711" width="166.44" height="9" fill="url(#hlB)" stroke="none" stroke-width="1" />
<rect x="403.2" y="666" width="16.64" height="27.8" fill="url(#hrR)" stroke="none" stroke-width="1" />
<rect x="419.84" y="594.3" width="33.29" height="69.7" fill="url(#hrR)" stroke="none" stroke-width="1" />
<rect x="453.13" y="693.4" width="49.93" height="10.9" fill="url(#hrR)" stroke="none" stroke-width="1" />
<rect x="503.06" y="705.4" width="166.44" height="8.1" fill="url(#hrR)" stroke="none" stroke-width="1" />
<line x1="403.2" y1="679.5" x2="419.84" y2="679.5" stroke="#d83030" stroke-width="1.2" stroke-linecap="butt"/>
<line x1="419.84" y1="629.4" x2="453.13" y2="629.4" stroke="#d83030" stroke-width="1.2" stroke-linecap="butt"/>
<line x1="453.13" y1="699.6" x2="503.06" y2="699.6" stroke="#d83030" stroke-width="1.2" stroke-linecap="butt"/>
<line x1="503.06" y1="710.1" x2="669.5" y2="710.1" stroke="#d83030" stroke-width="1.2" stroke-linecap="butt"/>
<line x1="403.2" y1="685.9" x2="419.84" y2="685.9" stroke="#101010" stroke-width="1.2" stroke-linecap="butt"/>
<line x1="419.84" y1="655.7" x2="453.13" y2="655.7" stroke="#101010" stroke-width="1.2" stroke-linecap="butt"/>
<line x1="453.13" y1="706.6" x2="503.06" y2="706.6" stroke="#101010" stroke-width="1.2" stroke-linecap="butt"/>
<line x1="503.06" y1="714.2" x2="669.5" y2="714.2" stroke="#101010" stroke-width="1.2" stroke-linecap="butt"/>
<line x1="403.2" y1="684.5" x2="419.84" y2="684.5" stroke="#5252e6" stroke-width="1.3" stroke-linecap="butt"/>
<line x1="419.84" y1="663.1" x2="453.13" y2="663.1" stroke="#5252e6" stroke-width="1.3" stroke-linecap="butt"/>
<line x1="453.13" y1="708.7" x2="503.06" y2="708.7" stroke="#5252e6" stroke-width="1.3" stroke-linecap="butt"/>
<line x1="503.06" y1="716" x2="669.5" y2="716" stroke="#5252e6" stroke-width="1.3" stroke-linecap="butt"/>
<line x1="436.49" y1="624.5" x2="436.49" y2="634.5" stroke="#d83030" stroke-width="1.1" stroke-linecap="butt"/>
<line x1="411.52" y1="676.5" x2="411.52" y2="682.5" stroke="#d83030" stroke-width="1.1" stroke-linecap="butt"/>
<circle cx="411.52" cy="679.5" r="2.45" fill="none" stroke="#cc0000" stroke-width="1"/>
<circle cx="436.49" cy="629.4" r="2.45" fill="none" stroke="#cc0000" stroke-width="1"/>
<circle cx="478.1" cy="699.6" r="2.45" fill="none" stroke="#cc0000" stroke-width="1"/>
<circle cx="586.28" cy="710.1" r="2.45" fill="none" stroke="#cc0000" stroke-width="1"/>
<circle cx="411.52" cy="685.9" r="2.4" fill="#000"/>
<circle cx="436.49" cy="655.7" r="2.4" fill="#000"/>
<circle cx="478.1" cy="706.6" r="2.4" fill="#000"/>
<circle cx="586.28" cy="714.2" r="2.4" fill="#000"/>
<path d="M411.52,681.5 L413.92,686.8 L409.12,686.8 Z" fill="none" stroke="#0000cc" stroke-width="1.05" stroke-linejoin="round"/>
<path d="M436.49,660.1 L438.89,665.4 L434.09,665.4 Z" fill="none" stroke="#0000cc" stroke-width="1.05" stroke-linejoin="round"/>
<path d="M478.1,705.7 L480.5,711 L475.7,711 Z" fill="none" stroke="#0000cc" stroke-width="1.05" stroke-linejoin="round"/>
<path d="M586.28,713 L588.68,718.3 L583.88,718.3 Z" fill="none" stroke="#0000cc" stroke-width="1.05" stroke-linejoin="round"/>
<rect x="403.2" y="469" width="266.3" height="258.6" fill="none" stroke="#000" stroke-width="1.2" />
<line x1="403.2" y1="727.6" x2="403.2" y2="722" stroke="#000" stroke-width="0.9" stroke-linecap="butt"/>
<line x1="403.2" y1="469" x2="403.2" y2="474.6" stroke="#000" stroke-width="0.9" stroke-linecap="butt"/>
<line x1="419.84" y1="727.6" x2="419.84" y2="724.8" stroke="#000" stroke-width="0.9" stroke-linecap="butt"/>
<line x1="419.84" y1="469" x2="419.84" y2="471.8" stroke="#000" stroke-width="0.9" stroke-linecap="butt"/>
<line x1="436.49" y1="727.6" x2="436.49" y2="724.8" stroke="#000" stroke-width="0.9" stroke-linecap="butt"/>
<line x1="436.49" y1="469" x2="436.49" y2="471.8" stroke="#000" stroke-width="0.9" stroke-linecap="butt"/>
<line x1="453.13" y1="727.6" x2="453.13" y2="724.8" stroke="#000" stroke-width="0.9" stroke-linecap="butt"/>
<line x1="453.13" y1="469" x2="453.13" y2="471.8" stroke="#000" stroke-width="0.9" stroke-linecap="butt"/>
<line x1="469.77" y1="727.6" x2="469.77" y2="722" stroke="#000" stroke-width="0.9" stroke-linecap="butt"/>
<line x1="469.77" y1="469" x2="469.77" y2="474.6" stroke="#000" stroke-width="0.9" stroke-linecap="butt"/>
<line x1="486.42" y1="727.6" x2="486.42" y2="724.8" stroke="#000" stroke-width="0.9" stroke-linecap="butt"/>
<line x1="486.42" y1="469" x2="486.42" y2="471.8" stroke="#000" stroke-width="0.9" stroke-linecap="butt"/>
<line x1="503.06" y1="727.6" x2="503.06" y2="724.8" stroke="#000" stroke-width="0.9" stroke-linecap="butt"/>
<line x1="503.06" y1="469" x2="503.06" y2="471.8" stroke="#000" stroke-width="0.9" stroke-linecap="butt"/>
<line x1="519.71" y1="727.6" x2="519.71" y2="724.8" stroke="#000" stroke-width="0.9" stroke-linecap="butt"/>
<line x1="519.71" y1="469" x2="519.71" y2="471.8" stroke="#000" stroke-width="0.9" stroke-linecap="butt"/>
<line x1="536.35" y1="727.6" x2="536.35" y2="722" stroke="#000" stroke-width="0.9" stroke-linecap="butt"/>
<line x1="536.35" y1="469" x2="536.35" y2="474.6" stroke="#000" stroke-width="0.9" stroke-linecap="butt"/>
<line x1="552.99" y1="727.6" x2="552.99" y2="724.8" stroke="#000" stroke-width="0.9" stroke-linecap="butt"/>
<line x1="552.99" y1="469" x2="552.99" y2="471.8" stroke="#000" stroke-width="0.9" stroke-linecap="butt"/>
<line x1="569.64" y1="727.6" x2="569.64" y2="724.8" stroke="#000" stroke-width="0.9" stroke-linecap="butt"/>
<line x1="569.64" y1="469" x2="569.64" y2="471.8" stroke="#000" stroke-width="0.9" stroke-linecap="butt"/>
<line x1="586.28" y1="727.6" x2="586.28" y2="724.8" stroke="#000" stroke-width="0.9" stroke-linecap="butt"/>
<line x1="586.28" y1="469" x2="586.28" y2="471.8" stroke="#000" stroke-width="0.9" stroke-linecap="butt"/>
<line x1="602.92" y1="727.6" x2="602.92" y2="722" stroke="#000" stroke-width="0.9" stroke-linecap="butt"/>
<line x1="602.92" y1="469" x2="602.92" y2="474.6" stroke="#000" stroke-width="0.9" stroke-linecap="butt"/>
<line x1="619.57" y1="727.6" x2="619.57" y2="724.8" stroke="#000" stroke-width="0.9" stroke-linecap="butt"/>
<line x1="619.57" y1="469" x2="619.57" y2="471.8" stroke="#000" stroke-width="0.9" stroke-linecap="butt"/>
<line x1="636.21" y1="727.6" x2="636.21" y2="724.8" stroke="#000" stroke-width="0.9" stroke-linecap="butt"/>
<line x1="636.21" y1="469" x2="636.21" y2="471.8" stroke="#000" stroke-width="0.9" stroke-linecap="butt"/>
<line x1="652.86" y1="727.6" x2="652.86" y2="724.8" stroke="#000" stroke-width="0.9" stroke-linecap="butt"/>
<line x1="652.86" y1="469" x2="652.86" y2="471.8" stroke="#000" stroke-width="0.9" stroke-linecap="butt"/>
<line x1="669.5" y1="727.6" x2="669.5" y2="722" stroke="#000" stroke-width="0.9" stroke-linecap="butt"/>
<line x1="669.5" y1="469" x2="669.5" y2="474.6" stroke="#000" stroke-width="0.9" stroke-linecap="butt"/>
<line x1="403.2" y1="693.1" x2="412.7" y2="693.1" stroke="#000" stroke-width="1" stroke-linecap="butt"/>
<line x1="669.5" y1="693.1" x2="660" y2="693.1" stroke="#000" stroke-width="1" stroke-linecap="butt"/>
<line x1="403.2" y1="658.7" x2="412.7" y2="658.7" stroke="#000" stroke-width="1" stroke-linecap="butt"/>
<line x1="669.5" y1="658.7" x2="660" y2="658.7" stroke="#000" stroke-width="1" stroke-linecap="butt"/>
<line x1="403.2" y1="624.3" x2="412.7" y2="624.3" stroke="#000" stroke-width="1" stroke-linecap="butt"/>
<line x1="669.5" y1="624.3" x2="660" y2="624.3" stroke="#000" stroke-width="1" stroke-linecap="butt"/>
<line x1="403.2" y1="589.9" x2="412.7" y2="589.9" stroke="#000" stroke-width="1" stroke-linecap="butt"/>
<line x1="669.5" y1="589.9" x2="660" y2="589.9" stroke="#000" stroke-width="1" stroke-linecap="butt"/>
<line x1="403.2" y1="555.5" x2="412.7" y2="555.5" stroke="#000" stroke-width="1" stroke-linecap="butt"/>
<line x1="669.5" y1="555.5" x2="660" y2="555.5" stroke="#000" stroke-width="1" stroke-linecap="butt"/>
<line x1="403.2" y1="521.1" x2="412.7" y2="521.1" stroke="#000" stroke-width="1" stroke-linecap="butt"/>
<line x1="669.5" y1="521.1" x2="660" y2="521.1" stroke="#000" stroke-width="1" stroke-linecap="butt"/>
<line x1="403.2" y1="486.7" x2="412.7" y2="486.7" stroke="#000" stroke-width="1" stroke-linecap="butt"/>
<line x1="669.5" y1="486.7" x2="660" y2="486.7" stroke="#000" stroke-width="1" stroke-linecap="butt"/>
<line x1="403.2" y1="720.62" x2="408" y2="720.62" stroke="#000" stroke-width="1" stroke-linecap="butt"/>
<line x1="669.5" y1="720.62" x2="664.7" y2="720.62" stroke="#000" stroke-width="1" stroke-linecap="butt"/>
<line x1="403.2" y1="713.74" x2="408" y2="713.74" stroke="#000" stroke-width="1" stroke-linecap="butt"/>
<line x1="669.5" y1="713.74" x2="664.7" y2="713.74" stroke="#000" stroke-width="1" stroke-linecap="butt"/>
<line x1="403.2" y1="706.86" x2="408" y2="706.86" stroke="#000" stroke-width="1" stroke-linecap="butt"/>
<line x1="669.5" y1="706.86" x2="664.7" y2="706.86" stroke="#000" stroke-width="1" stroke-linecap="butt"/>
<line x1="403.2" y1="699.98" x2="408" y2="699.98" stroke="#000" stroke-width="1" stroke-linecap="butt"/>
<line x1="669.5" y1="699.98" x2="664.7" y2="699.98" stroke="#000" stroke-width="1" stroke-linecap="butt"/>
<line x1="403.2" y1="693.1" x2="408" y2="693.1" stroke="#000" stroke-width="1" stroke-linecap="butt"/>
<line x1="669.5" y1="693.1" x2="664.7" y2="693.1" stroke="#000" stroke-width="1" stroke-linecap="butt"/>
<line x1="403.2" y1="686.22" x2="408" y2="686.22" stroke="#000" stroke-width="1" stroke-linecap="butt"/>
<line x1="669.5" y1="686.22" x2="664.7" y2="686.22" stroke="#000" stroke-width="1" stroke-linecap="butt"/>
<line x1="403.2" y1="679.34" x2="408" y2="679.34" stroke="#000" stroke-width="1" stroke-linecap="butt"/>
<line x1="669.5" y1="679.34" x2="664.7" y2="679.34" stroke="#000" stroke-width="1" stroke-linecap="butt"/>
<line x1="403.2" y1="672.46" x2="408" y2="672.46" stroke="#000" stroke-width="1" stroke-linecap="butt"/>
<line x1="669.5" y1="672.46" x2="664.7" y2="672.46" stroke="#000" stroke-width="1" stroke-linecap="butt"/>
<line x1="403.2" y1="665.58" x2="408" y2="665.58" stroke="#000" stroke-width="1" stroke-linecap="butt"/>
<line x1="669.5" y1="665.58" x2="664.7" y2="665.58" stroke="#000" stroke-width="1" stroke-linecap="butt"/>
<line x1="403.2" y1="658.7" x2="408" y2="658.7" stroke="#000" stroke-width="1" stroke-linecap="butt"/>
<line x1="669.5" y1="658.7" x2="664.7" y2="658.7" stroke="#000" stroke-width="1" stroke-linecap="butt"/>
<line x1="403.2" y1="651.82" x2="408" y2="651.82" stroke="#000" stroke-width="1" stroke-linecap="butt"/>
<line x1="669.5" y1="651.82" x2="664.7" y2="651.82" stroke="#000" stroke-width="1" stroke-linecap="butt"/>
<line x1="403.2" y1="644.94" x2="408" y2="644.94" stroke="#000" stroke-width="1" stroke-linecap="butt"/>
<line x1="669.5" y1="644.94" x2="664.7" y2="644.94" stroke="#000" stroke-width="1" stroke-linecap="butt"/>
<line x1="403.2" y1="638.06" x2="408" y2="638.06" stroke="#000" stroke-width="1" stroke-linecap="butt"/>
<line x1="669.5" y1="638.06" x2="664.7" y2="638.06" stroke="#000" stroke-width="1" stroke-linecap="butt"/>
<line x1="403.2" y1="631.18" x2="408" y2="631.18" stroke="#000" stroke-width="1" stroke-linecap="butt"/>
<line x1="669.5" y1="631.18" x2="664.7" y2="631.18" stroke="#000" stroke-width="1" stroke-linecap="butt"/>
<line x1="403.2" y1="624.3" x2="408" y2="624.3" stroke="#000" stroke-width="1" stroke-linecap="butt"/>
<line x1="669.5" y1="624.3" x2="664.7" y2="624.3" stroke="#000" stroke-width="1" stroke-linecap="butt"/>
<line x1="403.2" y1="617.42" x2="408" y2="617.42" stroke="#000" stroke-width="1" stroke-linecap="butt"/>
<line x1="669.5" y1="617.42" x2="664.7" y2="617.42" stroke="#000" stroke-width="1" stroke-linecap="butt"/>
<line x1="403.2" y1="610.54" x2="408" y2="610.54" stroke="#000" stroke-width="1" stroke-linecap="butt"/>
<line x1="669.5" y1="610.54" x2="664.7" y2="610.54" stroke="#000" stroke-width="1" stroke-linecap="butt"/>
<line x1="403.2" y1="603.66" x2="408" y2="603.66" stroke="#000" stroke-width="1" stroke-linecap="butt"/>
<line x1="669.5" y1="603.66" x2="664.7" y2="603.66" stroke="#000" stroke-width="1" stroke-linecap="butt"/>
<line x1="403.2" y1="596.78" x2="408" y2="596.78" stroke="#000" stroke-width="1" stroke-linecap="butt"/>
<line x1="669.5" y1="596.78" x2="664.7" y2="596.78" stroke="#000" stroke-width="1" stroke-linecap="butt"/>
<line x1="403.2" y1="589.9" x2="408" y2="589.9" stroke="#000" stroke-width="1" stroke-linecap="butt"/>
<line x1="669.5" y1="589.9" x2="664.7" y2="589.9" stroke="#000" stroke-width="1" stroke-linecap="butt"/>
<line x1="403.2" y1="583.02" x2="408" y2="583.02" stroke="#000" stroke-width="1" stroke-linecap="butt"/>
<line x1="669.5" y1="583.02" x2="664.7" y2="583.02" stroke="#000" stroke-width="1" stroke-linecap="butt"/>
<line x1="403.2" y1="576.14" x2="408" y2="576.14" stroke="#000" stroke-width="1" stroke-linecap="butt"/>
<line x1="669.5" y1="576.14" x2="664.7" y2="576.14" stroke="#000" stroke-width="1" stroke-linecap="butt"/>
<line x1="403.2" y1="569.26" x2="408" y2="569.26" stroke="#000" stroke-width="1" stroke-linecap="butt"/>
<line x1="669.5" y1="569.26" x2="664.7" y2="569.26" stroke="#000" stroke-width="1" stroke-linecap="butt"/>
<line x1="403.2" y1="562.38" x2="408" y2="562.38" stroke="#000" stroke-width="1" stroke-linecap="butt"/>
<line x1="669.5" y1="562.38" x2="664.7" y2="562.38" stroke="#000" stroke-width="1" stroke-linecap="butt"/>
<line x1="403.2" y1="555.5" x2="408" y2="555.5" stroke="#000" stroke-width="1" stroke-linecap="butt"/>
<line x1="669.5" y1="555.5" x2="664.7" y2="555.5" stroke="#000" stroke-width="1" stroke-linecap="butt"/>
<line x1="403.2" y1="548.62" x2="408" y2="548.62" stroke="#000" stroke-width="1" stroke-linecap="butt"/>
<line x1="669.5" y1="548.62" x2="664.7" y2="548.62" stroke="#000" stroke-width="1" stroke-linecap="butt"/>
<line x1="403.2" y1="541.74" x2="408" y2="541.74" stroke="#000" stroke-width="1" stroke-linecap="butt"/>
<line x1="669.5" y1="541.74" x2="664.7" y2="541.74" stroke="#000" stroke-width="1" stroke-linecap="butt"/>
<line x1="403.2" y1="534.86" x2="408" y2="534.86" stroke="#000" stroke-width="1" stroke-linecap="butt"/>
<line x1="669.5" y1="534.86" x2="664.7" y2="534.86" stroke="#000" stroke-width="1" stroke-linecap="butt"/>
<line x1="403.2" y1="527.98" x2="408" y2="527.98" stroke="#000" stroke-width="1" stroke-linecap="butt"/>
<line x1="669.5" y1="527.98" x2="664.7" y2="527.98" stroke="#000" stroke-width="1" stroke-linecap="butt"/>
<line x1="403.2" y1="521.1" x2="408" y2="521.1" stroke="#000" stroke-width="1" stroke-linecap="butt"/>
<line x1="669.5" y1="521.1" x2="664.7" y2="521.1" stroke="#000" stroke-width="1" stroke-linecap="butt"/>
<line x1="403.2" y1="514.22" x2="408" y2="514.22" stroke="#000" stroke-width="1" stroke-linecap="butt"/>
<line x1="669.5" y1="514.22" x2="664.7" y2="514.22" stroke="#000" stroke-width="1" stroke-linecap="butt"/>
<line x1="403.2" y1="507.34" x2="408" y2="507.34" stroke="#000" stroke-width="1" stroke-linecap="butt"/>
<line x1="669.5" y1="507.34" x2="664.7" y2="507.34" stroke="#000" stroke-width="1" stroke-linecap="butt"/>
<line x1="403.2" y1="500.46" x2="408" y2="500.46" stroke="#000" stroke-width="1" stroke-linecap="butt"/>
<line x1="669.5" y1="500.46" x2="664.7" y2="500.46" stroke="#000" stroke-width="1" stroke-linecap="butt"/>
<line x1="403.2" y1="493.58" x2="408" y2="493.58" stroke="#000" stroke-width="1" stroke-linecap="butt"/>
<line x1="669.5" y1="493.58" x2="664.7" y2="493.58" stroke="#000" stroke-width="1" stroke-linecap="butt"/>
<line x1="403.2" y1="486.7" x2="408" y2="486.7" stroke="#000" stroke-width="1" stroke-linecap="butt"/>
<line x1="669.5" y1="486.7" x2="664.7" y2="486.7" stroke="#000" stroke-width="1" stroke-linecap="butt"/>
<line x1="403.2" y1="479.82" x2="408" y2="479.82" stroke="#000" stroke-width="1" stroke-linecap="butt"/>
<line x1="669.5" y1="479.82" x2="664.7" y2="479.82" stroke="#000" stroke-width="1" stroke-linecap="butt"/>
<line x1="403.2" y1="472.94" x2="408" y2="472.94" stroke="#000" stroke-width="1" stroke-linecap="butt"/>
<line x1="669.5" y1="472.94" x2="664.7" y2="472.94" stroke="#000" stroke-width="1" stroke-linecap="butt"/>
<text x="398" y="696.5" font-family="Liberation Sans" font-size="11" font-weight="normal" font-style="normal" text-anchor="end" fill="#111" stroke="#111" stroke-width="0.25" >0.01</text>
<text x="398" y="662.1" font-family="Liberation Sans" font-size="11" font-weight="normal" font-style="normal" text-anchor="end" fill="#111" stroke="#111" stroke-width="0.25" >0.02</text>
<text x="398" y="627.7" font-family="Liberation Sans" font-size="11" font-weight="normal" font-style="normal" text-anchor="end" fill="#111" stroke="#111" stroke-width="0.25" >0.03</text>
<text x="398" y="593.3" font-family="Liberation Sans" font-size="11" font-weight="normal" font-style="normal" text-anchor="end" fill="#111" stroke="#111" stroke-width="0.25" >0.04</text>
<text x="398" y="558.9" font-family="Liberation Sans" font-size="11" font-weight="normal" font-style="normal" text-anchor="end" fill="#111" stroke="#111" stroke-width="0.25" >0.05</text>
<text x="398" y="524.5" font-family="Liberation Sans" font-size="11" font-weight="normal" font-style="normal" text-anchor="end" fill="#111" stroke="#111" stroke-width="0.25" >0.06</text>
<text x="398" y="490.1" font-family="Liberation Sans" font-size="11" font-weight="normal" font-style="normal" text-anchor="end" fill="#111" stroke="#111" stroke-width="0.25" >0.07</text>
<text x="0" y="0" font-family="Liberation Sans" font-size="12.7" font-weight="normal" font-style="normal" text-anchor="end" fill="#111" stroke="#111" stroke-width="0.25" transform="translate(366.3,490.3) rotate(-90)">Background efficiency</text>
<text x="416.8" y="494.5" font-family="Liberation Sans" font-size="13.2" font-weight="bold" font-style="italic" text-anchor="start" fill="#000" >ATLAS</text>
<path d="M418.1,507.4 L419.1,506.4 L420.2,513.3" fill="none" stroke="#111" stroke-width="1.25" stroke-linejoin="miter"/>
<path d="M420.2,513.3 L422.3,502.6 L429.1,502.6" fill="none" stroke="#111" stroke-width="0.85"/>
<text x="422.8" y="513" font-family="Liberation Sans" font-size="13.5" font-weight="normal" font-style="normal" text-anchor="start" fill="#111" stroke="#111" stroke-width="0.25" >s = 8 TeV, 20.3 fb<tspan font-size="8.6" dy="-5.0">-1</tspan></text>
<text x="416.8" y="533.4" font-family="Liberation Sans" font-size="13" font-weight="normal" font-style="normal" text-anchor="start" fill="#111" stroke="#111" stroke-width="0.25" >anti-k<tspan font-size="8" dy="3.6">t</tspan><tspan dy="-3.6"> R=1.0 jets</tspan></text>
<text x="416.8" y="553.8" font-family="Liberation Sans" font-size="13" font-weight="normal" font-style="normal" text-anchor="start" fill="#111" stroke="#111" stroke-width="0.25" >Trimmed (R<tspan font-size="8.6" dy="6.8">sub</tspan><tspan dy="-6.8"> = 0.2, f</tspan><tspan font-size="8.6" dy="6.8">cut</tspan><tspan dy="-6.8"> = 5%)</tspan></text>
<text x="416.8" y="572.8" font-family="Liberation Sans" font-size="13" font-weight="normal" font-style="normal" text-anchor="start" fill="#111" stroke="#111" stroke-width="0.25" >C<tspan font-size="9.2" dy="6">2</tspan><tspan font-size="9" dx="-5.5" dy="-13">(&#946;=1)</tspan><tspan dy="7" dx="-1.1"> Tight</tspan></text>
<line x1="545.2" y1="487.3" x2="563.2" y2="487.3" stroke="#101010" stroke-width="1.2" stroke-linecap="butt"/>
<circle cx="554.4" cy="487.3" r="2.4" fill="#000"/>
<text x="567.1" y="490.9" font-family="Liberation Sans" font-size="7.35" font-weight="bold" font-style="normal" text-anchor="start" fill="#111" >Data Stat. Err.</text>
<rect x="545" y="498.9" width="18.5" height="13.5" fill="url(#hlB)" stroke="none" stroke-width="1" />
<line x1="545" y1="505.7" x2="563.5" y2="505.7" stroke="#5252e6" stroke-width="1.2" stroke-linecap="butt"/>
<path d="M554.3,502.7 L556.7,508 L551.9,508 Z" fill="none" stroke="#0000cc" stroke-width="1.05" stroke-linejoin="round"/>
<text x="567.1" y="509.6" font-family="Liberation Sans" font-size="7.35" font-weight="bold" font-style="normal" text-anchor="start" fill="#111" >Pythia8 Stat.</text>
<circle cx="616.41" cy="506.95" r="2.2" fill="none" stroke="#222" stroke-width="0.6"/>
<line x1="614.21" y1="506.95" x2="618.61" y2="506.95" stroke="#222" stroke-width="0.6" stroke-linecap="butt"/>
<line x1="616.41" y1="504.75" x2="616.41" y2="509.15" stroke="#222" stroke-width="0.6" stroke-linecap="butt"/>
<text x="621.01" y="509.6" font-family="Liberation Sans" font-size="7.35" font-weight="bold" font-style="normal" text-anchor="start" fill="#111" >Syst. Err.</text>
<rect x="545" y="517.3" width="18.5" height="13.5" fill="url(#hrR)" stroke="none" stroke-width="1" />
<line x1="545" y1="524.1" x2="563.5" y2="524.1" stroke="#d83030" stroke-width="1.2" stroke-linecap="butt"/>
<circle cx="554.3" cy="524.1" r="2.3" fill="none" stroke="#cc0000" stroke-width="1"/>
<text x="567.1" y="528" font-family="Liberation Sans" font-size="7.35" font-weight="bold" font-style="normal" text-anchor="start" fill="#111" >Herwig++ Stat.</text>
<circle cx="623.36" cy="525.35" r="2.2" fill="none" stroke="#222" stroke-width="0.6"/>
<line x1="621.16" y1="525.35" x2="625.56" y2="525.35" stroke="#222" stroke-width="0.6" stroke-linecap="butt"/>
<line x1="623.36" y1="523.15" x2="623.36" y2="527.55" stroke="#222" stroke-width="0.6" stroke-linecap="butt"/>
<text x="627.96" y="528" font-family="Liberation Sans" font-size="7.35" font-weight="bold" font-style="normal" text-anchor="start" fill="#111" >Syst. Err.</text>
<rect x="403.2" y="749.9" width="16.64" height="21" fill="url(#hlB4)" stroke="none" stroke-width="1" />
<rect x="419.84" y="740.6" width="33.29" height="40" fill="url(#hlB4)" stroke="none" stroke-width="1" />
<rect x="453.13" y="749" width="49.93" height="22.8" fill="url(#hlB4)" stroke="none" stroke-width="1" />
<rect x="503.06" y="747.2" width="166.44" height="26" fill="url(#hlB4)" stroke="none" stroke-width="1" />
<line x1="404.2" y1="760.4" x2="668.5" y2="760.4" stroke="#1010c8" stroke-width="1.2" stroke-dasharray="2.8,2.8" stroke-linecap="butt"/>
<line x1="403.2" y1="761.8" x2="419.84" y2="761.8" stroke="#1818d0" stroke-width="1.1" stroke-linecap="butt"/>
<line x1="419.84" y1="756" x2="453.13" y2="756" stroke="#1818d0" stroke-width="1.1" stroke-linecap="butt"/>
<line x1="453.13" y1="755.5" x2="503.06" y2="755.5" stroke="#1818d0" stroke-width="1.1" stroke-linecap="butt"/>
<line x1="503.06" y1="755.6" x2="669.5" y2="755.6" stroke="#1818d0" stroke-width="1.1" stroke-linecap="butt"/>
<path d="M411.52,759 L414.02,763.6 L409.02,763.6 Z" fill="#0000cc"/>
<path d="M436.49,753.2 L438.99,757.8 L433.99,757.8 Z" fill="#0000cc"/>
<path d="M478.1,752.7 L480.6,757.3 L475.6,757.3 Z" fill="#0000cc"/>
<path d="M586.28,752.8 L588.78,757.4 L583.78,757.4 Z" fill="#0000cc"/>
<rect x="403.2" y="732.8" width="266.3" height="55.3" fill="none" stroke="#000" stroke-width="1.2" />
<line x1="403.2" y1="788.1" x2="403.2" y2="785.9" stroke="#000" stroke-width="0.7" stroke-linecap="butt"/>
<line x1="403.2" y1="732.8" x2="403.2" y2="735" stroke="#000" stroke-width="0.7" stroke-linecap="butt"/>
<line x1="419.84" y1="788.1" x2="419.84" y2="786.9" stroke="#000" stroke-width="0.7" stroke-linecap="butt"/>
<line x1="419.84" y1="732.8" x2="419.84" y2="734" stroke="#000" stroke-width="0.7" stroke-linecap="butt"/>
<line x1="436.49" y1="788.1" x2="436.49" y2="786.9" stroke="#000" stroke-width="0.7" stroke-linecap="butt"/>
<line x1="436.49" y1="732.8" x2="436.49" y2="734" stroke="#000" stroke-width="0.7" stroke-linecap="butt"/>
<line x1="453.13" y1="788.1" x2="453.13" y2="786.9" stroke="#000" stroke-width="0.7" stroke-linecap="butt"/>
<line x1="453.13" y1="732.8" x2="453.13" y2="734" stroke="#000" stroke-width="0.7" stroke-linecap="butt"/>
<line x1="469.77" y1="788.1" x2="469.77" y2="785.9" stroke="#000" stroke-width="0.7" stroke-linecap="butt"/>
<line x1="469.77" y1="732.8" x2="469.77" y2="735" stroke="#000" stroke-width="0.7" stroke-linecap="butt"/>
<line x1="486.42" y1="788.1" x2="486.42" y2="786.9" stroke="#000" stroke-width="0.7" stroke-linecap="butt"/>
<line x1="486.42" y1="732.8" x2="486.42" y2="734" stroke="#000" stroke-width="0.7" stroke-linecap="butt"/>
<line x1="503.06" y1="788.1" x2="503.06" y2="786.9" stroke="#000" stroke-width="0.7" stroke-linecap="butt"/>
<line x1="503.06" y1="732.8" x2="503.06" y2="734" stroke="#000" stroke-width="0.7" stroke-linecap="butt"/>
<line x1="519.71" y1="788.1" x2="519.71" y2="786.9" stroke="#000" stroke-width="0.7" stroke-linecap="butt"/>
<line x1="519.71" y1="732.8" x2="519.71" y2="734" stroke="#000" stroke-width="0.7" stroke-linecap="butt"/>
<line x1="536.35" y1="788.1" x2="536.35" y2="785.9" stroke="#000" stroke-width="0.7" stroke-linecap="butt"/>
<line x1="536.35" y1="732.8" x2="536.35" y2="735" stroke="#000" stroke-width="0.7" stroke-linecap="butt"/>
<line x1="552.99" y1="788.1" x2="552.99" y2="786.9" stroke="#000" stroke-width="0.7" stroke-linecap="butt"/>
<line x1="552.99" y1="732.8" x2="552.99" y2="734" stroke="#000" stroke-width="0.7" stroke-linecap="butt"/>
<line x1="569.64" y1="788.1" x2="569.64" y2="786.9" stroke="#000" stroke-width="0.7" stroke-linecap="butt"/>
<line x1="569.64" y1="732.8" x2="569.64" y2="734" stroke="#000" stroke-width="0.7" stroke-linecap="butt"/>
<line x1="586.28" y1="788.1" x2="586.28" y2="786.9" stroke="#000" stroke-width="0.7" stroke-linecap="butt"/>
<line x1="586.28" y1="732.8" x2="586.28" y2="734" stroke="#000" stroke-width="0.7" stroke-linecap="butt"/>
<line x1="602.92" y1="788.1" x2="602.92" y2="785.9" stroke="#000" stroke-width="0.7" stroke-linecap="butt"/>
<line x1="602.92" y1="732.8" x2="602.92" y2="735" stroke="#000" stroke-width="0.7" stroke-linecap="butt"/>
<line x1="619.57" y1="788.1" x2="619.57" y2="786.9" stroke="#000" stroke-width="0.7" stroke-linecap="butt"/>
<line x1="619.57" y1="732.8" x2="619.57" y2="734" stroke="#000" stroke-width="0.7" stroke-linecap="butt"/>
<line x1="636.21" y1="788.1" x2="636.21" y2="786.9" stroke="#000" stroke-width="0.7" stroke-linecap="butt"/>
<line x1="636.21" y1="732.8" x2="636.21" y2="734" stroke="#000" stroke-width="0.7" stroke-linecap="butt"/>
<line x1="652.86" y1="788.1" x2="652.86" y2="786.9" stroke="#000" stroke-width="0.7" stroke-linecap="butt"/>
<line x1="652.86" y1="732.8" x2="652.86" y2="734" stroke="#000" stroke-width="0.7" stroke-linecap="butt"/>
<line x1="669.5" y1="788.1" x2="669.5" y2="785.9" stroke="#000" stroke-width="0.7" stroke-linecap="butt"/>
<line x1="669.5" y1="732.8" x2="669.5" y2="735" stroke="#000" stroke-width="0.7" stroke-linecap="butt"/>
<line x1="403.2" y1="780.1" x2="411.7" y2="780.1" stroke="#000" stroke-width="1" stroke-linecap="butt"/>
<line x1="669.5" y1="780.1" x2="662" y2="780.1" stroke="#000" stroke-width="1" stroke-linecap="butt"/>
<line x1="403.2" y1="760.4" x2="411.7" y2="760.4" stroke="#000" stroke-width="1" stroke-linecap="butt"/>
<line x1="669.5" y1="760.4" x2="662" y2="760.4" stroke="#000" stroke-width="1" stroke-linecap="butt"/>
<line x1="403.2" y1="740.7" x2="411.7" y2="740.7" stroke="#000" stroke-width="1" stroke-linecap="butt"/>
<line x1="669.5" y1="740.7" x2="662" y2="740.7" stroke="#000" stroke-width="1" stroke-linecap="butt"/>
<text x="398" y="783.8" font-family="Liberation Sans" font-size="11" font-weight="normal" font-style="normal" text-anchor="end" fill="#111" stroke="#111" stroke-width="0.25" >0.5</text>
<text x="398" y="764.1" font-family="Liberation Sans" font-size="11" font-weight="normal" font-style="normal" text-anchor="end" fill="#111" stroke="#111" stroke-width="0.25" >1</text>
<text x="398" y="744.4" font-family="Liberation Sans" font-size="11" font-weight="normal" font-style="normal" text-anchor="end" fill="#111" stroke="#111" stroke-width="0.25" >1.5</text>
<line x1="548.6" y1="739.5" x2="568.3" y2="739.5" stroke="#1818d0" stroke-width="1.2" stroke-linecap="butt"/>
<path d="M558.3,736.7 L560.8,741.3 L555.8,741.3 Z" fill="#0000cc"/>
<text x="571.5" y="742.1" font-family="Liberation Sans" font-size="7.1" font-weight="bold" font-style="normal" text-anchor="start" fill="#111" >Pythia8</text>
<text x="0" y="0" font-family="Liberation Sans" font-size="12.7" font-weight="normal" font-style="normal" text-anchor="end" fill="#111" stroke="#111" stroke-width="0.25" transform="translate(366.3,731.1999999999999) rotate(-90)">Data / MC</text>
<rect x="403.2" y="812.8" width="16.64" height="21.9" fill="url(#hrR4)" stroke="none" stroke-width="1" />
<rect x="419.84" y="812.8" width="33.29" height="21" fill="url(#hrR4)" stroke="none" stroke-width="1" />
<rect x="453.13" y="817.7" width="49.93" height="12.6" fill="url(#hrR4)" stroke="none" stroke-width="1" />
<rect x="503.06" y="815.4" width="166.44" height="15.8" fill="url(#hrR4)" stroke="none" stroke-width="1" />
<line x1="404.2" y1="823.3" x2="668.5" y2="823.3" stroke="#d43030" stroke-width="1.2" stroke-dasharray="2.8,2.8" stroke-linecap="butt"/>
<line x1="403.2" y1="830" x2="419.84" y2="830" stroke="#d42020" stroke-width="1.1" stroke-linecap="butt"/>
<line x1="419.84" y1="834.8" x2="453.13" y2="834.8" stroke="#d42020" stroke-width="1.1" stroke-linecap="butt"/>
<line x1="453.13" y1="834.3" x2="503.06" y2="834.3" stroke="#d42020" stroke-width="1.1" stroke-linecap="butt"/>
<line x1="503.06" y1="833.8" x2="669.5" y2="833.8" stroke="#d42020" stroke-width="1.1" stroke-linecap="butt"/>
<line x1="411.52" y1="826" x2="411.52" y2="834" stroke="#d42020" stroke-width="1.2" stroke-linecap="butt"/>
<circle cx="411.52" cy="830" r="2.45" fill="#cc0000"/>
<circle cx="436.49" cy="834.8" r="2.45" fill="#cc0000"/>
<circle cx="478.1" cy="834.3" r="2.45" fill="#cc0000"/>
<circle cx="586.28" cy="833.8" r="2.45" fill="#cc0000"/>
<rect x="403.2" y="796" width="266.3" height="55.4" fill="none" stroke="#000" stroke-width="1.2" />
<line x1="403.2" y1="851.4" x2="403.2" y2="849.2" stroke="#000" stroke-width="0.7" stroke-linecap="butt"/>
<line x1="403.2" y1="796" x2="403.2" y2="798.2" stroke="#000" stroke-width="0.7" stroke-linecap="butt"/>
<line x1="419.84" y1="851.4" x2="419.84" y2="850.2" stroke="#000" stroke-width="0.7" stroke-linecap="butt"/>
<line x1="419.84" y1="796" x2="419.84" y2="797.2" stroke="#000" stroke-width="0.7" stroke-linecap="butt"/>
<line x1="436.49" y1="851.4" x2="436.49" y2="850.2" stroke="#000" stroke-width="0.7" stroke-linecap="butt"/>
<line x1="436.49" y1="796" x2="436.49" y2="797.2" stroke="#000" stroke-width="0.7" stroke-linecap="butt"/>
<line x1="453.13" y1="851.4" x2="453.13" y2="850.2" stroke="#000" stroke-width="0.7" stroke-linecap="butt"/>
<line x1="453.13" y1="796" x2="453.13" y2="797.2" stroke="#000" stroke-width="0.7" stroke-linecap="butt"/>
<line x1="469.77" y1="851.4" x2="469.77" y2="849.2" stroke="#000" stroke-width="0.7" stroke-linecap="butt"/>
<line x1="469.77" y1="796" x2="469.77" y2="798.2" stroke="#000" stroke-width="0.7" stroke-linecap="butt"/>
<line x1="486.42" y1="851.4" x2="486.42" y2="850.2" stroke="#000" stroke-width="0.7" stroke-linecap="butt"/>
<line x1="486.42" y1="796" x2="486.42" y2="797.2" stroke="#000" stroke-width="0.7" stroke-linecap="butt"/>
<line x1="503.06" y1="851.4" x2="503.06" y2="850.2" stroke="#000" stroke-width="0.7" stroke-linecap="butt"/>
<line x1="503.06" y1="796" x2="503.06" y2="797.2" stroke="#000" stroke-width="0.7" stroke-linecap="butt"/>
<line x1="519.71" y1="851.4" x2="519.71" y2="850.2" stroke="#000" stroke-width="0.7" stroke-linecap="butt"/>
<line x1="519.71" y1="796" x2="519.71" y2="797.2" stroke="#000" stroke-width="0.7" stroke-linecap="butt"/>
<line x1="536.35" y1="851.4" x2="536.35" y2="849.2" stroke="#000" stroke-width="0.7" stroke-linecap="butt"/>
<line x1="536.35" y1="796" x2="536.35" y2="798.2" stroke="#000" stroke-width="0.7" stroke-linecap="butt"/>
<line x1="552.99" y1="851.4" x2="552.99" y2="850.2" stroke="#000" stroke-width="0.7" stroke-linecap="butt"/>
<line x1="552.99" y1="796" x2="552.99" y2="797.2" stroke="#000" stroke-width="0.7" stroke-linecap="butt"/>
<line x1="569.64" y1="851.4" x2="569.64" y2="850.2" stroke="#000" stroke-width="0.7" stroke-linecap="butt"/>
<line x1="569.64" y1="796" x2="569.64" y2="797.2" stroke="#000" stroke-width="0.7" stroke-linecap="butt"/>
<line x1="586.28" y1="851.4" x2="586.28" y2="850.2" stroke="#000" stroke-width="0.7" stroke-linecap="butt"/>
<line x1="586.28" y1="796" x2="586.28" y2="797.2" stroke="#000" stroke-width="0.7" stroke-linecap="butt"/>
<line x1="602.92" y1="851.4" x2="602.92" y2="849.2" stroke="#000" stroke-width="0.7" stroke-linecap="butt"/>
<line x1="602.92" y1="796" x2="602.92" y2="798.2" stroke="#000" stroke-width="0.7" stroke-linecap="butt"/>
<line x1="619.57" y1="851.4" x2="619.57" y2="850.2" stroke="#000" stroke-width="0.7" stroke-linecap="butt"/>
<line x1="619.57" y1="796" x2="619.57" y2="797.2" stroke="#000" stroke-width="0.7" stroke-linecap="butt"/>
<line x1="636.21" y1="851.4" x2="636.21" y2="850.2" stroke="#000" stroke-width="0.7" stroke-linecap="butt"/>
<line x1="636.21" y1="796" x2="636.21" y2="797.2" stroke="#000" stroke-width="0.7" stroke-linecap="butt"/>
<line x1="652.86" y1="851.4" x2="652.86" y2="850.2" stroke="#000" stroke-width="0.7" stroke-linecap="butt"/>
<line x1="652.86" y1="796" x2="652.86" y2="797.2" stroke="#000" stroke-width="0.7" stroke-linecap="butt"/>
<line x1="669.5" y1="851.4" x2="669.5" y2="849.2" stroke="#000" stroke-width="0.7" stroke-linecap="butt"/>
<line x1="669.5" y1="796" x2="669.5" y2="798.2" stroke="#000" stroke-width="0.7" stroke-linecap="butt"/>
<line x1="403.2" y1="843" x2="411.7" y2="843" stroke="#000" stroke-width="1" stroke-linecap="butt"/>
<line x1="669.5" y1="843" x2="662" y2="843" stroke="#000" stroke-width="1" stroke-linecap="butt"/>
<line x1="403.2" y1="823.3" x2="411.7" y2="823.3" stroke="#000" stroke-width="1" stroke-linecap="butt"/>
<line x1="669.5" y1="823.3" x2="662" y2="823.3" stroke="#000" stroke-width="1" stroke-linecap="butt"/>
<line x1="403.2" y1="803.6" x2="411.7" y2="803.6" stroke="#000" stroke-width="1" stroke-linecap="butt"/>
<line x1="669.5" y1="803.6" x2="662" y2="803.6" stroke="#000" stroke-width="1" stroke-linecap="butt"/>
<text x="398" y="846.7" font-family="Liberation Sans" font-size="11" font-weight="normal" font-style="normal" text-anchor="end" fill="#111" stroke="#111" stroke-width="0.25" >0.5</text>
<text x="398" y="827" font-family="Liberation Sans" font-size="11" font-weight="normal" font-style="normal" text-anchor="end" fill="#111" stroke="#111" stroke-width="0.25" >1</text>
<text x="398" y="807.3" font-family="Liberation Sans" font-size="11" font-weight="normal" font-style="normal" text-anchor="end" fill="#111" stroke="#111" stroke-width="0.25" >1.5</text>
<line x1="548.6" y1="803" x2="568.3" y2="803" stroke="#d42020" stroke-width="1.2" stroke-linecap="butt"/>
<circle cx="558.3" cy="803" r="2.4" fill="#cc0000"/>
<text x="571.5" y="805.6" font-family="Liberation Sans" font-size="7.1" font-weight="bold" font-style="normal" text-anchor="start" fill="#111" >Herwig++</text>
<text x="0" y="0" font-family="Liberation Sans" font-size="12.7" font-weight="normal" font-style="normal" text-anchor="end" fill="#111" stroke="#111" stroke-width="0.25" transform="translate(366.3,794.4) rotate(-90)">Data / MC</text>
<text x="403.2" y="865.6" font-family="Liberation Sans" font-size="11" font-weight="normal" font-style="normal" text-anchor="middle" fill="#111" stroke="#111" stroke-width="0.25" >200</text>
<text x="469.77" y="865.6" font-family="Liberation Sans" font-size="11" font-weight="normal" font-style="normal" text-anchor="middle" fill="#111" stroke="#111" stroke-width="0.25" >400</text>
<text x="536.35" y="865.6" font-family="Liberation Sans" font-size="11" font-weight="normal" font-style="normal" text-anchor="middle" fill="#111" stroke="#111" stroke-width="0.25" >600</text>
<text x="602.92" y="865.6" font-family="Liberation Sans" font-size="11" font-weight="normal" font-style="normal" text-anchor="middle" fill="#111" stroke="#111" stroke-width="0.25" >800</text>
<text x="669.5" y="865.6" font-family="Liberation Sans" font-size="11" font-weight="normal" font-style="normal" text-anchor="middle" fill="#111" stroke="#111" stroke-width="0.25" >1000</text>
<text x="683.6" y="892.2" font-family="Liberation Sans" font-size="13" font-weight="normal" font-style="normal" text-anchor="end" fill="#111" stroke="#111" stroke-width="0.25" >Jet p<tspan font-size="9" dy="4">T</tspan><tspan dy="-4"> [GeV]</tspan></text>
<text x="515.6" y="903" font-family="Liberation Serif" font-size="16" font-weight="bold" font-style="normal" text-anchor="middle" fill="#000" >(d)</text>
</svg>
</body></html>
